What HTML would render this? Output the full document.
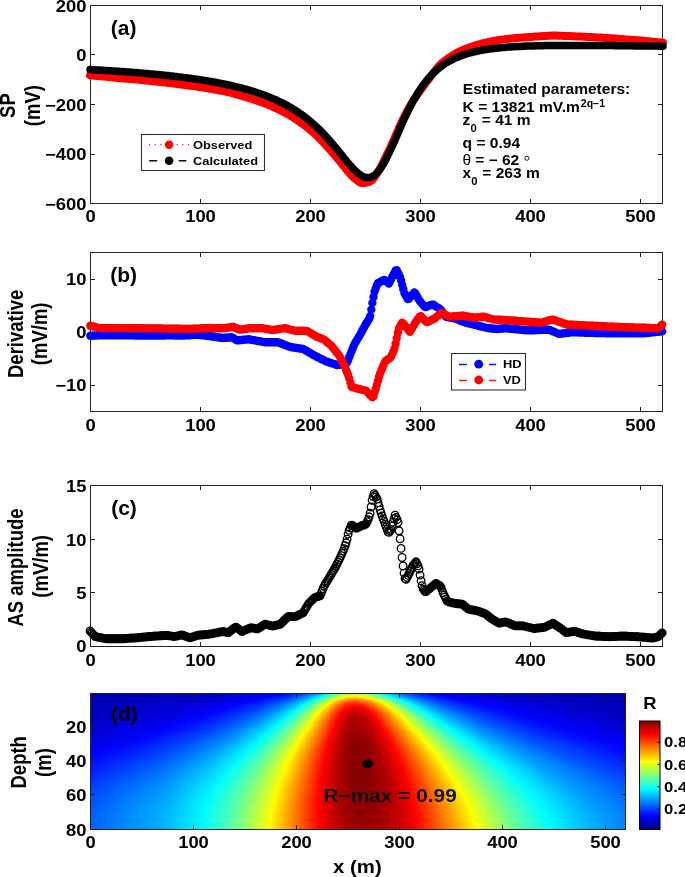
<!DOCTYPE html>
<html><head><meta charset="utf-8"><style>
html,body{margin:0;padding:0;background:#fff;width:685px;height:877px;overflow:hidden}
svg{position:absolute;left:0;top:0;font-family:"Liberation Sans",sans-serif;will-change:transform}
</style></head><body>
<svg width="685" height="877" viewBox="0 0 685 877">
<path d="M200.5 204v-5M200.5 5v5M310.5 204v-5M310.5 5v5M420.5 204v-5M420.5 5v5M530.5 204v-5M530.5 5v5M640.5 204v-5M640.5 5v5M90 54.5h5M663 54.5h-5M90 104.5h5M663 104.5h-5M90 154.5h5M663 154.5h-5" stroke="#222" stroke-width="1" fill="none"/>
<rect x="90.5" y="5.5" width="572" height="198" fill="none" stroke="#222" stroke-width="1"/>
<polyline points="90.0,75.3 91.1,75.4 92.2,75.5 93.3,75.6 94.4,75.7 95.5,75.8 96.6,75.9 97.7,76.0 98.8,76.1 99.9,76.2 101.0,76.3 102.1,76.4 103.2,76.5 104.3,76.6 105.4,76.7 106.5,76.8 107.6,76.9 108.7,77.0 109.8,77.1 110.9,77.2 112.0,77.3 113.1,77.4 114.2,77.5 115.3,77.7 116.4,77.8 117.5,77.9 118.7,78.0 119.8,78.1 120.9,78.2 122.0,78.3 123.1,78.4 124.2,78.5 125.3,78.6 126.4,78.7 127.5,78.8 128.6,78.8 129.7,78.9 130.8,79.0 131.9,79.1 133.0,79.2 134.1,79.3 135.2,79.4 136.3,79.5 137.4,79.6 138.5,79.7 139.6,79.8 140.7,79.9 141.8,80.1 142.9,80.2 144.0,80.3 145.1,80.4 146.2,80.5 147.3,80.6 148.4,80.7 149.5,80.8 150.6,80.9 151.7,81.0 152.8,81.2 153.9,81.3 155.0,81.4 156.1,81.5 157.2,81.6 158.3,81.8 159.4,81.9 160.5,82.0 161.6,82.1 162.7,82.2 163.8,82.4 164.9,82.5 166.0,82.6 167.1,82.8 168.2,82.9 169.3,83.0 170.4,83.2 171.5,83.3 172.7,83.4 173.8,83.6 174.9,83.7 176.0,83.8 177.1,84.0 178.2,84.1 179.3,84.3 180.4,84.4 181.5,84.6 182.6,84.7 183.7,84.8 184.8,85.0 185.9,85.1 187.0,85.3 188.1,85.4 189.2,85.5 190.3,85.7 191.4,85.8 192.5,86.0 193.6,86.1 194.7,86.3 195.8,86.5 196.9,86.6 198.0,86.8 199.1,86.9 200.2,87.1 201.3,87.3 202.4,87.4 203.5,87.6 204.6,87.8 205.7,88.0 206.8,88.1 207.9,88.3 209.0,88.5 210.1,88.7 211.2,88.9 212.3,89.1 213.4,89.3 214.5,89.5 215.6,89.7 216.7,89.9 217.8,90.1 218.9,90.3 220.0,90.5 221.1,90.7 222.2,90.9 223.3,91.1 224.4,91.4 225.5,91.6 226.6,91.8 227.8,92.1 228.9,92.3 230.0,92.5 231.1,92.8 232.2,93.2 233.3,93.5 234.4,93.8 235.5,94.1 236.6,94.4 237.7,94.7 238.8,95.1 239.9,95.4 241.0,95.7 242.1,96.0 243.2,96.3 244.3,96.6 245.4,96.9 246.5,97.3 247.6,97.6 248.7,97.9 249.8,98.3 250.9,98.6 252.0,99.0 253.1,99.3 254.2,99.7 255.3,100.0 256.4,100.4 257.5,100.8 258.6,101.2 259.7,101.6 260.8,102.0 261.9,102.4 263.0,102.8 264.1,103.2 265.2,103.6 266.3,104.1 267.4,104.5 268.5,104.9 269.6,105.4 270.7,105.9 271.8,106.3 272.9,106.8 274.0,107.3 275.1,107.8 276.2,108.3 277.3,108.8 278.4,109.4 279.5,109.9 280.6,110.5 281.7,111.0 282.9,111.6 284.0,112.2 285.1,112.8 286.2,113.4 287.3,114.0 288.4,114.6 289.5,115.2 290.6,115.9 291.7,116.6 292.8,117.2 293.9,117.9 295.0,118.6 296.1,119.3 297.2,120.1 298.3,120.8 299.4,121.6 300.5,122.4 301.6,123.2 302.7,124.0 303.8,124.8 304.9,125.6 306.0,126.5 307.1,127.3 308.2,128.2 309.3,129.1 310.4,130.0 311.5,131.0 312.6,131.9 313.7,132.9 314.8,133.9 315.9,134.9 317.0,136.0 318.1,137.0 319.2,138.1 320.3,139.2 321.4,140.3 322.5,141.5 323.6,142.6 324.7,143.8 325.8,145.0 326.9,146.2 328.0,147.4 329.1,148.7 330.2,149.9 331.3,151.2 332.4,152.5 333.5,153.8 334.6,155.1 335.7,156.5 336.8,157.8 338.0,159.2 339.1,160.5 340.2,161.9 341.3,163.3 342.4,164.6 343.5,166.0 344.6,167.4 345.7,168.7 346.8,170.1 347.9,171.4 349.0,172.7 350.1,174.0 351.2,175.1 352.3,176.2 353.4,177.2 354.5,178.2 355.6,179.2 356.7,180.1 357.8,180.9 358.9,181.7 360.0,182.3 361.1,182.9 362.2,183.1 363.3,183.1 364.4,183.1 365.5,183.0 366.6,182.7 367.7,182.4 368.8,182.0 369.9,181.5 371.0,180.9 372.1,180.1 373.2,178.8 374.3,177.4 375.4,175.8 376.5,174.1 377.6,172.4 378.7,170.6 379.8,168.6 380.9,166.7 382.0,164.7 383.1,162.6 384.2,160.3 385.3,158.1 386.4,155.9 387.5,153.6 388.6,151.3 389.7,148.9 390.8,146.4 391.9,143.9 393.1,141.4 394.2,138.9 395.3,136.4 396.4,133.8 397.5,131.3 398.6,128.7 399.7,126.2 400.8,123.9 401.9,121.6 403.0,119.3 404.1,117.1 405.2,114.9 406.3,112.8 407.4,110.7 408.5,108.7 409.6,106.7 410.7,104.8 411.8,103.0 412.9,101.2 414.0,99.5 415.1,97.8 416.2,96.2 417.3,94.6 418.4,93.1 419.5,91.7 420.6,90.1 421.7,88.5 422.8,86.9 423.9,85.3 425.0,83.8 426.1,82.4 427.2,81.0 428.3,79.6 429.4,78.3 430.5,76.9 431.6,75.3 432.7,73.8 433.8,72.3 434.9,70.9 436.0,69.5 437.1,68.1 438.2,66.8 439.3,65.5 440.4,64.4 441.5,63.4 442.6,62.5 443.7,61.6 444.8,60.7 445.9,59.9 447.0,59.1 448.2,58.3 449.3,57.5 450.4,56.8 451.5,56.1 452.6,55.4 453.7,54.7 454.8,54.1 455.9,53.4 457.0,52.8 458.1,52.2 459.2,51.6 460.3,51.1 461.4,50.6 462.5,50.1 463.6,49.6 464.7,49.2 465.8,48.7 466.9,48.3 468.0,47.9 469.1,47.5 470.2,47.1 471.3,46.7 472.4,46.3 473.5,46.0 474.6,45.6 475.7,45.3 476.8,44.9 477.9,44.6 479.0,44.3 480.1,44.0 481.2,43.7 482.3,43.4 483.4,43.2 484.5,42.9 485.6,42.6 486.7,42.4 487.8,42.1 488.9,41.9 490.0,41.7 491.1,41.5 492.2,41.2 493.3,41.0 494.4,40.8 495.5,40.6 496.6,40.4 497.7,40.2 498.8,40.0 499.9,39.8 501.0,39.7 502.1,39.5 503.3,39.4 504.4,39.3 505.5,39.1 506.6,39.0 507.7,38.9 508.8,38.8 509.9,38.7 511.0,38.5 512.1,38.4 513.2,38.3 514.3,38.2 515.4,38.1 516.5,38.0 517.6,37.9 518.7,37.8 519.8,37.7 520.9,37.7 522.0,37.6 523.1,37.5 524.2,37.4 525.3,37.3 526.4,37.2 527.5,37.2 528.6,37.1 529.7,37.0 530.8,36.9 531.9,36.9 533.0,36.8 534.1,36.7 535.2,36.6 536.3,36.5 537.4,36.5 538.5,36.4 539.6,36.3 540.7,36.3 541.8,36.2 542.9,36.1 544.0,36.1 545.1,36.0 546.2,35.9 547.3,35.9 548.4,35.8 549.5,35.8 550.6,35.7 551.7,35.6 552.8,35.6 553.9,35.5 555.0,35.5 556.1,35.6 557.2,35.6 558.4,35.7 559.5,35.7 560.6,35.7 561.7,35.8 562.8,35.8 563.9,35.9 565.0,35.9 566.1,36.0 567.2,36.0 568.3,36.1 569.4,36.1 570.5,36.1 571.6,36.2 572.7,36.2 573.8,36.3 574.9,36.3 576.0,36.4 577.1,36.4 578.2,36.5 579.3,36.5 580.4,36.6 581.5,36.6 582.6,36.7 583.7,36.7 584.8,36.8 585.9,36.8 587.0,36.9 588.1,36.9 589.2,37.0 590.3,37.1 591.4,37.1 592.5,37.2 593.6,37.2 594.7,37.3 595.8,37.3 596.9,37.4 598.0,37.4 599.1,37.5 600.2,37.6 601.3,37.6 602.4,37.7 603.5,37.8 604.6,37.9 605.7,37.9 606.8,38.0 607.9,38.1 609.0,38.2 610.1,38.2 611.2,38.3 612.3,38.4 613.5,38.5 614.6,38.6 615.7,38.6 616.8,38.7 617.9,38.8 619.0,38.9 620.1,39.0 621.2,39.0 622.3,39.1 623.4,39.2 624.5,39.3 625.6,39.4 626.7,39.4 627.8,39.5 628.9,39.6 630.0,39.7 631.1,39.8 632.2,39.8 633.3,39.9 634.4,40.0 635.5,40.1 636.6,40.2 637.7,40.2 638.8,40.3 639.9,40.4 641.0,40.5 642.1,40.6 643.2,40.7 644.3,40.9 645.4,41.0 646.5,41.1 647.6,41.2 648.7,41.3 649.8,41.4 650.9,41.5 652.0,41.6 653.1,41.8 654.2,41.9 655.3,42.0 656.4,42.1 657.5,42.2 658.6,42.3 659.7,42.4 660.8,42.6 661.9,42.7 663.0,42.7" fill="none" stroke="#ff0000" stroke-width="8" stroke-linecap="round" stroke-linejoin="round"/>
<polyline points="90.0,69.6 91.1,69.6 92.2,69.7 93.3,69.8 94.4,69.8 95.5,69.9 96.6,69.9 97.7,70.0 98.8,70.1 99.9,70.1 101.0,70.2 102.1,70.3 103.2,70.3 104.3,70.4 105.4,70.5 106.5,70.5 107.6,70.6 108.7,70.7 109.8,70.7 110.9,70.8 112.0,70.9 113.1,71.0 114.2,71.0 115.3,71.1 116.4,71.2 117.5,71.3 118.7,71.3 119.8,71.4 120.9,71.5 122.0,71.6 123.1,71.6 124.2,71.7 125.3,71.8 126.4,71.9 127.5,72.0 128.6,72.0 129.7,72.1 130.8,72.2 131.9,72.3 133.0,72.4 134.1,72.5 135.2,72.6 136.3,72.6 137.4,72.7 138.5,72.8 139.6,72.9 140.7,73.0 141.8,73.1 142.9,73.2 144.0,73.3 145.1,73.4 146.2,73.5 147.3,73.6 148.4,73.7 149.5,73.8 150.6,73.9 151.7,74.0 152.8,74.1 153.9,74.2 155.0,74.3 156.1,74.4 157.2,74.5 158.3,74.6 159.4,74.7 160.5,74.8 161.6,74.9 162.7,75.0 163.8,75.2 164.9,75.3 166.0,75.4 167.1,75.5 168.2,75.6 169.3,75.7 170.4,75.9 171.5,76.0 172.7,76.1 173.8,76.2 174.9,76.4 176.0,76.5 177.1,76.6 178.2,76.8 179.3,76.9 180.4,77.0 181.5,77.2 182.6,77.3 183.7,77.4 184.8,77.6 185.9,77.7 187.0,77.9 188.1,78.0 189.2,78.2 190.3,78.3 191.4,78.5 192.5,78.6 193.6,78.8 194.7,78.9 195.8,79.1 196.9,79.2 198.0,79.4 199.1,79.6 200.2,79.7 201.3,79.9 202.4,80.1 203.5,80.3 204.6,80.4 205.7,80.6 206.8,80.8 207.9,81.0 209.0,81.2 210.1,81.4 211.2,81.5 212.3,81.7 213.4,81.9 214.5,82.1 215.6,82.3 216.7,82.5 217.8,82.8 218.9,83.0 220.0,83.2 221.1,83.4 222.2,83.6 223.3,83.8 224.4,84.1 225.5,84.3 226.6,84.5 227.8,84.8 228.9,85.0 230.0,85.2 231.1,85.5 232.2,85.7 233.3,86.0 234.4,86.3 235.5,86.5 236.6,86.8 237.7,87.1 238.8,87.3 239.9,87.6 241.0,87.9 242.1,88.2 243.2,88.5 244.3,88.8 245.4,89.1 246.5,89.4 247.6,89.7 248.7,90.0 249.8,90.3 250.9,90.7 252.0,91.0 253.1,91.3 254.2,91.7 255.3,92.0 256.4,92.4 257.5,92.8 258.6,93.1 259.7,93.5 260.8,93.9 261.9,94.3 263.0,94.7 264.1,95.1 265.2,95.5 266.3,95.9 267.4,96.3 268.5,96.8 269.6,97.2 270.7,97.7 271.8,98.1 272.9,98.6 274.0,99.1 275.1,99.5 276.2,100.0 277.3,100.5 278.4,101.1 279.5,101.6 280.6,102.1 281.7,102.7 282.9,103.2 284.0,103.8 285.1,104.4 286.2,104.9 287.3,105.5 288.4,106.2 289.5,106.8 290.6,107.4 291.7,108.1 292.8,108.7 293.9,109.4 295.0,110.1 296.1,110.8 297.2,111.5 298.3,112.3 299.4,113.0 300.5,113.8 301.6,114.5 302.7,115.3 303.8,116.1 304.9,117.0 306.0,117.8 307.1,118.7 308.2,119.6 309.3,120.5 310.4,121.4 311.5,122.3 312.6,123.3 313.7,124.2 314.8,125.2 315.9,126.2 317.0,127.3 318.1,128.3 319.2,129.4 320.3,130.5 321.4,131.6 322.5,132.7 323.6,133.9 324.7,135.0 325.8,136.2 326.9,137.4 328.0,138.6 329.1,139.9 330.2,141.1 331.3,142.4 332.4,143.7 333.5,145.0 334.6,146.3 335.7,147.7 336.8,149.0 338.0,150.4 339.1,151.7 340.2,153.1 341.3,154.5 342.4,155.8 343.5,157.2 344.6,158.6 345.7,159.9 346.8,161.3 347.9,162.6 349.0,163.9 350.1,165.2 351.2,166.4 352.3,167.7 353.4,168.8 354.5,170.0 355.6,171.0 356.7,172.1 357.8,173.0 358.9,173.9 360.0,174.7 361.1,175.4 362.2,176.1 363.3,176.6 364.4,177.0 365.5,177.3 366.6,177.5 367.7,177.6 368.8,177.6 369.9,177.4 371.0,177.1 372.1,176.6 373.2,176.0 374.3,175.3 375.4,174.4 376.5,173.4 377.6,172.2 378.7,171.0 379.8,169.5 380.9,168.0 382.0,166.3 383.1,164.5 384.2,162.6 385.3,160.6 386.4,158.5 387.5,156.3 388.6,154.0 389.7,151.7 390.8,149.3 391.9,146.9 393.1,144.4 394.2,141.9 395.3,139.4 396.4,136.8 397.5,134.3 398.6,131.7 399.7,129.2 400.8,126.7 401.9,124.2 403.0,121.7 404.1,119.3 405.2,116.9 406.3,114.6 407.4,112.3 408.5,110.0 409.6,107.8 410.7,105.6 411.8,103.5 412.9,101.5 414.0,99.5 415.1,97.5 416.2,95.6 417.3,93.8 418.4,92.0 419.5,90.3 420.6,88.7 421.7,87.1 422.8,85.5 423.9,84.0 425.0,82.6 426.1,81.2 427.2,79.8 428.3,78.5 429.4,77.3 430.5,76.1 431.6,74.9 432.7,73.8 433.8,72.7 434.9,71.7 436.0,70.7 437.1,69.7 438.2,68.8 439.3,67.9 440.4,67.0 441.5,66.2 442.6,65.4 443.7,64.6 444.8,63.9 445.9,63.2 447.0,62.5 448.2,61.9 449.3,61.2 450.4,60.6 451.5,60.0 452.6,59.5 453.7,58.9 454.8,58.4 455.9,57.9 457.0,57.4 458.1,57.0 459.2,56.5 460.3,56.1 461.4,55.7 462.5,55.3 463.6,54.9 464.7,54.5 465.8,54.2 466.9,53.8 468.0,53.5 469.1,53.2 470.2,52.9 471.3,52.6 472.4,52.3 473.5,52.0 474.6,51.8 475.7,51.5 476.8,51.3 477.9,51.1 479.0,50.8 480.1,50.6 481.2,50.4 482.3,50.2 483.4,50.0 484.5,49.8 485.6,49.6 486.7,49.5 487.8,49.3 488.9,49.1 490.0,49.0 491.1,48.8 492.2,48.7 493.3,48.5 494.4,48.4 495.5,48.3 496.6,48.2 497.7,48.0 498.8,47.9 499.9,47.8 501.0,47.7 502.1,47.6 503.3,47.5 504.4,47.4 505.5,47.3 506.6,47.2 507.7,47.1 508.8,47.1 509.9,47.0 511.0,46.9 512.1,46.8 513.2,46.8 514.3,46.7 515.4,46.6 516.5,46.6 517.6,46.5 518.7,46.5 519.8,46.4 520.9,46.4 522.0,46.3 523.1,46.3 524.2,46.2 525.3,46.2 526.4,46.1 527.5,46.1 528.6,46.0 529.7,46.0 530.8,46.0 531.9,45.9 533.0,45.9 534.1,45.9 535.2,45.8 536.3,45.8 537.4,45.8 538.5,45.8 539.6,45.7 540.7,45.7 541.8,45.7 542.9,45.7 544.0,45.6 545.1,45.6 546.2,45.6 547.3,45.6 548.4,45.6 549.5,45.6 550.6,45.6 551.7,45.5 552.8,45.5 553.9,45.5 555.0,45.5 556.1,45.5 557.2,45.5 558.4,45.5 559.5,45.5 560.6,45.5 561.7,45.5 562.8,45.5 563.9,45.4 565.0,45.4 566.1,45.4 567.2,45.4 568.3,45.4 569.4,45.4 570.5,45.4 571.6,45.4 572.7,45.4 573.8,45.4 574.9,45.4 576.0,45.4 577.1,45.4 578.2,45.4 579.3,45.4 580.4,45.4 581.5,45.4 582.6,45.4 583.7,45.4 584.8,45.4 585.9,45.5 587.0,45.5 588.1,45.5 589.2,45.5 590.3,45.5 591.4,45.5 592.5,45.5 593.6,45.5 594.7,45.5 595.8,45.5 596.9,45.5 598.0,45.5 599.1,45.5 600.2,45.5 601.3,45.5 602.4,45.6 603.5,45.6 604.6,45.6 605.7,45.6 606.8,45.6 607.9,45.6 609.0,45.6 610.1,45.6 611.2,45.6 612.3,45.6 613.5,45.6 614.6,45.7 615.7,45.7 616.8,45.7 617.9,45.7 619.0,45.7 620.1,45.7 621.2,45.7 622.3,45.7 623.4,45.7 624.5,45.8 625.6,45.8 626.7,45.8 627.8,45.8 628.9,45.8 630.0,45.8 631.1,45.8 632.2,45.8 633.3,45.8 634.4,45.9 635.5,45.9 636.6,45.9 637.7,45.9 638.8,45.9 639.9,45.9 641.0,45.9 642.1,45.9 643.2,46.0 644.3,46.0 645.4,46.0 646.5,46.0 647.6,46.0 648.7,46.0 649.8,46.0 650.9,46.0 652.0,46.1 653.1,46.1 654.2,46.1 655.3,46.1 656.4,46.1 657.5,46.1 658.6,46.1 659.7,46.1 660.8,46.2 661.9,46.2 663.0,46.2" fill="none" stroke="#000" stroke-width="7.5" stroke-linecap="round" stroke-linejoin="round"/>
<text transform="translate(90.50,222.00) scale(1.15,1)" font-size="16" text-anchor="middle" font-weight="bold" fill="#000">0</text>
<text transform="translate(200.50,222.00) scale(1.15,1)" font-size="16" text-anchor="middle" font-weight="bold" fill="#000">100</text>
<text transform="translate(310.50,222.00) scale(1.15,1)" font-size="16" text-anchor="middle" font-weight="bold" fill="#000">200</text>
<text transform="translate(420.50,222.00) scale(1.15,1)" font-size="16" text-anchor="middle" font-weight="bold" fill="#000">300</text>
<text transform="translate(530.50,222.00) scale(1.15,1)" font-size="16" text-anchor="middle" font-weight="bold" fill="#000">400</text>
<text transform="translate(640.50,222.00) scale(1.15,1)" font-size="16" text-anchor="middle" font-weight="bold" fill="#000">500</text>
<text transform="translate(86.50,11.50) scale(1.15,1)" font-size="16" text-anchor="end" font-weight="bold" fill="#000">200</text>
<text transform="translate(86.50,61.00) scale(1.15,1)" font-size="16" text-anchor="end" font-weight="bold" fill="#000">0</text>
<text transform="translate(86.50,110.50) scale(1.15,1)" font-size="16" text-anchor="end" font-weight="bold" fill="#000">−200</text>
<text transform="translate(86.50,160.00) scale(1.15,1)" font-size="16" text-anchor="end" font-weight="bold" fill="#000">−400</text>
<text transform="translate(86.50,209.50) scale(1.15,1)" font-size="16" text-anchor="end" font-weight="bold" fill="#000">−600</text>
<text transform="translate(110.80,35.40) scale(1.0,1)" font-size="21" text-anchor="start" font-weight="bold" fill="#000">(a)</text>
<text transform="translate(15.00,105.60) scale(1.15,1) rotate(-90)" font-size="18.5" text-anchor="middle" font-weight="bold" fill="#000">SP</text>
<text transform="translate(40.20,105.60) scale(1.15,1) rotate(-90)" font-size="18.5" text-anchor="middle" font-weight="bold" fill="#000">(mV)</text>
<rect x="141.5" y="134.5" width="123" height="36" fill="#fff" stroke="#333" stroke-width="1.1"/>
<path d="M149 144.7h1M154.7 144.7h1M160.4 144.7h1M176.6 144.7h1M182.3 144.7h1M188 144.7h1" stroke="#f00" stroke-width="1.2"/>
<circle cx="169.1" cy="144.7" r="4.3" fill="#f00"/>
<path d="M149.2 160.7h8M178.7 160.7h7.6" stroke="#000" stroke-width="1.4"/>
<circle cx="169.1" cy="160.7" r="4.3" fill="#000"/>
<text transform="translate(193.00,148.80) scale(1.15,1)" font-size="11.2" text-anchor="start" font-weight="bold" fill="#000">Observed</text>
<text transform="translate(193.00,164.60) scale(1.15,1)" font-size="11.2" text-anchor="start" font-weight="bold" fill="#000">Calculated</text>
<text transform="translate(462.80,93.75) scale(1.11,1)" font-size="14" text-anchor="start" font-weight="bold" fill="#000">Estimated parameters:</text>
<text transform="translate(462.60,112.20) scale(1.11,1)" font-size="14" text-anchor="start" font-weight="bold" fill="#000">K = 13821 mV.m</text>
<text transform="translate(580.80,106.60) scale(1.05,1)" font-size="10" text-anchor="start" font-weight="bold" fill="#000">2q−1</text>
<text transform="translate(462.40,125.20) scale(1.11,1)" font-size="14" text-anchor="start" font-weight="bold" fill="#000">z</text>
<text transform="translate(470.60,132.40) scale(1.1,1)" font-size="10.2" text-anchor="start" font-weight="bold" fill="#000">0</text>
<text transform="translate(481.80,125.20) scale(1.11,1)" font-size="14" text-anchor="start" font-weight="bold" fill="#000">= 41 m</text>
<text transform="translate(462.60,147.80) scale(1.11,1)" font-size="14" text-anchor="start" font-weight="bold" fill="#000">q = 0.94</text>
<text transform="translate(462.40,164.60) scale(1.11,1)" font-size="14" text-anchor="start" font-weight="normal" fill="#000">θ</text>
<text transform="translate(475.20,164.60) scale(1.11,1)" font-size="14" text-anchor="start" font-weight="bold" fill="#000">= − 62</text>
<circle cx="526.9" cy="158.2" r="2.1" fill="none" stroke="#000" stroke-width="0.9"/>
<text transform="translate(462.40,178.30) scale(1.11,1)" font-size="14" text-anchor="start" font-weight="bold" fill="#000">x</text>
<text transform="translate(471.20,185.30) scale(1.1,1)" font-size="10.2" text-anchor="start" font-weight="bold" fill="#000">0</text>
<text transform="translate(482.30,178.30) scale(1.11,1)" font-size="14" text-anchor="start" font-weight="bold" fill="#000">= 263 m</text>
<path d="M200.5 412v-5M200.5 252v5M310.5 412v-5M310.5 252v5M420.5 412v-5M420.5 252v5M530.5 412v-5M530.5 252v5M640.5 412v-5M640.5 252v5M90 279.5h5M663 279.5h-5M90 332.5h5M663 332.5h-5M90 385.5h5M663 385.5h-5" stroke="#222" stroke-width="1" fill="none"/>
<rect x="90.5" y="252.5" width="572" height="159" fill="none" stroke="#222" stroke-width="1"/>
<path d="M86.1 335.8a4.2 4.2 0 1 0 8.4 0a4.2 4.2 0 1 0 -8.4 0M87.2 335.7a4.2 4.2 0 1 0 8.4 0a4.2 4.2 0 1 0 -8.4 0M88.3 335.7a4.2 4.2 0 1 0 8.4 0a4.2 4.2 0 1 0 -8.4 0M89.4 335.6a4.2 4.2 0 1 0 8.4 0a4.2 4.2 0 1 0 -8.4 0M90.5 335.6a4.2 4.2 0 1 0 8.4 0a4.2 4.2 0 1 0 -8.4 0M91.6 335.5a4.2 4.2 0 1 0 8.4 0a4.2 4.2 0 1 0 -8.4 0M92.7 335.5a4.2 4.2 0 1 0 8.4 0a4.2 4.2 0 1 0 -8.4 0M93.8 335.4a4.2 4.2 0 1 0 8.4 0a4.2 4.2 0 1 0 -8.4 0M94.9 335.3a4.2 4.2 0 1 0 8.4 0a4.2 4.2 0 1 0 -8.4 0M96.0 335.3a4.2 4.2 0 1 0 8.4 0a4.2 4.2 0 1 0 -8.4 0M97.1 335.3a4.2 4.2 0 1 0 8.4 0a4.2 4.2 0 1 0 -8.4 0M98.2 335.3a4.2 4.2 0 1 0 8.4 0a4.2 4.2 0 1 0 -8.4 0M99.3 335.3a4.2 4.2 0 1 0 8.4 0a4.2 4.2 0 1 0 -8.4 0M100.4 335.3a4.2 4.2 0 1 0 8.4 0a4.2 4.2 0 1 0 -8.4 0M101.5 335.3a4.2 4.2 0 1 0 8.4 0a4.2 4.2 0 1 0 -8.4 0M102.6 335.3a4.2 4.2 0 1 0 8.4 0a4.2 4.2 0 1 0 -8.4 0M103.7 335.3a4.2 4.2 0 1 0 8.4 0a4.2 4.2 0 1 0 -8.4 0M104.8 335.3a4.2 4.2 0 1 0 8.4 0a4.2 4.2 0 1 0 -8.4 0M105.9 335.3a4.2 4.2 0 1 0 8.4 0a4.2 4.2 0 1 0 -8.4 0M107.0 335.3a4.2 4.2 0 1 0 8.4 0a4.2 4.2 0 1 0 -8.4 0M108.1 335.3a4.2 4.2 0 1 0 8.4 0a4.2 4.2 0 1 0 -8.4 0M109.2 335.3a4.2 4.2 0 1 0 8.4 0a4.2 4.2 0 1 0 -8.4 0M110.3 335.3a4.2 4.2 0 1 0 8.4 0a4.2 4.2 0 1 0 -8.4 0M111.4 335.3a4.2 4.2 0 1 0 8.4 0a4.2 4.2 0 1 0 -8.4 0M112.5 335.3a4.2 4.2 0 1 0 8.4 0a4.2 4.2 0 1 0 -8.4 0M113.7 335.3a4.2 4.2 0 1 0 8.4 0a4.2 4.2 0 1 0 -8.4 0M114.8 335.3a4.2 4.2 0 1 0 8.4 0a4.2 4.2 0 1 0 -8.4 0M115.9 335.3a4.2 4.2 0 1 0 8.4 0a4.2 4.2 0 1 0 -8.4 0M117.0 335.3a4.2 4.2 0 1 0 8.4 0a4.2 4.2 0 1 0 -8.4 0M118.1 335.3a4.2 4.2 0 1 0 8.4 0a4.2 4.2 0 1 0 -8.4 0M119.2 335.3a4.2 4.2 0 1 0 8.4 0a4.2 4.2 0 1 0 -8.4 0M120.3 335.3a4.2 4.2 0 1 0 8.4 0a4.2 4.2 0 1 0 -8.4 0M121.4 335.4a4.2 4.2 0 1 0 8.4 0a4.2 4.2 0 1 0 -8.4 0M122.5 335.4a4.2 4.2 0 1 0 8.4 0a4.2 4.2 0 1 0 -8.4 0M123.6 335.4a4.2 4.2 0 1 0 8.4 0a4.2 4.2 0 1 0 -8.4 0M124.7 335.4a4.2 4.2 0 1 0 8.4 0a4.2 4.2 0 1 0 -8.4 0M125.8 335.4a4.2 4.2 0 1 0 8.4 0a4.2 4.2 0 1 0 -8.4 0M126.9 335.4a4.2 4.2 0 1 0 8.4 0a4.2 4.2 0 1 0 -8.4 0M128.0 335.4a4.2 4.2 0 1 0 8.4 0a4.2 4.2 0 1 0 -8.4 0M129.1 335.4a4.2 4.2 0 1 0 8.4 0a4.2 4.2 0 1 0 -8.4 0M130.2 335.4a4.2 4.2 0 1 0 8.4 0a4.2 4.2 0 1 0 -8.4 0M131.3 335.5a4.2 4.2 0 1 0 8.4 0a4.2 4.2 0 1 0 -8.4 0M132.4 335.5a4.2 4.2 0 1 0 8.4 0a4.2 4.2 0 1 0 -8.4 0M133.5 335.5a4.2 4.2 0 1 0 8.4 0a4.2 4.2 0 1 0 -8.4 0M134.6 335.5a4.2 4.2 0 1 0 8.4 0a4.2 4.2 0 1 0 -8.4 0M135.7 335.5a4.2 4.2 0 1 0 8.4 0a4.2 4.2 0 1 0 -8.4 0M136.8 335.5a4.2 4.2 0 1 0 8.4 0a4.2 4.2 0 1 0 -8.4 0M137.9 335.5a4.2 4.2 0 1 0 8.4 0a4.2 4.2 0 1 0 -8.4 0M139.0 335.5a4.2 4.2 0 1 0 8.4 0a4.2 4.2 0 1 0 -8.4 0M140.1 335.5a4.2 4.2 0 1 0 8.4 0a4.2 4.2 0 1 0 -8.4 0M141.2 335.5a4.2 4.2 0 1 0 8.4 0a4.2 4.2 0 1 0 -8.4 0M142.3 335.5a4.2 4.2 0 1 0 8.4 0a4.2 4.2 0 1 0 -8.4 0M143.4 335.5a4.2 4.2 0 1 0 8.4 0a4.2 4.2 0 1 0 -8.4 0M144.5 335.5a4.2 4.2 0 1 0 8.4 0a4.2 4.2 0 1 0 -8.4 0M145.6 335.5a4.2 4.2 0 1 0 8.4 0a4.2 4.2 0 1 0 -8.4 0M146.7 335.5a4.2 4.2 0 1 0 8.4 0a4.2 4.2 0 1 0 -8.4 0M147.8 335.5a4.2 4.2 0 1 0 8.4 0a4.2 4.2 0 1 0 -8.4 0M148.9 335.5a4.2 4.2 0 1 0 8.4 0a4.2 4.2 0 1 0 -8.4 0M150.0 335.5a4.2 4.2 0 1 0 8.4 0a4.2 4.2 0 1 0 -8.4 0M151.1 335.5a4.2 4.2 0 1 0 8.4 0a4.2 4.2 0 1 0 -8.4 0M152.2 335.5a4.2 4.2 0 1 0 8.4 0a4.2 4.2 0 1 0 -8.4 0M153.3 335.5a4.2 4.2 0 1 0 8.4 0a4.2 4.2 0 1 0 -8.4 0M154.4 335.5a4.2 4.2 0 1 0 8.4 0a4.2 4.2 0 1 0 -8.4 0M155.5 335.5a4.2 4.2 0 1 0 8.4 0a4.2 4.2 0 1 0 -8.4 0M156.6 335.5a4.2 4.2 0 1 0 8.4 0a4.2 4.2 0 1 0 -8.4 0M157.7 335.5a4.2 4.2 0 1 0 8.4 0a4.2 4.2 0 1 0 -8.4 0M158.8 335.5a4.2 4.2 0 1 0 8.4 0a4.2 4.2 0 1 0 -8.4 0M159.9 335.5a4.2 4.2 0 1 0 8.4 0a4.2 4.2 0 1 0 -8.4 0M161.0 335.4a4.2 4.2 0 1 0 8.4 0a4.2 4.2 0 1 0 -8.4 0M162.1 335.4a4.2 4.2 0 1 0 8.4 0a4.2 4.2 0 1 0 -8.4 0M163.2 335.4a4.2 4.2 0 1 0 8.4 0a4.2 4.2 0 1 0 -8.4 0M164.3 335.4a4.2 4.2 0 1 0 8.4 0a4.2 4.2 0 1 0 -8.4 0M165.4 335.4a4.2 4.2 0 1 0 8.4 0a4.2 4.2 0 1 0 -8.4 0M166.5 335.4a4.2 4.2 0 1 0 8.4 0a4.2 4.2 0 1 0 -8.4 0M167.6 335.4a4.2 4.2 0 1 0 8.4 0a4.2 4.2 0 1 0 -8.4 0M168.8 335.4a4.2 4.2 0 1 0 8.4 0a4.2 4.2 0 1 0 -8.4 0M169.9 335.5a4.2 4.2 0 1 0 8.4 0a4.2 4.2 0 1 0 -8.4 0M171.0 335.5a4.2 4.2 0 1 0 8.4 0a4.2 4.2 0 1 0 -8.4 0M172.1 335.5a4.2 4.2 0 1 0 8.4 0a4.2 4.2 0 1 0 -8.4 0M173.2 335.5a4.2 4.2 0 1 0 8.4 0a4.2 4.2 0 1 0 -8.4 0M174.3 335.5a4.2 4.2 0 1 0 8.4 0a4.2 4.2 0 1 0 -8.4 0M175.4 335.5a4.2 4.2 0 1 0 8.4 0a4.2 4.2 0 1 0 -8.4 0M176.5 335.6a4.2 4.2 0 1 0 8.4 0a4.2 4.2 0 1 0 -8.4 0M177.6 335.6a4.2 4.2 0 1 0 8.4 0a4.2 4.2 0 1 0 -8.4 0M178.7 335.6a4.2 4.2 0 1 0 8.4 0a4.2 4.2 0 1 0 -8.4 0M179.8 335.5a4.2 4.2 0 1 0 8.4 0a4.2 4.2 0 1 0 -8.4 0M180.9 335.5a4.2 4.2 0 1 0 8.4 0a4.2 4.2 0 1 0 -8.4 0M182.0 335.4a4.2 4.2 0 1 0 8.4 0a4.2 4.2 0 1 0 -8.4 0M183.1 335.3a4.2 4.2 0 1 0 8.4 0a4.2 4.2 0 1 0 -8.4 0M184.2 335.2a4.2 4.2 0 1 0 8.4 0a4.2 4.2 0 1 0 -8.4 0M185.3 335.2a4.2 4.2 0 1 0 8.4 0a4.2 4.2 0 1 0 -8.4 0M186.4 335.1a4.2 4.2 0 1 0 8.4 0a4.2 4.2 0 1 0 -8.4 0M187.5 335.0a4.2 4.2 0 1 0 8.4 0a4.2 4.2 0 1 0 -8.4 0M188.6 334.9a4.2 4.2 0 1 0 8.4 0a4.2 4.2 0 1 0 -8.4 0M189.7 334.9a4.2 4.2 0 1 0 8.4 0a4.2 4.2 0 1 0 -8.4 0M190.8 334.8a4.2 4.2 0 1 0 8.4 0a4.2 4.2 0 1 0 -8.4 0M191.9 334.7a4.2 4.2 0 1 0 8.4 0a4.2 4.2 0 1 0 -8.4 0M193.0 334.8a4.2 4.2 0 1 0 8.4 0a4.2 4.2 0 1 0 -8.4 0M194.1 334.9a4.2 4.2 0 1 0 8.4 0a4.2 4.2 0 1 0 -8.4 0M195.2 335.0a4.2 4.2 0 1 0 8.4 0a4.2 4.2 0 1 0 -8.4 0M196.3 335.1a4.2 4.2 0 1 0 8.4 0a4.2 4.2 0 1 0 -8.4 0M197.4 335.2a4.2 4.2 0 1 0 8.4 0a4.2 4.2 0 1 0 -8.4 0M198.5 335.3a4.2 4.2 0 1 0 8.4 0a4.2 4.2 0 1 0 -8.4 0M199.6 335.4a4.2 4.2 0 1 0 8.4 0a4.2 4.2 0 1 0 -8.4 0M200.7 335.6a4.2 4.2 0 1 0 8.4 0a4.2 4.2 0 1 0 -8.4 0M201.8 335.7a4.2 4.2 0 1 0 8.4 0a4.2 4.2 0 1 0 -8.4 0M202.9 335.8a4.2 4.2 0 1 0 8.4 0a4.2 4.2 0 1 0 -8.4 0M204.0 335.9a4.2 4.2 0 1 0 8.4 0a4.2 4.2 0 1 0 -8.4 0M205.1 336.0a4.2 4.2 0 1 0 8.4 0a4.2 4.2 0 1 0 -8.4 0M206.2 336.2a4.2 4.2 0 1 0 8.4 0a4.2 4.2 0 1 0 -8.4 0M207.3 336.3a4.2 4.2 0 1 0 8.4 0a4.2 4.2 0 1 0 -8.4 0M208.4 336.5a4.2 4.2 0 1 0 8.4 0a4.2 4.2 0 1 0 -8.4 0M209.5 336.7a4.2 4.2 0 1 0 8.4 0a4.2 4.2 0 1 0 -8.4 0M210.6 336.8a4.2 4.2 0 1 0 8.4 0a4.2 4.2 0 1 0 -8.4 0M211.7 337.0a4.2 4.2 0 1 0 8.4 0a4.2 4.2 0 1 0 -8.4 0M212.8 337.2a4.2 4.2 0 1 0 8.4 0a4.2 4.2 0 1 0 -8.4 0M213.9 337.3a4.2 4.2 0 1 0 8.4 0a4.2 4.2 0 1 0 -8.4 0M215.0 337.5a4.2 4.2 0 1 0 8.4 0a4.2 4.2 0 1 0 -8.4 0M216.1 337.7a4.2 4.2 0 1 0 8.4 0a4.2 4.2 0 1 0 -8.4 0M217.2 337.8a4.2 4.2 0 1 0 8.4 0a4.2 4.2 0 1 0 -8.4 0M218.3 338.0a4.2 4.2 0 1 0 8.4 0a4.2 4.2 0 1 0 -8.4 0M219.4 337.9a4.2 4.2 0 1 0 8.4 0a4.2 4.2 0 1 0 -8.4 0M220.5 337.8a4.2 4.2 0 1 0 8.4 0a4.2 4.2 0 1 0 -8.4 0M221.6 337.8a4.2 4.2 0 1 0 8.4 0a4.2 4.2 0 1 0 -8.4 0M222.7 337.7a4.2 4.2 0 1 0 8.4 0a4.2 4.2 0 1 0 -8.4 0M223.9 337.6a4.2 4.2 0 1 0 8.4 0a4.2 4.2 0 1 0 -8.4 0M225.0 337.5a4.2 4.2 0 1 0 8.4 0a4.2 4.2 0 1 0 -8.4 0M226.1 337.4a4.2 4.2 0 1 0 8.4 0a4.2 4.2 0 1 0 -8.4 0M227.2 337.3a4.2 4.2 0 1 0 8.4 0a4.2 4.2 0 1 0 -8.4 0M228.3 337.7a4.2 4.2 0 1 0 8.4 0a4.2 4.2 0 1 0 -8.4 0M229.4 338.3a4.2 4.2 0 1 0 8.4 0a4.2 4.2 0 1 0 -8.4 0M230.5 339.0a4.2 4.2 0 1 0 8.4 0a4.2 4.2 0 1 0 -8.4 0M231.6 339.7a4.2 4.2 0 1 0 8.4 0a4.2 4.2 0 1 0 -8.4 0M232.7 340.3a4.2 4.2 0 1 0 8.4 0a4.2 4.2 0 1 0 -8.4 0M233.8 340.3a4.2 4.2 0 1 0 8.4 0a4.2 4.2 0 1 0 -8.4 0M234.9 340.2a4.2 4.2 0 1 0 8.4 0a4.2 4.2 0 1 0 -8.4 0M236.0 340.1a4.2 4.2 0 1 0 8.4 0a4.2 4.2 0 1 0 -8.4 0M237.1 340.0a4.2 4.2 0 1 0 8.4 0a4.2 4.2 0 1 0 -8.4 0M238.2 339.9a4.2 4.2 0 1 0 8.4 0a4.2 4.2 0 1 0 -8.4 0M239.3 339.8a4.2 4.2 0 1 0 8.4 0a4.2 4.2 0 1 0 -8.4 0M240.4 339.7a4.2 4.2 0 1 0 8.4 0a4.2 4.2 0 1 0 -8.4 0M241.5 339.6a4.2 4.2 0 1 0 8.4 0a4.2 4.2 0 1 0 -8.4 0M242.6 339.5a4.2 4.2 0 1 0 8.4 0a4.2 4.2 0 1 0 -8.4 0M243.7 339.4a4.2 4.2 0 1 0 8.4 0a4.2 4.2 0 1 0 -8.4 0M244.8 339.3a4.2 4.2 0 1 0 8.4 0a4.2 4.2 0 1 0 -8.4 0M245.9 339.5a4.2 4.2 0 1 0 8.4 0a4.2 4.2 0 1 0 -8.4 0M247.0 339.7a4.2 4.2 0 1 0 8.4 0a4.2 4.2 0 1 0 -8.4 0M248.1 339.9a4.2 4.2 0 1 0 8.4 0a4.2 4.2 0 1 0 -8.4 0M249.2 340.1a4.2 4.2 0 1 0 8.4 0a4.2 4.2 0 1 0 -8.4 0M250.3 340.3a4.2 4.2 0 1 0 8.4 0a4.2 4.2 0 1 0 -8.4 0M251.4 340.5a4.2 4.2 0 1 0 8.4 0a4.2 4.2 0 1 0 -8.4 0M252.5 340.7a4.2 4.2 0 1 0 8.4 0a4.2 4.2 0 1 0 -8.4 0M253.6 340.9a4.2 4.2 0 1 0 8.4 0a4.2 4.2 0 1 0 -8.4 0M254.7 341.1a4.2 4.2 0 1 0 8.4 0a4.2 4.2 0 1 0 -8.4 0M255.8 341.3a4.2 4.2 0 1 0 8.4 0a4.2 4.2 0 1 0 -8.4 0M256.9 341.5a4.2 4.2 0 1 0 8.4 0a4.2 4.2 0 1 0 -8.4 0M258.0 341.7a4.2 4.2 0 1 0 8.4 0a4.2 4.2 0 1 0 -8.4 0M259.1 341.9a4.2 4.2 0 1 0 8.4 0a4.2 4.2 0 1 0 -8.4 0M260.2 342.1a4.2 4.2 0 1 0 8.4 0a4.2 4.2 0 1 0 -8.4 0M261.3 342.3a4.2 4.2 0 1 0 8.4 0a4.2 4.2 0 1 0 -8.4 0M262.4 342.3a4.2 4.2 0 1 0 8.4 0a4.2 4.2 0 1 0 -8.4 0M263.5 342.3a4.2 4.2 0 1 0 8.4 0a4.2 4.2 0 1 0 -8.4 0M264.6 342.3a4.2 4.2 0 1 0 8.4 0a4.2 4.2 0 1 0 -8.4 0M265.7 342.3a4.2 4.2 0 1 0 8.4 0a4.2 4.2 0 1 0 -8.4 0M266.8 342.3a4.2 4.2 0 1 0 8.4 0a4.2 4.2 0 1 0 -8.4 0M267.9 342.3a4.2 4.2 0 1 0 8.4 0a4.2 4.2 0 1 0 -8.4 0M269.0 342.3a4.2 4.2 0 1 0 8.4 0a4.2 4.2 0 1 0 -8.4 0M270.1 342.3a4.2 4.2 0 1 0 8.4 0a4.2 4.2 0 1 0 -8.4 0M271.2 342.3a4.2 4.2 0 1 0 8.4 0a4.2 4.2 0 1 0 -8.4 0M272.3 342.3a4.2 4.2 0 1 0 8.4 0a4.2 4.2 0 1 0 -8.4 0M273.4 342.3a4.2 4.2 0 1 0 8.4 0a4.2 4.2 0 1 0 -8.4 0M274.5 342.4a4.2 4.2 0 1 0 8.4 0a4.2 4.2 0 1 0 -8.4 0M275.6 342.9a4.2 4.2 0 1 0 8.4 0a4.2 4.2 0 1 0 -8.4 0M276.7 343.3a4.2 4.2 0 1 0 8.4 0a4.2 4.2 0 1 0 -8.4 0M277.8 343.8a4.2 4.2 0 1 0 8.4 0a4.2 4.2 0 1 0 -8.4 0M279.0 344.2a4.2 4.2 0 1 0 8.4 0a4.2 4.2 0 1 0 -8.4 0M280.1 344.7a4.2 4.2 0 1 0 8.4 0a4.2 4.2 0 1 0 -8.4 0M281.2 345.1a4.2 4.2 0 1 0 8.4 0a4.2 4.2 0 1 0 -8.4 0M282.3 345.6a4.2 4.2 0 1 0 8.4 0a4.2 4.2 0 1 0 -8.4 0M283.4 346.0a4.2 4.2 0 1 0 8.4 0a4.2 4.2 0 1 0 -8.4 0M284.5 346.5a4.2 4.2 0 1 0 8.4 0a4.2 4.2 0 1 0 -8.4 0M285.6 346.9a4.2 4.2 0 1 0 8.4 0a4.2 4.2 0 1 0 -8.4 0M286.7 347.1a4.2 4.2 0 1 0 8.4 0a4.2 4.2 0 1 0 -8.4 0M287.8 347.3a4.2 4.2 0 1 0 8.4 0a4.2 4.2 0 1 0 -8.4 0M288.9 347.5a4.2 4.2 0 1 0 8.4 0a4.2 4.2 0 1 0 -8.4 0M290.0 347.6a4.2 4.2 0 1 0 8.4 0a4.2 4.2 0 1 0 -8.4 0M291.1 347.8a4.2 4.2 0 1 0 8.4 0a4.2 4.2 0 1 0 -8.4 0M292.2 348.0a4.2 4.2 0 1 0 8.4 0a4.2 4.2 0 1 0 -8.4 0M293.3 348.1a4.2 4.2 0 1 0 8.4 0a4.2 4.2 0 1 0 -8.4 0M294.4 348.3a4.2 4.2 0 1 0 8.4 0a4.2 4.2 0 1 0 -8.4 0M295.5 348.5a4.2 4.2 0 1 0 8.4 0a4.2 4.2 0 1 0 -8.4 0M296.6 348.6a4.2 4.2 0 1 0 8.4 0a4.2 4.2 0 1 0 -8.4 0M297.7 348.8a4.2 4.2 0 1 0 8.4 0a4.2 4.2 0 1 0 -8.4 0M298.8 349.0a4.2 4.2 0 1 0 8.4 0a4.2 4.2 0 1 0 -8.4 0M299.9 349.6a4.2 4.2 0 1 0 8.4 0a4.2 4.2 0 1 0 -8.4 0M301.0 350.2a4.2 4.2 0 1 0 8.4 0a4.2 4.2 0 1 0 -8.4 0M302.1 350.8a4.2 4.2 0 1 0 8.4 0a4.2 4.2 0 1 0 -8.4 0M303.2 351.5a4.2 4.2 0 1 0 8.4 0a4.2 4.2 0 1 0 -8.4 0M304.3 352.1a4.2 4.2 0 1 0 8.4 0a4.2 4.2 0 1 0 -8.4 0M305.4 352.8a4.2 4.2 0 1 0 8.4 0a4.2 4.2 0 1 0 -8.4 0M306.5 353.4a4.2 4.2 0 1 0 8.4 0a4.2 4.2 0 1 0 -8.4 0M307.6 354.0a4.2 4.2 0 1 0 8.4 0a4.2 4.2 0 1 0 -8.4 0M308.7 354.7a4.2 4.2 0 1 0 8.4 0a4.2 4.2 0 1 0 -8.4 0M309.8 355.3a4.2 4.2 0 1 0 8.4 0a4.2 4.2 0 1 0 -8.4 0M310.9 355.9a4.2 4.2 0 1 0 8.4 0a4.2 4.2 0 1 0 -8.4 0M312.0 356.5a4.2 4.2 0 1 0 8.4 0a4.2 4.2 0 1 0 -8.4 0M313.1 357.0a4.2 4.2 0 1 0 8.4 0a4.2 4.2 0 1 0 -8.4 0M314.2 357.6a4.2 4.2 0 1 0 8.4 0a4.2 4.2 0 1 0 -8.4 0M315.3 358.1a4.2 4.2 0 1 0 8.4 0a4.2 4.2 0 1 0 -8.4 0M316.4 358.7a4.2 4.2 0 1 0 8.4 0a4.2 4.2 0 1 0 -8.4 0M317.5 359.2a4.2 4.2 0 1 0 8.4 0a4.2 4.2 0 1 0 -8.4 0M318.6 359.8a4.2 4.2 0 1 0 8.4 0a4.2 4.2 0 1 0 -8.4 0M319.7 360.3a4.2 4.2 0 1 0 8.4 0a4.2 4.2 0 1 0 -8.4 0M320.8 360.9a4.2 4.2 0 1 0 8.4 0a4.2 4.2 0 1 0 -8.4 0M321.9 361.4a4.2 4.2 0 1 0 8.4 0a4.2 4.2 0 1 0 -8.4 0M323.0 361.7a4.2 4.2 0 1 0 8.4 0a4.2 4.2 0 1 0 -8.4 0M324.1 362.1a4.2 4.2 0 1 0 8.4 0a4.2 4.2 0 1 0 -8.4 0M325.2 362.5a4.2 4.2 0 1 0 8.4 0a4.2 4.2 0 1 0 -8.4 0M326.3 362.8a4.2 4.2 0 1 0 8.4 0a4.2 4.2 0 1 0 -8.4 0M327.4 363.2a4.2 4.2 0 1 0 8.4 0a4.2 4.2 0 1 0 -8.4 0M328.5 363.6a4.2 4.2 0 1 0 8.4 0a4.2 4.2 0 1 0 -8.4 0M329.6 363.9a4.2 4.2 0 1 0 8.4 0a4.2 4.2 0 1 0 -8.4 0M330.7 364.3a4.2 4.2 0 1 0 8.4 0a4.2 4.2 0 1 0 -8.4 0M331.8 364.7a4.2 4.2 0 1 0 8.4 0a4.2 4.2 0 1 0 -8.4 0M332.9 365.0a4.2 4.2 0 1 0 8.4 0a4.2 4.2 0 1 0 -8.4 0M334.1 364.9a4.2 4.2 0 1 0 8.4 0a4.2 4.2 0 1 0 -8.4 0M335.2 364.7a4.2 4.2 0 1 0 8.4 0a4.2 4.2 0 1 0 -8.4 0M336.3 364.5a4.2 4.2 0 1 0 8.4 0a4.2 4.2 0 1 0 -8.4 0M337.4 364.2a4.2 4.2 0 1 0 8.4 0a4.2 4.2 0 1 0 -8.4 0M338.5 364.0a4.2 4.2 0 1 0 8.4 0a4.2 4.2 0 1 0 -8.4 0M339.6 363.8a4.2 4.2 0 1 0 8.4 0a4.2 4.2 0 1 0 -8.4 0M340.7 363.6a4.2 4.2 0 1 0 8.4 0a4.2 4.2 0 1 0 -8.4 0M341.8 363.4a4.2 4.2 0 1 0 8.4 0a4.2 4.2 0 1 0 -8.4 0M342.9 362.5a4.2 4.2 0 1 0 8.4 0a4.2 4.2 0 1 0 -8.4 0M344.0 359.8a4.2 4.2 0 1 0 8.4 0a4.2 4.2 0 1 0 -8.4 0M345.1 357.0a4.2 4.2 0 1 0 8.4 0a4.2 4.2 0 1 0 -8.4 0M346.2 354.3a4.2 4.2 0 1 0 8.4 0a4.2 4.2 0 1 0 -8.4 0M347.3 351.5a4.2 4.2 0 1 0 8.4 0a4.2 4.2 0 1 0 -8.4 0M348.4 348.8a4.2 4.2 0 1 0 8.4 0a4.2 4.2 0 1 0 -8.4 0M349.5 346.0a4.2 4.2 0 1 0 8.4 0a4.2 4.2 0 1 0 -8.4 0M350.6 343.6a4.2 4.2 0 1 0 8.4 0a4.2 4.2 0 1 0 -8.4 0M351.7 341.7a4.2 4.2 0 1 0 8.4 0a4.2 4.2 0 1 0 -8.4 0M352.8 339.9a4.2 4.2 0 1 0 8.4 0a4.2 4.2 0 1 0 -8.4 0M353.9 338.1a4.2 4.2 0 1 0 8.4 0a4.2 4.2 0 1 0 -8.4 0M355.0 336.2a4.2 4.2 0 1 0 8.4 0a4.2 4.2 0 1 0 -8.4 0M356.1 334.4a4.2 4.2 0 1 0 8.4 0a4.2 4.2 0 1 0 -8.4 0M357.2 332.3a4.2 4.2 0 1 0 8.4 0a4.2 4.2 0 1 0 -8.4 0M358.3 330.3a4.2 4.2 0 1 0 8.4 0a4.2 4.2 0 1 0 -8.4 0M359.4 328.3a4.2 4.2 0 1 0 8.4 0a4.2 4.2 0 1 0 -8.4 0M360.5 326.3a4.2 4.2 0 1 0 8.4 0a4.2 4.2 0 1 0 -8.4 0M361.6 324.3a4.2 4.2 0 1 0 8.4 0a4.2 4.2 0 1 0 -8.4 0M362.7 322.5a4.2 4.2 0 1 0 8.4 0a4.2 4.2 0 1 0 -8.4 0M363.8 320.8a4.2 4.2 0 1 0 8.4 0a4.2 4.2 0 1 0 -8.4 0M364.9 319.0a4.2 4.2 0 1 0 8.4 0a4.2 4.2 0 1 0 -8.4 0M366.0 316.3a4.2 4.2 0 1 0 8.4 0a4.2 4.2 0 1 0 -8.4 0M367.1 309.6a4.2 4.2 0 1 0 8.4 0a4.2 4.2 0 1 0 -8.4 0M368.2 302.9a4.2 4.2 0 1 0 8.4 0a4.2 4.2 0 1 0 -8.4 0M369.3 297.0a4.2 4.2 0 1 0 8.4 0a4.2 4.2 0 1 0 -8.4 0M370.4 291.5a4.2 4.2 0 1 0 8.4 0a4.2 4.2 0 1 0 -8.4 0M371.5 288.4a4.2 4.2 0 1 0 8.4 0a4.2 4.2 0 1 0 -8.4 0M372.6 285.5a4.2 4.2 0 1 0 8.4 0a4.2 4.2 0 1 0 -8.4 0M373.7 283.3a4.2 4.2 0 1 0 8.4 0a4.2 4.2 0 1 0 -8.4 0M374.8 282.7a4.2 4.2 0 1 0 8.4 0a4.2 4.2 0 1 0 -8.4 0M375.9 282.0a4.2 4.2 0 1 0 8.4 0a4.2 4.2 0 1 0 -8.4 0M377.0 281.4a4.2 4.2 0 1 0 8.4 0a4.2 4.2 0 1 0 -8.4 0M378.1 280.8a4.2 4.2 0 1 0 8.4 0a4.2 4.2 0 1 0 -8.4 0M379.2 280.1a4.2 4.2 0 1 0 8.4 0a4.2 4.2 0 1 0 -8.4 0M380.3 280.0a4.2 4.2 0 1 0 8.4 0a4.2 4.2 0 1 0 -8.4 0M381.4 280.8a4.2 4.2 0 1 0 8.4 0a4.2 4.2 0 1 0 -8.4 0M382.5 281.7a4.2 4.2 0 1 0 8.4 0a4.2 4.2 0 1 0 -8.4 0M383.6 282.6a4.2 4.2 0 1 0 8.4 0a4.2 4.2 0 1 0 -8.4 0M384.7 283.5a4.2 4.2 0 1 0 8.4 0a4.2 4.2 0 1 0 -8.4 0M385.8 281.4a4.2 4.2 0 1 0 8.4 0a4.2 4.2 0 1 0 -8.4 0M386.9 279.2a4.2 4.2 0 1 0 8.4 0a4.2 4.2 0 1 0 -8.4 0M388.0 277.0a4.2 4.2 0 1 0 8.4 0a4.2 4.2 0 1 0 -8.4 0M389.2 274.8a4.2 4.2 0 1 0 8.4 0a4.2 4.2 0 1 0 -8.4 0M390.3 272.6a4.2 4.2 0 1 0 8.4 0a4.2 4.2 0 1 0 -8.4 0M391.4 270.5a4.2 4.2 0 1 0 8.4 0a4.2 4.2 0 1 0 -8.4 0M392.5 270.1a4.2 4.2 0 1 0 8.4 0a4.2 4.2 0 1 0 -8.4 0M393.6 272.4a4.2 4.2 0 1 0 8.4 0a4.2 4.2 0 1 0 -8.4 0M394.7 274.6a4.2 4.2 0 1 0 8.4 0a4.2 4.2 0 1 0 -8.4 0M395.8 276.9a4.2 4.2 0 1 0 8.4 0a4.2 4.2 0 1 0 -8.4 0M396.9 280.5a4.2 4.2 0 1 0 8.4 0a4.2 4.2 0 1 0 -8.4 0M398.0 284.9a4.2 4.2 0 1 0 8.4 0a4.2 4.2 0 1 0 -8.4 0M399.1 289.3a4.2 4.2 0 1 0 8.4 0a4.2 4.2 0 1 0 -8.4 0M400.2 293.3a4.2 4.2 0 1 0 8.4 0a4.2 4.2 0 1 0 -8.4 0M401.3 295.2a4.2 4.2 0 1 0 8.4 0a4.2 4.2 0 1 0 -8.4 0M402.4 297.1a4.2 4.2 0 1 0 8.4 0a4.2 4.2 0 1 0 -8.4 0M403.5 299.0a4.2 4.2 0 1 0 8.4 0a4.2 4.2 0 1 0 -8.4 0M404.6 298.7a4.2 4.2 0 1 0 8.4 0a4.2 4.2 0 1 0 -8.4 0M405.7 297.4a4.2 4.2 0 1 0 8.4 0a4.2 4.2 0 1 0 -8.4 0M406.8 296.2a4.2 4.2 0 1 0 8.4 0a4.2 4.2 0 1 0 -8.4 0M407.9 294.9a4.2 4.2 0 1 0 8.4 0a4.2 4.2 0 1 0 -8.4 0M409.0 293.6a4.2 4.2 0 1 0 8.4 0a4.2 4.2 0 1 0 -8.4 0M410.1 292.4a4.2 4.2 0 1 0 8.4 0a4.2 4.2 0 1 0 -8.4 0M411.2 293.4a4.2 4.2 0 1 0 8.4 0a4.2 4.2 0 1 0 -8.4 0M412.3 295.4a4.2 4.2 0 1 0 8.4 0a4.2 4.2 0 1 0 -8.4 0M413.4 297.4a4.2 4.2 0 1 0 8.4 0a4.2 4.2 0 1 0 -8.4 0M414.5 299.4a4.2 4.2 0 1 0 8.4 0a4.2 4.2 0 1 0 -8.4 0M415.6 301.1a4.2 4.2 0 1 0 8.4 0a4.2 4.2 0 1 0 -8.4 0M416.7 302.4a4.2 4.2 0 1 0 8.4 0a4.2 4.2 0 1 0 -8.4 0M417.8 303.7a4.2 4.2 0 1 0 8.4 0a4.2 4.2 0 1 0 -8.4 0M418.9 305.0a4.2 4.2 0 1 0 8.4 0a4.2 4.2 0 1 0 -8.4 0M420.0 306.3a4.2 4.2 0 1 0 8.4 0a4.2 4.2 0 1 0 -8.4 0M421.1 307.1a4.2 4.2 0 1 0 8.4 0a4.2 4.2 0 1 0 -8.4 0M422.2 306.7a4.2 4.2 0 1 0 8.4 0a4.2 4.2 0 1 0 -8.4 0M423.3 306.2a4.2 4.2 0 1 0 8.4 0a4.2 4.2 0 1 0 -8.4 0M424.4 305.8a4.2 4.2 0 1 0 8.4 0a4.2 4.2 0 1 0 -8.4 0M425.5 305.4a4.2 4.2 0 1 0 8.4 0a4.2 4.2 0 1 0 -8.4 0M426.6 305.0a4.2 4.2 0 1 0 8.4 0a4.2 4.2 0 1 0 -8.4 0M427.7 304.6a4.2 4.2 0 1 0 8.4 0a4.2 4.2 0 1 0 -8.4 0M428.8 304.6a4.2 4.2 0 1 0 8.4 0a4.2 4.2 0 1 0 -8.4 0M429.9 305.3a4.2 4.2 0 1 0 8.4 0a4.2 4.2 0 1 0 -8.4 0M431.0 306.0a4.2 4.2 0 1 0 8.4 0a4.2 4.2 0 1 0 -8.4 0M432.1 306.7a4.2 4.2 0 1 0 8.4 0a4.2 4.2 0 1 0 -8.4 0M433.2 307.4a4.2 4.2 0 1 0 8.4 0a4.2 4.2 0 1 0 -8.4 0M434.3 308.0a4.2 4.2 0 1 0 8.4 0a4.2 4.2 0 1 0 -8.4 0M435.4 308.7a4.2 4.2 0 1 0 8.4 0a4.2 4.2 0 1 0 -8.4 0M436.5 309.8a4.2 4.2 0 1 0 8.4 0a4.2 4.2 0 1 0 -8.4 0M437.6 311.3a4.2 4.2 0 1 0 8.4 0a4.2 4.2 0 1 0 -8.4 0M438.7 312.8a4.2 4.2 0 1 0 8.4 0a4.2 4.2 0 1 0 -8.4 0M439.8 314.2a4.2 4.2 0 1 0 8.4 0a4.2 4.2 0 1 0 -8.4 0M440.9 315.7a4.2 4.2 0 1 0 8.4 0a4.2 4.2 0 1 0 -8.4 0M442.0 316.8a4.2 4.2 0 1 0 8.4 0a4.2 4.2 0 1 0 -8.4 0M443.1 317.0a4.2 4.2 0 1 0 8.4 0a4.2 4.2 0 1 0 -8.4 0M444.3 317.2a4.2 4.2 0 1 0 8.4 0a4.2 4.2 0 1 0 -8.4 0M445.4 317.4a4.2 4.2 0 1 0 8.4 0a4.2 4.2 0 1 0 -8.4 0M446.5 317.7a4.2 4.2 0 1 0 8.4 0a4.2 4.2 0 1 0 -8.4 0M447.6 317.9a4.2 4.2 0 1 0 8.4 0a4.2 4.2 0 1 0 -8.4 0M448.7 318.1a4.2 4.2 0 1 0 8.4 0a4.2 4.2 0 1 0 -8.4 0M449.8 318.3a4.2 4.2 0 1 0 8.4 0a4.2 4.2 0 1 0 -8.4 0M450.9 318.5a4.2 4.2 0 1 0 8.4 0a4.2 4.2 0 1 0 -8.4 0M452.0 318.9a4.2 4.2 0 1 0 8.4 0a4.2 4.2 0 1 0 -8.4 0M453.1 319.3a4.2 4.2 0 1 0 8.4 0a4.2 4.2 0 1 0 -8.4 0M454.2 319.8a4.2 4.2 0 1 0 8.4 0a4.2 4.2 0 1 0 -8.4 0M455.3 320.2a4.2 4.2 0 1 0 8.4 0a4.2 4.2 0 1 0 -8.4 0M456.4 320.7a4.2 4.2 0 1 0 8.4 0a4.2 4.2 0 1 0 -8.4 0M457.5 321.1a4.2 4.2 0 1 0 8.4 0a4.2 4.2 0 1 0 -8.4 0M458.6 321.6a4.2 4.2 0 1 0 8.4 0a4.2 4.2 0 1 0 -8.4 0M459.7 322.0a4.2 4.2 0 1 0 8.4 0a4.2 4.2 0 1 0 -8.4 0M460.8 322.4a4.2 4.2 0 1 0 8.4 0a4.2 4.2 0 1 0 -8.4 0M461.9 322.7a4.2 4.2 0 1 0 8.4 0a4.2 4.2 0 1 0 -8.4 0M463.0 323.0a4.2 4.2 0 1 0 8.4 0a4.2 4.2 0 1 0 -8.4 0M464.1 323.2a4.2 4.2 0 1 0 8.4 0a4.2 4.2 0 1 0 -8.4 0M465.2 323.5a4.2 4.2 0 1 0 8.4 0a4.2 4.2 0 1 0 -8.4 0M466.3 323.8a4.2 4.2 0 1 0 8.4 0a4.2 4.2 0 1 0 -8.4 0M467.4 324.0a4.2 4.2 0 1 0 8.4 0a4.2 4.2 0 1 0 -8.4 0M468.5 324.3a4.2 4.2 0 1 0 8.4 0a4.2 4.2 0 1 0 -8.4 0M469.6 324.6a4.2 4.2 0 1 0 8.4 0a4.2 4.2 0 1 0 -8.4 0M470.7 324.9a4.2 4.2 0 1 0 8.4 0a4.2 4.2 0 1 0 -8.4 0M471.8 325.1a4.2 4.2 0 1 0 8.4 0a4.2 4.2 0 1 0 -8.4 0M472.9 325.4a4.2 4.2 0 1 0 8.4 0a4.2 4.2 0 1 0 -8.4 0M474.0 325.7a4.2 4.2 0 1 0 8.4 0a4.2 4.2 0 1 0 -8.4 0M475.1 326.0a4.2 4.2 0 1 0 8.4 0a4.2 4.2 0 1 0 -8.4 0M476.2 326.2a4.2 4.2 0 1 0 8.4 0a4.2 4.2 0 1 0 -8.4 0M477.3 326.5a4.2 4.2 0 1 0 8.4 0a4.2 4.2 0 1 0 -8.4 0M478.4 326.8a4.2 4.2 0 1 0 8.4 0a4.2 4.2 0 1 0 -8.4 0M479.5 327.1a4.2 4.2 0 1 0 8.4 0a4.2 4.2 0 1 0 -8.4 0M480.6 327.4a4.2 4.2 0 1 0 8.4 0a4.2 4.2 0 1 0 -8.4 0M481.7 327.6a4.2 4.2 0 1 0 8.4 0a4.2 4.2 0 1 0 -8.4 0M482.8 327.9a4.2 4.2 0 1 0 8.4 0a4.2 4.2 0 1 0 -8.4 0M483.9 328.1a4.2 4.2 0 1 0 8.4 0a4.2 4.2 0 1 0 -8.4 0M485.0 328.2a4.2 4.2 0 1 0 8.4 0a4.2 4.2 0 1 0 -8.4 0M486.1 328.3a4.2 4.2 0 1 0 8.4 0a4.2 4.2 0 1 0 -8.4 0M487.2 328.5a4.2 4.2 0 1 0 8.4 0a4.2 4.2 0 1 0 -8.4 0M488.3 328.6a4.2 4.2 0 1 0 8.4 0a4.2 4.2 0 1 0 -8.4 0M489.4 328.7a4.2 4.2 0 1 0 8.4 0a4.2 4.2 0 1 0 -8.4 0M490.5 328.8a4.2 4.2 0 1 0 8.4 0a4.2 4.2 0 1 0 -8.4 0M491.6 328.9a4.2 4.2 0 1 0 8.4 0a4.2 4.2 0 1 0 -8.4 0M492.7 329.0a4.2 4.2 0 1 0 8.4 0a4.2 4.2 0 1 0 -8.4 0M493.8 328.9a4.2 4.2 0 1 0 8.4 0a4.2 4.2 0 1 0 -8.4 0M494.9 328.8a4.2 4.2 0 1 0 8.4 0a4.2 4.2 0 1 0 -8.4 0M496.0 328.7a4.2 4.2 0 1 0 8.4 0a4.2 4.2 0 1 0 -8.4 0M497.1 328.6a4.2 4.2 0 1 0 8.4 0a4.2 4.2 0 1 0 -8.4 0M498.2 328.5a4.2 4.2 0 1 0 8.4 0a4.2 4.2 0 1 0 -8.4 0M499.4 328.5a4.2 4.2 0 1 0 8.4 0a4.2 4.2 0 1 0 -8.4 0M500.5 328.4a4.2 4.2 0 1 0 8.4 0a4.2 4.2 0 1 0 -8.4 0M501.6 328.3a4.2 4.2 0 1 0 8.4 0a4.2 4.2 0 1 0 -8.4 0M502.7 328.4a4.2 4.2 0 1 0 8.4 0a4.2 4.2 0 1 0 -8.4 0M503.8 328.5a4.2 4.2 0 1 0 8.4 0a4.2 4.2 0 1 0 -8.4 0M504.9 328.6a4.2 4.2 0 1 0 8.4 0a4.2 4.2 0 1 0 -8.4 0M506.0 328.7a4.2 4.2 0 1 0 8.4 0a4.2 4.2 0 1 0 -8.4 0M507.1 328.8a4.2 4.2 0 1 0 8.4 0a4.2 4.2 0 1 0 -8.4 0M508.2 328.9a4.2 4.2 0 1 0 8.4 0a4.2 4.2 0 1 0 -8.4 0M509.3 329.0a4.2 4.2 0 1 0 8.4 0a4.2 4.2 0 1 0 -8.4 0M510.4 329.1a4.2 4.2 0 1 0 8.4 0a4.2 4.2 0 1 0 -8.4 0M511.5 329.2a4.2 4.2 0 1 0 8.4 0a4.2 4.2 0 1 0 -8.4 0M512.6 329.3a4.2 4.2 0 1 0 8.4 0a4.2 4.2 0 1 0 -8.4 0M513.7 329.4a4.2 4.2 0 1 0 8.4 0a4.2 4.2 0 1 0 -8.4 0M514.8 329.5a4.2 4.2 0 1 0 8.4 0a4.2 4.2 0 1 0 -8.4 0M515.9 329.6a4.2 4.2 0 1 0 8.4 0a4.2 4.2 0 1 0 -8.4 0M517.0 329.8a4.2 4.2 0 1 0 8.4 0a4.2 4.2 0 1 0 -8.4 0M518.1 329.9a4.2 4.2 0 1 0 8.4 0a4.2 4.2 0 1 0 -8.4 0M519.2 330.0a4.2 4.2 0 1 0 8.4 0a4.2 4.2 0 1 0 -8.4 0M520.3 330.1a4.2 4.2 0 1 0 8.4 0a4.2 4.2 0 1 0 -8.4 0M521.4 330.2a4.2 4.2 0 1 0 8.4 0a4.2 4.2 0 1 0 -8.4 0M522.5 330.3a4.2 4.2 0 1 0 8.4 0a4.2 4.2 0 1 0 -8.4 0M523.6 330.4a4.2 4.2 0 1 0 8.4 0a4.2 4.2 0 1 0 -8.4 0M524.7 330.4a4.2 4.2 0 1 0 8.4 0a4.2 4.2 0 1 0 -8.4 0M525.8 330.3a4.2 4.2 0 1 0 8.4 0a4.2 4.2 0 1 0 -8.4 0M526.9 330.3a4.2 4.2 0 1 0 8.4 0a4.2 4.2 0 1 0 -8.4 0M528.0 330.2a4.2 4.2 0 1 0 8.4 0a4.2 4.2 0 1 0 -8.4 0M529.1 330.2a4.2 4.2 0 1 0 8.4 0a4.2 4.2 0 1 0 -8.4 0M530.2 330.2a4.2 4.2 0 1 0 8.4 0a4.2 4.2 0 1 0 -8.4 0M531.3 330.1a4.2 4.2 0 1 0 8.4 0a4.2 4.2 0 1 0 -8.4 0M532.4 330.1a4.2 4.2 0 1 0 8.4 0a4.2 4.2 0 1 0 -8.4 0M533.5 330.0a4.2 4.2 0 1 0 8.4 0a4.2 4.2 0 1 0 -8.4 0M534.6 330.0a4.2 4.2 0 1 0 8.4 0a4.2 4.2 0 1 0 -8.4 0M535.7 329.9a4.2 4.2 0 1 0 8.4 0a4.2 4.2 0 1 0 -8.4 0M536.8 329.9a4.2 4.2 0 1 0 8.4 0a4.2 4.2 0 1 0 -8.4 0M537.9 329.9a4.2 4.2 0 1 0 8.4 0a4.2 4.2 0 1 0 -8.4 0M539.0 329.8a4.2 4.2 0 1 0 8.4 0a4.2 4.2 0 1 0 -8.4 0M540.1 329.8a4.2 4.2 0 1 0 8.4 0a4.2 4.2 0 1 0 -8.4 0M541.2 329.7a4.2 4.2 0 1 0 8.4 0a4.2 4.2 0 1 0 -8.4 0M542.3 329.7a4.2 4.2 0 1 0 8.4 0a4.2 4.2 0 1 0 -8.4 0M543.4 329.6a4.2 4.2 0 1 0 8.4 0a4.2 4.2 0 1 0 -8.4 0M544.5 329.6a4.2 4.2 0 1 0 8.4 0a4.2 4.2 0 1 0 -8.4 0M545.6 330.0a4.2 4.2 0 1 0 8.4 0a4.2 4.2 0 1 0 -8.4 0M546.7 330.5a4.2 4.2 0 1 0 8.4 0a4.2 4.2 0 1 0 -8.4 0M547.8 331.0a4.2 4.2 0 1 0 8.4 0a4.2 4.2 0 1 0 -8.4 0M548.9 331.5a4.2 4.2 0 1 0 8.4 0a4.2 4.2 0 1 0 -8.4 0M550.0 331.9a4.2 4.2 0 1 0 8.4 0a4.2 4.2 0 1 0 -8.4 0M551.1 332.4a4.2 4.2 0 1 0 8.4 0a4.2 4.2 0 1 0 -8.4 0M552.2 332.9a4.2 4.2 0 1 0 8.4 0a4.2 4.2 0 1 0 -8.4 0M553.3 333.4a4.2 4.2 0 1 0 8.4 0a4.2 4.2 0 1 0 -8.4 0M554.5 333.8a4.2 4.2 0 1 0 8.4 0a4.2 4.2 0 1 0 -8.4 0M555.6 333.9a4.2 4.2 0 1 0 8.4 0a4.2 4.2 0 1 0 -8.4 0M556.7 333.7a4.2 4.2 0 1 0 8.4 0a4.2 4.2 0 1 0 -8.4 0M557.8 333.6a4.2 4.2 0 1 0 8.4 0a4.2 4.2 0 1 0 -8.4 0M558.9 333.4a4.2 4.2 0 1 0 8.4 0a4.2 4.2 0 1 0 -8.4 0M560.0 333.3a4.2 4.2 0 1 0 8.4 0a4.2 4.2 0 1 0 -8.4 0M561.1 333.1a4.2 4.2 0 1 0 8.4 0a4.2 4.2 0 1 0 -8.4 0M562.2 333.0a4.2 4.2 0 1 0 8.4 0a4.2 4.2 0 1 0 -8.4 0M563.3 332.8a4.2 4.2 0 1 0 8.4 0a4.2 4.2 0 1 0 -8.4 0M564.4 332.7a4.2 4.2 0 1 0 8.4 0a4.2 4.2 0 1 0 -8.4 0M565.5 332.5a4.2 4.2 0 1 0 8.4 0a4.2 4.2 0 1 0 -8.4 0M566.6 332.3a4.2 4.2 0 1 0 8.4 0a4.2 4.2 0 1 0 -8.4 0M567.7 332.2a4.2 4.2 0 1 0 8.4 0a4.2 4.2 0 1 0 -8.4 0M568.8 332.2a4.2 4.2 0 1 0 8.4 0a4.2 4.2 0 1 0 -8.4 0M569.9 332.3a4.2 4.2 0 1 0 8.4 0a4.2 4.2 0 1 0 -8.4 0M571.0 332.3a4.2 4.2 0 1 0 8.4 0a4.2 4.2 0 1 0 -8.4 0M572.1 332.4a4.2 4.2 0 1 0 8.4 0a4.2 4.2 0 1 0 -8.4 0M573.2 332.4a4.2 4.2 0 1 0 8.4 0a4.2 4.2 0 1 0 -8.4 0M574.3 332.4a4.2 4.2 0 1 0 8.4 0a4.2 4.2 0 1 0 -8.4 0M575.4 332.5a4.2 4.2 0 1 0 8.4 0a4.2 4.2 0 1 0 -8.4 0M576.5 332.5a4.2 4.2 0 1 0 8.4 0a4.2 4.2 0 1 0 -8.4 0M577.6 332.5a4.2 4.2 0 1 0 8.4 0a4.2 4.2 0 1 0 -8.4 0M578.7 332.6a4.2 4.2 0 1 0 8.4 0a4.2 4.2 0 1 0 -8.4 0M579.8 332.6a4.2 4.2 0 1 0 8.4 0a4.2 4.2 0 1 0 -8.4 0M580.9 332.7a4.2 4.2 0 1 0 8.4 0a4.2 4.2 0 1 0 -8.4 0M582.0 332.7a4.2 4.2 0 1 0 8.4 0a4.2 4.2 0 1 0 -8.4 0M583.1 332.7a4.2 4.2 0 1 0 8.4 0a4.2 4.2 0 1 0 -8.4 0M584.2 332.8a4.2 4.2 0 1 0 8.4 0a4.2 4.2 0 1 0 -8.4 0M585.3 332.8a4.2 4.2 0 1 0 8.4 0a4.2 4.2 0 1 0 -8.4 0M586.4 332.8a4.2 4.2 0 1 0 8.4 0a4.2 4.2 0 1 0 -8.4 0M587.5 332.9a4.2 4.2 0 1 0 8.4 0a4.2 4.2 0 1 0 -8.4 0M588.6 332.9a4.2 4.2 0 1 0 8.4 0a4.2 4.2 0 1 0 -8.4 0M589.7 332.9a4.2 4.2 0 1 0 8.4 0a4.2 4.2 0 1 0 -8.4 0M590.8 333.0a4.2 4.2 0 1 0 8.4 0a4.2 4.2 0 1 0 -8.4 0M591.9 333.0a4.2 4.2 0 1 0 8.4 0a4.2 4.2 0 1 0 -8.4 0M593.0 333.0a4.2 4.2 0 1 0 8.4 0a4.2 4.2 0 1 0 -8.4 0M594.1 333.0a4.2 4.2 0 1 0 8.4 0a4.2 4.2 0 1 0 -8.4 0M595.2 333.0a4.2 4.2 0 1 0 8.4 0a4.2 4.2 0 1 0 -8.4 0M596.3 333.1a4.2 4.2 0 1 0 8.4 0a4.2 4.2 0 1 0 -8.4 0M597.4 333.1a4.2 4.2 0 1 0 8.4 0a4.2 4.2 0 1 0 -8.4 0M598.5 333.1a4.2 4.2 0 1 0 8.4 0a4.2 4.2 0 1 0 -8.4 0M599.6 333.1a4.2 4.2 0 1 0 8.4 0a4.2 4.2 0 1 0 -8.4 0M600.7 333.1a4.2 4.2 0 1 0 8.4 0a4.2 4.2 0 1 0 -8.4 0M601.8 333.2a4.2 4.2 0 1 0 8.4 0a4.2 4.2 0 1 0 -8.4 0M602.9 333.2a4.2 4.2 0 1 0 8.4 0a4.2 4.2 0 1 0 -8.4 0M604.0 333.2a4.2 4.2 0 1 0 8.4 0a4.2 4.2 0 1 0 -8.4 0M605.1 333.2a4.2 4.2 0 1 0 8.4 0a4.2 4.2 0 1 0 -8.4 0M606.2 333.3a4.2 4.2 0 1 0 8.4 0a4.2 4.2 0 1 0 -8.4 0M607.3 333.3a4.2 4.2 0 1 0 8.4 0a4.2 4.2 0 1 0 -8.4 0M608.4 333.3a4.2 4.2 0 1 0 8.4 0a4.2 4.2 0 1 0 -8.4 0M609.6 333.3a4.2 4.2 0 1 0 8.4 0a4.2 4.2 0 1 0 -8.4 0M610.7 333.3a4.2 4.2 0 1 0 8.4 0a4.2 4.2 0 1 0 -8.4 0M611.8 333.4a4.2 4.2 0 1 0 8.4 0a4.2 4.2 0 1 0 -8.4 0M612.9 333.4a4.2 4.2 0 1 0 8.4 0a4.2 4.2 0 1 0 -8.4 0M614.0 333.4a4.2 4.2 0 1 0 8.4 0a4.2 4.2 0 1 0 -8.4 0M615.1 333.4a4.2 4.2 0 1 0 8.4 0a4.2 4.2 0 1 0 -8.4 0M616.2 333.4a4.2 4.2 0 1 0 8.4 0a4.2 4.2 0 1 0 -8.4 0M617.3 333.4a4.2 4.2 0 1 0 8.4 0a4.2 4.2 0 1 0 -8.4 0M618.4 333.4a4.2 4.2 0 1 0 8.4 0a4.2 4.2 0 1 0 -8.4 0M619.5 333.4a4.2 4.2 0 1 0 8.4 0a4.2 4.2 0 1 0 -8.4 0M620.6 333.4a4.2 4.2 0 1 0 8.4 0a4.2 4.2 0 1 0 -8.4 0M621.7 333.4a4.2 4.2 0 1 0 8.4 0a4.2 4.2 0 1 0 -8.4 0M622.8 333.4a4.2 4.2 0 1 0 8.4 0a4.2 4.2 0 1 0 -8.4 0M623.9 333.4a4.2 4.2 0 1 0 8.4 0a4.2 4.2 0 1 0 -8.4 0M625.0 333.4a4.2 4.2 0 1 0 8.4 0a4.2 4.2 0 1 0 -8.4 0M626.1 333.4a4.2 4.2 0 1 0 8.4 0a4.2 4.2 0 1 0 -8.4 0M627.2 333.4a4.2 4.2 0 1 0 8.4 0a4.2 4.2 0 1 0 -8.4 0M628.3 333.4a4.2 4.2 0 1 0 8.4 0a4.2 4.2 0 1 0 -8.4 0M629.4 333.4a4.2 4.2 0 1 0 8.4 0a4.2 4.2 0 1 0 -8.4 0M630.5 333.4a4.2 4.2 0 1 0 8.4 0a4.2 4.2 0 1 0 -8.4 0M631.6 333.4a4.2 4.2 0 1 0 8.4 0a4.2 4.2 0 1 0 -8.4 0M632.7 333.4a4.2 4.2 0 1 0 8.4 0a4.2 4.2 0 1 0 -8.4 0M633.8 333.4a4.2 4.2 0 1 0 8.4 0a4.2 4.2 0 1 0 -8.4 0M634.9 333.4a4.2 4.2 0 1 0 8.4 0a4.2 4.2 0 1 0 -8.4 0M636.0 333.4a4.2 4.2 0 1 0 8.4 0a4.2 4.2 0 1 0 -8.4 0M637.1 333.4a4.2 4.2 0 1 0 8.4 0a4.2 4.2 0 1 0 -8.4 0M638.2 333.4a4.2 4.2 0 1 0 8.4 0a4.2 4.2 0 1 0 -8.4 0M639.3 333.4a4.2 4.2 0 1 0 8.4 0a4.2 4.2 0 1 0 -8.4 0M640.4 333.3a4.2 4.2 0 1 0 8.4 0a4.2 4.2 0 1 0 -8.4 0M641.5 333.1a4.2 4.2 0 1 0 8.4 0a4.2 4.2 0 1 0 -8.4 0M642.6 333.0a4.2 4.2 0 1 0 8.4 0a4.2 4.2 0 1 0 -8.4 0M643.7 332.9a4.2 4.2 0 1 0 8.4 0a4.2 4.2 0 1 0 -8.4 0M644.8 332.8a4.2 4.2 0 1 0 8.4 0a4.2 4.2 0 1 0 -8.4 0M645.9 332.6a4.2 4.2 0 1 0 8.4 0a4.2 4.2 0 1 0 -8.4 0M647.0 332.5a4.2 4.2 0 1 0 8.4 0a4.2 4.2 0 1 0 -8.4 0M648.1 332.4a4.2 4.2 0 1 0 8.4 0a4.2 4.2 0 1 0 -8.4 0M649.2 332.3a4.2 4.2 0 1 0 8.4 0a4.2 4.2 0 1 0 -8.4 0M650.3 332.1a4.2 4.2 0 1 0 8.4 0a4.2 4.2 0 1 0 -8.4 0M651.4 332.0a4.2 4.2 0 1 0 8.4 0a4.2 4.2 0 1 0 -8.4 0M652.5 331.9a4.2 4.2 0 1 0 8.4 0a4.2 4.2 0 1 0 -8.4 0M653.6 331.8a4.2 4.2 0 1 0 8.4 0a4.2 4.2 0 1 0 -8.4 0M654.7 331.7a4.2 4.2 0 1 0 8.4 0a4.2 4.2 0 1 0 -8.4 0M655.8 331.5a4.2 4.2 0 1 0 8.4 0a4.2 4.2 0 1 0 -8.4 0M656.9 331.4a4.2 4.2 0 1 0 8.4 0a4.2 4.2 0 1 0 -8.4 0M658.0 331.4a4.2 4.2 0 1 0 8.4 0a4.2 4.2 0 1 0 -8.4 0" fill="#0000ff"/>
<path d="M86.1 325.8a4.2 4.2 0 1 0 8.4 0a4.2 4.2 0 1 0 -8.4 0M87.2 326.1a4.2 4.2 0 1 0 8.4 0a4.2 4.2 0 1 0 -8.4 0M88.3 326.3a4.2 4.2 0 1 0 8.4 0a4.2 4.2 0 1 0 -8.4 0M89.4 326.6a4.2 4.2 0 1 0 8.4 0a4.2 4.2 0 1 0 -8.4 0M90.5 326.8a4.2 4.2 0 1 0 8.4 0a4.2 4.2 0 1 0 -8.4 0M91.6 327.1a4.2 4.2 0 1 0 8.4 0a4.2 4.2 0 1 0 -8.4 0M92.7 327.4a4.2 4.2 0 1 0 8.4 0a4.2 4.2 0 1 0 -8.4 0M93.8 327.6a4.2 4.2 0 1 0 8.4 0a4.2 4.2 0 1 0 -8.4 0M94.9 327.9a4.2 4.2 0 1 0 8.4 0a4.2 4.2 0 1 0 -8.4 0M96.0 328.1a4.2 4.2 0 1 0 8.4 0a4.2 4.2 0 1 0 -8.4 0M97.1 328.1a4.2 4.2 0 1 0 8.4 0a4.2 4.2 0 1 0 -8.4 0M98.2 328.1a4.2 4.2 0 1 0 8.4 0a4.2 4.2 0 1 0 -8.4 0M99.3 328.1a4.2 4.2 0 1 0 8.4 0a4.2 4.2 0 1 0 -8.4 0M100.4 328.1a4.2 4.2 0 1 0 8.4 0a4.2 4.2 0 1 0 -8.4 0M101.5 328.1a4.2 4.2 0 1 0 8.4 0a4.2 4.2 0 1 0 -8.4 0M102.6 328.1a4.2 4.2 0 1 0 8.4 0a4.2 4.2 0 1 0 -8.4 0M103.7 328.1a4.2 4.2 0 1 0 8.4 0a4.2 4.2 0 1 0 -8.4 0M104.8 328.1a4.2 4.2 0 1 0 8.4 0a4.2 4.2 0 1 0 -8.4 0M105.9 328.1a4.2 4.2 0 1 0 8.4 0a4.2 4.2 0 1 0 -8.4 0M107.0 328.1a4.2 4.2 0 1 0 8.4 0a4.2 4.2 0 1 0 -8.4 0M108.1 328.1a4.2 4.2 0 1 0 8.4 0a4.2 4.2 0 1 0 -8.4 0M109.2 328.1a4.2 4.2 0 1 0 8.4 0a4.2 4.2 0 1 0 -8.4 0M110.3 328.1a4.2 4.2 0 1 0 8.4 0a4.2 4.2 0 1 0 -8.4 0M111.4 328.1a4.2 4.2 0 1 0 8.4 0a4.2 4.2 0 1 0 -8.4 0M112.5 328.1a4.2 4.2 0 1 0 8.4 0a4.2 4.2 0 1 0 -8.4 0M113.7 328.1a4.2 4.2 0 1 0 8.4 0a4.2 4.2 0 1 0 -8.4 0M114.8 328.1a4.2 4.2 0 1 0 8.4 0a4.2 4.2 0 1 0 -8.4 0M115.9 328.1a4.2 4.2 0 1 0 8.4 0a4.2 4.2 0 1 0 -8.4 0M117.0 328.1a4.2 4.2 0 1 0 8.4 0a4.2 4.2 0 1 0 -8.4 0M118.1 328.1a4.2 4.2 0 1 0 8.4 0a4.2 4.2 0 1 0 -8.4 0M119.2 328.1a4.2 4.2 0 1 0 8.4 0a4.2 4.2 0 1 0 -8.4 0M120.3 328.1a4.2 4.2 0 1 0 8.4 0a4.2 4.2 0 1 0 -8.4 0M121.4 328.2a4.2 4.2 0 1 0 8.4 0a4.2 4.2 0 1 0 -8.4 0M122.5 328.2a4.2 4.2 0 1 0 8.4 0a4.2 4.2 0 1 0 -8.4 0M123.6 328.2a4.2 4.2 0 1 0 8.4 0a4.2 4.2 0 1 0 -8.4 0M124.7 328.2a4.2 4.2 0 1 0 8.4 0a4.2 4.2 0 1 0 -8.4 0M125.8 328.2a4.2 4.2 0 1 0 8.4 0a4.2 4.2 0 1 0 -8.4 0M126.9 328.2a4.2 4.2 0 1 0 8.4 0a4.2 4.2 0 1 0 -8.4 0M128.0 328.2a4.2 4.2 0 1 0 8.4 0a4.2 4.2 0 1 0 -8.4 0M129.1 328.2a4.2 4.2 0 1 0 8.4 0a4.2 4.2 0 1 0 -8.4 0M130.2 328.2a4.2 4.2 0 1 0 8.4 0a4.2 4.2 0 1 0 -8.4 0M131.3 328.3a4.2 4.2 0 1 0 8.4 0a4.2 4.2 0 1 0 -8.4 0M132.4 328.3a4.2 4.2 0 1 0 8.4 0a4.2 4.2 0 1 0 -8.4 0M133.5 328.3a4.2 4.2 0 1 0 8.4 0a4.2 4.2 0 1 0 -8.4 0M134.6 328.3a4.2 4.2 0 1 0 8.4 0a4.2 4.2 0 1 0 -8.4 0M135.7 328.3a4.2 4.2 0 1 0 8.4 0a4.2 4.2 0 1 0 -8.4 0M136.8 328.3a4.2 4.2 0 1 0 8.4 0a4.2 4.2 0 1 0 -8.4 0M137.9 328.3a4.2 4.2 0 1 0 8.4 0a4.2 4.2 0 1 0 -8.4 0M139.0 328.3a4.2 4.2 0 1 0 8.4 0a4.2 4.2 0 1 0 -8.4 0M140.1 328.3a4.2 4.2 0 1 0 8.4 0a4.2 4.2 0 1 0 -8.4 0M141.2 328.4a4.2 4.2 0 1 0 8.4 0a4.2 4.2 0 1 0 -8.4 0M142.3 328.4a4.2 4.2 0 1 0 8.4 0a4.2 4.2 0 1 0 -8.4 0M143.4 328.4a4.2 4.2 0 1 0 8.4 0a4.2 4.2 0 1 0 -8.4 0M144.5 328.4a4.2 4.2 0 1 0 8.4 0a4.2 4.2 0 1 0 -8.4 0M145.6 328.4a4.2 4.2 0 1 0 8.4 0a4.2 4.2 0 1 0 -8.4 0M146.7 328.4a4.2 4.2 0 1 0 8.4 0a4.2 4.2 0 1 0 -8.4 0M147.8 328.4a4.2 4.2 0 1 0 8.4 0a4.2 4.2 0 1 0 -8.4 0M148.9 328.4a4.2 4.2 0 1 0 8.4 0a4.2 4.2 0 1 0 -8.4 0M150.0 328.4a4.2 4.2 0 1 0 8.4 0a4.2 4.2 0 1 0 -8.4 0M151.1 328.5a4.2 4.2 0 1 0 8.4 0a4.2 4.2 0 1 0 -8.4 0M152.2 328.5a4.2 4.2 0 1 0 8.4 0a4.2 4.2 0 1 0 -8.4 0M153.3 328.5a4.2 4.2 0 1 0 8.4 0a4.2 4.2 0 1 0 -8.4 0M154.4 328.5a4.2 4.2 0 1 0 8.4 0a4.2 4.2 0 1 0 -8.4 0M155.5 328.5a4.2 4.2 0 1 0 8.4 0a4.2 4.2 0 1 0 -8.4 0M156.6 328.5a4.2 4.2 0 1 0 8.4 0a4.2 4.2 0 1 0 -8.4 0M157.7 328.5a4.2 4.2 0 1 0 8.4 0a4.2 4.2 0 1 0 -8.4 0M158.8 328.6a4.2 4.2 0 1 0 8.4 0a4.2 4.2 0 1 0 -8.4 0M159.9 328.6a4.2 4.2 0 1 0 8.4 0a4.2 4.2 0 1 0 -8.4 0M161.0 328.6a4.2 4.2 0 1 0 8.4 0a4.2 4.2 0 1 0 -8.4 0M162.1 328.6a4.2 4.2 0 1 0 8.4 0a4.2 4.2 0 1 0 -8.4 0M163.2 328.6a4.2 4.2 0 1 0 8.4 0a4.2 4.2 0 1 0 -8.4 0M164.3 328.7a4.2 4.2 0 1 0 8.4 0a4.2 4.2 0 1 0 -8.4 0M165.4 328.7a4.2 4.2 0 1 0 8.4 0a4.2 4.2 0 1 0 -8.4 0M166.5 328.7a4.2 4.2 0 1 0 8.4 0a4.2 4.2 0 1 0 -8.4 0M167.6 328.7a4.2 4.2 0 1 0 8.4 0a4.2 4.2 0 1 0 -8.4 0M168.8 328.7a4.2 4.2 0 1 0 8.4 0a4.2 4.2 0 1 0 -8.4 0M169.9 328.8a4.2 4.2 0 1 0 8.4 0a4.2 4.2 0 1 0 -8.4 0M171.0 328.8a4.2 4.2 0 1 0 8.4 0a4.2 4.2 0 1 0 -8.4 0M172.1 328.8a4.2 4.2 0 1 0 8.4 0a4.2 4.2 0 1 0 -8.4 0M173.2 328.8a4.2 4.2 0 1 0 8.4 0a4.2 4.2 0 1 0 -8.4 0M174.3 328.8a4.2 4.2 0 1 0 8.4 0a4.2 4.2 0 1 0 -8.4 0M175.4 328.8a4.2 4.2 0 1 0 8.4 0a4.2 4.2 0 1 0 -8.4 0M176.5 328.9a4.2 4.2 0 1 0 8.4 0a4.2 4.2 0 1 0 -8.4 0M177.6 328.9a4.2 4.2 0 1 0 8.4 0a4.2 4.2 0 1 0 -8.4 0M178.7 328.9a4.2 4.2 0 1 0 8.4 0a4.2 4.2 0 1 0 -8.4 0M179.8 328.9a4.2 4.2 0 1 0 8.4 0a4.2 4.2 0 1 0 -8.4 0M180.9 328.9a4.2 4.2 0 1 0 8.4 0a4.2 4.2 0 1 0 -8.4 0M182.0 328.9a4.2 4.2 0 1 0 8.4 0a4.2 4.2 0 1 0 -8.4 0M183.1 329.0a4.2 4.2 0 1 0 8.4 0a4.2 4.2 0 1 0 -8.4 0M184.2 329.0a4.2 4.2 0 1 0 8.4 0a4.2 4.2 0 1 0 -8.4 0M185.3 329.0a4.2 4.2 0 1 0 8.4 0a4.2 4.2 0 1 0 -8.4 0M186.4 329.0a4.2 4.2 0 1 0 8.4 0a4.2 4.2 0 1 0 -8.4 0M187.5 328.9a4.2 4.2 0 1 0 8.4 0a4.2 4.2 0 1 0 -8.4 0M188.6 328.8a4.2 4.2 0 1 0 8.4 0a4.2 4.2 0 1 0 -8.4 0M189.7 328.8a4.2 4.2 0 1 0 8.4 0a4.2 4.2 0 1 0 -8.4 0M190.8 328.7a4.2 4.2 0 1 0 8.4 0a4.2 4.2 0 1 0 -8.4 0M191.9 328.7a4.2 4.2 0 1 0 8.4 0a4.2 4.2 0 1 0 -8.4 0M193.0 328.6a4.2 4.2 0 1 0 8.4 0a4.2 4.2 0 1 0 -8.4 0M194.1 328.6a4.2 4.2 0 1 0 8.4 0a4.2 4.2 0 1 0 -8.4 0M195.2 328.5a4.2 4.2 0 1 0 8.4 0a4.2 4.2 0 1 0 -8.4 0M196.3 328.5a4.2 4.2 0 1 0 8.4 0a4.2 4.2 0 1 0 -8.4 0M197.4 328.4a4.2 4.2 0 1 0 8.4 0a4.2 4.2 0 1 0 -8.4 0M198.5 328.3a4.2 4.2 0 1 0 8.4 0a4.2 4.2 0 1 0 -8.4 0M199.6 328.3a4.2 4.2 0 1 0 8.4 0a4.2 4.2 0 1 0 -8.4 0M200.7 328.2a4.2 4.2 0 1 0 8.4 0a4.2 4.2 0 1 0 -8.4 0M201.8 328.2a4.2 4.2 0 1 0 8.4 0a4.2 4.2 0 1 0 -8.4 0M202.9 328.1a4.2 4.2 0 1 0 8.4 0a4.2 4.2 0 1 0 -8.4 0M204.0 328.1a4.2 4.2 0 1 0 8.4 0a4.2 4.2 0 1 0 -8.4 0M205.1 328.0a4.2 4.2 0 1 0 8.4 0a4.2 4.2 0 1 0 -8.4 0M206.2 328.0a4.2 4.2 0 1 0 8.4 0a4.2 4.2 0 1 0 -8.4 0M207.3 328.1a4.2 4.2 0 1 0 8.4 0a4.2 4.2 0 1 0 -8.4 0M208.4 328.1a4.2 4.2 0 1 0 8.4 0a4.2 4.2 0 1 0 -8.4 0M209.5 328.1a4.2 4.2 0 1 0 8.4 0a4.2 4.2 0 1 0 -8.4 0M210.6 328.2a4.2 4.2 0 1 0 8.4 0a4.2 4.2 0 1 0 -8.4 0M211.7 328.2a4.2 4.2 0 1 0 8.4 0a4.2 4.2 0 1 0 -8.4 0M212.8 328.2a4.2 4.2 0 1 0 8.4 0a4.2 4.2 0 1 0 -8.4 0M213.9 328.3a4.2 4.2 0 1 0 8.4 0a4.2 4.2 0 1 0 -8.4 0M215.0 328.3a4.2 4.2 0 1 0 8.4 0a4.2 4.2 0 1 0 -8.4 0M216.1 328.3a4.2 4.2 0 1 0 8.4 0a4.2 4.2 0 1 0 -8.4 0M217.2 328.4a4.2 4.2 0 1 0 8.4 0a4.2 4.2 0 1 0 -8.4 0M218.3 328.4a4.2 4.2 0 1 0 8.4 0a4.2 4.2 0 1 0 -8.4 0M219.4 328.2a4.2 4.2 0 1 0 8.4 0a4.2 4.2 0 1 0 -8.4 0M220.5 328.1a4.2 4.2 0 1 0 8.4 0a4.2 4.2 0 1 0 -8.4 0M221.6 327.9a4.2 4.2 0 1 0 8.4 0a4.2 4.2 0 1 0 -8.4 0M222.7 327.7a4.2 4.2 0 1 0 8.4 0a4.2 4.2 0 1 0 -8.4 0M223.9 327.6a4.2 4.2 0 1 0 8.4 0a4.2 4.2 0 1 0 -8.4 0M225.0 327.4a4.2 4.2 0 1 0 8.4 0a4.2 4.2 0 1 0 -8.4 0M226.1 327.2a4.2 4.2 0 1 0 8.4 0a4.2 4.2 0 1 0 -8.4 0M227.2 327.1a4.2 4.2 0 1 0 8.4 0a4.2 4.2 0 1 0 -8.4 0M228.3 326.9a4.2 4.2 0 1 0 8.4 0a4.2 4.2 0 1 0 -8.4 0M229.4 327.0a4.2 4.2 0 1 0 8.4 0a4.2 4.2 0 1 0 -8.4 0M230.5 327.5a4.2 4.2 0 1 0 8.4 0a4.2 4.2 0 1 0 -8.4 0M231.6 328.0a4.2 4.2 0 1 0 8.4 0a4.2 4.2 0 1 0 -8.4 0M232.7 328.5a4.2 4.2 0 1 0 8.4 0a4.2 4.2 0 1 0 -8.4 0M233.8 329.0a4.2 4.2 0 1 0 8.4 0a4.2 4.2 0 1 0 -8.4 0M234.9 329.5a4.2 4.2 0 1 0 8.4 0a4.2 4.2 0 1 0 -8.4 0M236.0 329.6a4.2 4.2 0 1 0 8.4 0a4.2 4.2 0 1 0 -8.4 0M237.1 329.5a4.2 4.2 0 1 0 8.4 0a4.2 4.2 0 1 0 -8.4 0M238.2 329.3a4.2 4.2 0 1 0 8.4 0a4.2 4.2 0 1 0 -8.4 0M239.3 329.2a4.2 4.2 0 1 0 8.4 0a4.2 4.2 0 1 0 -8.4 0M240.4 329.0a4.2 4.2 0 1 0 8.4 0a4.2 4.2 0 1 0 -8.4 0M241.5 328.8a4.2 4.2 0 1 0 8.4 0a4.2 4.2 0 1 0 -8.4 0M242.6 328.7a4.2 4.2 0 1 0 8.4 0a4.2 4.2 0 1 0 -8.4 0M243.7 328.5a4.2 4.2 0 1 0 8.4 0a4.2 4.2 0 1 0 -8.4 0M244.8 328.4a4.2 4.2 0 1 0 8.4 0a4.2 4.2 0 1 0 -8.4 0M245.9 328.4a4.2 4.2 0 1 0 8.4 0a4.2 4.2 0 1 0 -8.4 0M247.0 328.3a4.2 4.2 0 1 0 8.4 0a4.2 4.2 0 1 0 -8.4 0M248.1 328.3a4.2 4.2 0 1 0 8.4 0a4.2 4.2 0 1 0 -8.4 0M249.2 328.3a4.2 4.2 0 1 0 8.4 0a4.2 4.2 0 1 0 -8.4 0M250.3 328.3a4.2 4.2 0 1 0 8.4 0a4.2 4.2 0 1 0 -8.4 0M251.4 328.2a4.2 4.2 0 1 0 8.4 0a4.2 4.2 0 1 0 -8.4 0M252.5 328.2a4.2 4.2 0 1 0 8.4 0a4.2 4.2 0 1 0 -8.4 0M253.6 328.2a4.2 4.2 0 1 0 8.4 0a4.2 4.2 0 1 0 -8.4 0M254.7 328.2a4.2 4.2 0 1 0 8.4 0a4.2 4.2 0 1 0 -8.4 0M255.8 328.1a4.2 4.2 0 1 0 8.4 0a4.2 4.2 0 1 0 -8.4 0M256.9 328.1a4.2 4.2 0 1 0 8.4 0a4.2 4.2 0 1 0 -8.4 0M258.0 328.2a4.2 4.2 0 1 0 8.4 0a4.2 4.2 0 1 0 -8.4 0M259.1 328.4a4.2 4.2 0 1 0 8.4 0a4.2 4.2 0 1 0 -8.4 0M260.2 328.6a4.2 4.2 0 1 0 8.4 0a4.2 4.2 0 1 0 -8.4 0M261.3 328.8a4.2 4.2 0 1 0 8.4 0a4.2 4.2 0 1 0 -8.4 0M262.4 329.0a4.2 4.2 0 1 0 8.4 0a4.2 4.2 0 1 0 -8.4 0M263.5 329.2a4.2 4.2 0 1 0 8.4 0a4.2 4.2 0 1 0 -8.4 0M264.6 329.3a4.2 4.2 0 1 0 8.4 0a4.2 4.2 0 1 0 -8.4 0M265.7 329.5a4.2 4.2 0 1 0 8.4 0a4.2 4.2 0 1 0 -8.4 0M266.8 329.7a4.2 4.2 0 1 0 8.4 0a4.2 4.2 0 1 0 -8.4 0M267.9 329.9a4.2 4.2 0 1 0 8.4 0a4.2 4.2 0 1 0 -8.4 0M269.0 329.9a4.2 4.2 0 1 0 8.4 0a4.2 4.2 0 1 0 -8.4 0M270.1 329.8a4.2 4.2 0 1 0 8.4 0a4.2 4.2 0 1 0 -8.4 0M271.2 329.6a4.2 4.2 0 1 0 8.4 0a4.2 4.2 0 1 0 -8.4 0M272.3 329.4a4.2 4.2 0 1 0 8.4 0a4.2 4.2 0 1 0 -8.4 0M273.4 329.3a4.2 4.2 0 1 0 8.4 0a4.2 4.2 0 1 0 -8.4 0M274.5 329.1a4.2 4.2 0 1 0 8.4 0a4.2 4.2 0 1 0 -8.4 0M275.6 328.9a4.2 4.2 0 1 0 8.4 0a4.2 4.2 0 1 0 -8.4 0M276.7 328.7a4.2 4.2 0 1 0 8.4 0a4.2 4.2 0 1 0 -8.4 0M277.8 328.6a4.2 4.2 0 1 0 8.4 0a4.2 4.2 0 1 0 -8.4 0M279.0 328.4a4.2 4.2 0 1 0 8.4 0a4.2 4.2 0 1 0 -8.4 0M280.1 328.2a4.2 4.2 0 1 0 8.4 0a4.2 4.2 0 1 0 -8.4 0M281.2 328.2a4.2 4.2 0 1 0 8.4 0a4.2 4.2 0 1 0 -8.4 0M282.3 328.5a4.2 4.2 0 1 0 8.4 0a4.2 4.2 0 1 0 -8.4 0M283.4 328.8a4.2 4.2 0 1 0 8.4 0a4.2 4.2 0 1 0 -8.4 0M284.5 329.1a4.2 4.2 0 1 0 8.4 0a4.2 4.2 0 1 0 -8.4 0M285.6 329.4a4.2 4.2 0 1 0 8.4 0a4.2 4.2 0 1 0 -8.4 0M286.7 329.7a4.2 4.2 0 1 0 8.4 0a4.2 4.2 0 1 0 -8.4 0M287.8 329.9a4.2 4.2 0 1 0 8.4 0a4.2 4.2 0 1 0 -8.4 0M288.9 330.2a4.2 4.2 0 1 0 8.4 0a4.2 4.2 0 1 0 -8.4 0M290.0 330.5a4.2 4.2 0 1 0 8.4 0a4.2 4.2 0 1 0 -8.4 0M291.1 330.8a4.2 4.2 0 1 0 8.4 0a4.2 4.2 0 1 0 -8.4 0M292.2 330.9a4.2 4.2 0 1 0 8.4 0a4.2 4.2 0 1 0 -8.4 0M293.3 330.9a4.2 4.2 0 1 0 8.4 0a4.2 4.2 0 1 0 -8.4 0M294.4 330.9a4.2 4.2 0 1 0 8.4 0a4.2 4.2 0 1 0 -8.4 0M295.5 330.9a4.2 4.2 0 1 0 8.4 0a4.2 4.2 0 1 0 -8.4 0M296.6 330.9a4.2 4.2 0 1 0 8.4 0a4.2 4.2 0 1 0 -8.4 0M297.7 330.9a4.2 4.2 0 1 0 8.4 0a4.2 4.2 0 1 0 -8.4 0M298.8 330.9a4.2 4.2 0 1 0 8.4 0a4.2 4.2 0 1 0 -8.4 0M299.9 330.9a4.2 4.2 0 1 0 8.4 0a4.2 4.2 0 1 0 -8.4 0M301.0 330.9a4.2 4.2 0 1 0 8.4 0a4.2 4.2 0 1 0 -8.4 0M302.1 330.9a4.2 4.2 0 1 0 8.4 0a4.2 4.2 0 1 0 -8.4 0M303.2 331.2a4.2 4.2 0 1 0 8.4 0a4.2 4.2 0 1 0 -8.4 0M304.3 331.9a4.2 4.2 0 1 0 8.4 0a4.2 4.2 0 1 0 -8.4 0M305.4 332.5a4.2 4.2 0 1 0 8.4 0a4.2 4.2 0 1 0 -8.4 0M306.5 333.2a4.2 4.2 0 1 0 8.4 0a4.2 4.2 0 1 0 -8.4 0M307.6 333.8a4.2 4.2 0 1 0 8.4 0a4.2 4.2 0 1 0 -8.4 0M308.7 334.5a4.2 4.2 0 1 0 8.4 0a4.2 4.2 0 1 0 -8.4 0M309.8 335.2a4.2 4.2 0 1 0 8.4 0a4.2 4.2 0 1 0 -8.4 0M310.9 335.8a4.2 4.2 0 1 0 8.4 0a4.2 4.2 0 1 0 -8.4 0M312.0 336.5a4.2 4.2 0 1 0 8.4 0a4.2 4.2 0 1 0 -8.4 0M313.1 336.9a4.2 4.2 0 1 0 8.4 0a4.2 4.2 0 1 0 -8.4 0M314.2 337.4a4.2 4.2 0 1 0 8.4 0a4.2 4.2 0 1 0 -8.4 0M315.3 337.8a4.2 4.2 0 1 0 8.4 0a4.2 4.2 0 1 0 -8.4 0M316.4 338.2a4.2 4.2 0 1 0 8.4 0a4.2 4.2 0 1 0 -8.4 0M317.5 338.6a4.2 4.2 0 1 0 8.4 0a4.2 4.2 0 1 0 -8.4 0M318.6 339.1a4.2 4.2 0 1 0 8.4 0a4.2 4.2 0 1 0 -8.4 0M319.7 339.5a4.2 4.2 0 1 0 8.4 0a4.2 4.2 0 1 0 -8.4 0M320.8 340.4a4.2 4.2 0 1 0 8.4 0a4.2 4.2 0 1 0 -8.4 0M321.9 341.3a4.2 4.2 0 1 0 8.4 0a4.2 4.2 0 1 0 -8.4 0M323.0 342.3a4.2 4.2 0 1 0 8.4 0a4.2 4.2 0 1 0 -8.4 0M324.1 343.2a4.2 4.2 0 1 0 8.4 0a4.2 4.2 0 1 0 -8.4 0M325.2 344.1a4.2 4.2 0 1 0 8.4 0a4.2 4.2 0 1 0 -8.4 0M326.3 345.1a4.2 4.2 0 1 0 8.4 0a4.2 4.2 0 1 0 -8.4 0M327.4 346.0a4.2 4.2 0 1 0 8.4 0a4.2 4.2 0 1 0 -8.4 0M328.5 347.4a4.2 4.2 0 1 0 8.4 0a4.2 4.2 0 1 0 -8.4 0M329.6 348.8a4.2 4.2 0 1 0 8.4 0a4.2 4.2 0 1 0 -8.4 0M330.7 350.2a4.2 4.2 0 1 0 8.4 0a4.2 4.2 0 1 0 -8.4 0M331.8 351.6a4.2 4.2 0 1 0 8.4 0a4.2 4.2 0 1 0 -8.4 0M332.9 353.0a4.2 4.2 0 1 0 8.4 0a4.2 4.2 0 1 0 -8.4 0M334.1 354.4a4.2 4.2 0 1 0 8.4 0a4.2 4.2 0 1 0 -8.4 0M335.2 355.9a4.2 4.2 0 1 0 8.4 0a4.2 4.2 0 1 0 -8.4 0M336.3 358.1a4.2 4.2 0 1 0 8.4 0a4.2 4.2 0 1 0 -8.4 0M337.4 360.3a4.2 4.2 0 1 0 8.4 0a4.2 4.2 0 1 0 -8.4 0M338.5 362.5a4.2 4.2 0 1 0 8.4 0a4.2 4.2 0 1 0 -8.4 0M339.6 364.7a4.2 4.2 0 1 0 8.4 0a4.2 4.2 0 1 0 -8.4 0M340.7 366.9a4.2 4.2 0 1 0 8.4 0a4.2 4.2 0 1 0 -8.4 0M341.8 369.7a4.2 4.2 0 1 0 8.4 0a4.2 4.2 0 1 0 -8.4 0M342.9 372.4a4.2 4.2 0 1 0 8.4 0a4.2 4.2 0 1 0 -8.4 0M344.0 375.2a4.2 4.2 0 1 0 8.4 0a4.2 4.2 0 1 0 -8.4 0M345.1 378.6a4.2 4.2 0 1 0 8.4 0a4.2 4.2 0 1 0 -8.4 0M346.2 382.7a4.2 4.2 0 1 0 8.4 0a4.2 4.2 0 1 0 -8.4 0M347.3 386.8a4.2 4.2 0 1 0 8.4 0a4.2 4.2 0 1 0 -8.4 0M348.4 387.2a4.2 4.2 0 1 0 8.4 0a4.2 4.2 0 1 0 -8.4 0M349.5 387.5a4.2 4.2 0 1 0 8.4 0a4.2 4.2 0 1 0 -8.4 0M350.6 387.8a4.2 4.2 0 1 0 8.4 0a4.2 4.2 0 1 0 -8.4 0M351.7 388.1a4.2 4.2 0 1 0 8.4 0a4.2 4.2 0 1 0 -8.4 0M352.8 388.5a4.2 4.2 0 1 0 8.4 0a4.2 4.2 0 1 0 -8.4 0M353.9 388.8a4.2 4.2 0 1 0 8.4 0a4.2 4.2 0 1 0 -8.4 0M355.0 389.0a4.2 4.2 0 1 0 8.4 0a4.2 4.2 0 1 0 -8.4 0M356.1 389.3a4.2 4.2 0 1 0 8.4 0a4.2 4.2 0 1 0 -8.4 0M357.2 389.6a4.2 4.2 0 1 0 8.4 0a4.2 4.2 0 1 0 -8.4 0M358.3 389.9a4.2 4.2 0 1 0 8.4 0a4.2 4.2 0 1 0 -8.4 0M359.4 390.1a4.2 4.2 0 1 0 8.4 0a4.2 4.2 0 1 0 -8.4 0M360.5 390.4a4.2 4.2 0 1 0 8.4 0a4.2 4.2 0 1 0 -8.4 0M361.6 390.7a4.2 4.2 0 1 0 8.4 0a4.2 4.2 0 1 0 -8.4 0M362.7 391.8a4.2 4.2 0 1 0 8.4 0a4.2 4.2 0 1 0 -8.4 0M363.8 392.9a4.2 4.2 0 1 0 8.4 0a4.2 4.2 0 1 0 -8.4 0M364.9 394.1a4.2 4.2 0 1 0 8.4 0a4.2 4.2 0 1 0 -8.4 0M366.0 395.2a4.2 4.2 0 1 0 8.4 0a4.2 4.2 0 1 0 -8.4 0M367.1 396.3a4.2 4.2 0 1 0 8.4 0a4.2 4.2 0 1 0 -8.4 0M368.2 397.4a4.2 4.2 0 1 0 8.4 0a4.2 4.2 0 1 0 -8.4 0M369.3 396.3a4.2 4.2 0 1 0 8.4 0a4.2 4.2 0 1 0 -8.4 0M370.4 392.6a4.2 4.2 0 1 0 8.4 0a4.2 4.2 0 1 0 -8.4 0M371.5 388.9a4.2 4.2 0 1 0 8.4 0a4.2 4.2 0 1 0 -8.4 0M372.6 385.0a4.2 4.2 0 1 0 8.4 0a4.2 4.2 0 1 0 -8.4 0M373.7 380.9a4.2 4.2 0 1 0 8.4 0a4.2 4.2 0 1 0 -8.4 0M374.8 376.8a4.2 4.2 0 1 0 8.4 0a4.2 4.2 0 1 0 -8.4 0M375.9 373.5a4.2 4.2 0 1 0 8.4 0a4.2 4.2 0 1 0 -8.4 0M377.0 370.8a4.2 4.2 0 1 0 8.4 0a4.2 4.2 0 1 0 -8.4 0M378.1 368.2a4.2 4.2 0 1 0 8.4 0a4.2 4.2 0 1 0 -8.4 0M379.2 365.5a4.2 4.2 0 1 0 8.4 0a4.2 4.2 0 1 0 -8.4 0M380.3 362.9a4.2 4.2 0 1 0 8.4 0a4.2 4.2 0 1 0 -8.4 0M381.4 361.0a4.2 4.2 0 1 0 8.4 0a4.2 4.2 0 1 0 -8.4 0M382.5 360.3a4.2 4.2 0 1 0 8.4 0a4.2 4.2 0 1 0 -8.4 0M383.6 359.5a4.2 4.2 0 1 0 8.4 0a4.2 4.2 0 1 0 -8.4 0M384.7 358.8a4.2 4.2 0 1 0 8.4 0a4.2 4.2 0 1 0 -8.4 0M385.8 358.1a4.2 4.2 0 1 0 8.4 0a4.2 4.2 0 1 0 -8.4 0M386.9 356.9a4.2 4.2 0 1 0 8.4 0a4.2 4.2 0 1 0 -8.4 0M388.0 354.1a4.2 4.2 0 1 0 8.4 0a4.2 4.2 0 1 0 -8.4 0M389.2 351.4a4.2 4.2 0 1 0 8.4 0a4.2 4.2 0 1 0 -8.4 0M390.3 348.6a4.2 4.2 0 1 0 8.4 0a4.2 4.2 0 1 0 -8.4 0M391.4 343.7a4.2 4.2 0 1 0 8.4 0a4.2 4.2 0 1 0 -8.4 0M392.5 338.2a4.2 4.2 0 1 0 8.4 0a4.2 4.2 0 1 0 -8.4 0M393.6 332.7a4.2 4.2 0 1 0 8.4 0a4.2 4.2 0 1 0 -8.4 0M394.7 328.4a4.2 4.2 0 1 0 8.4 0a4.2 4.2 0 1 0 -8.4 0M395.8 326.5a4.2 4.2 0 1 0 8.4 0a4.2 4.2 0 1 0 -8.4 0M396.9 324.5a4.2 4.2 0 1 0 8.4 0a4.2 4.2 0 1 0 -8.4 0M398.0 322.6a4.2 4.2 0 1 0 8.4 0a4.2 4.2 0 1 0 -8.4 0M399.1 323.6a4.2 4.2 0 1 0 8.4 0a4.2 4.2 0 1 0 -8.4 0M400.2 325.0a4.2 4.2 0 1 0 8.4 0a4.2 4.2 0 1 0 -8.4 0M401.3 326.4a4.2 4.2 0 1 0 8.4 0a4.2 4.2 0 1 0 -8.4 0M402.4 327.7a4.2 4.2 0 1 0 8.4 0a4.2 4.2 0 1 0 -8.4 0M403.5 329.1a4.2 4.2 0 1 0 8.4 0a4.2 4.2 0 1 0 -8.4 0M404.6 330.5a4.2 4.2 0 1 0 8.4 0a4.2 4.2 0 1 0 -8.4 0M405.7 331.9a4.2 4.2 0 1 0 8.4 0a4.2 4.2 0 1 0 -8.4 0M406.8 330.1a4.2 4.2 0 1 0 8.4 0a4.2 4.2 0 1 0 -8.4 0M407.9 328.2a4.2 4.2 0 1 0 8.4 0a4.2 4.2 0 1 0 -8.4 0M409.0 326.3a4.2 4.2 0 1 0 8.4 0a4.2 4.2 0 1 0 -8.4 0M410.1 324.5a4.2 4.2 0 1 0 8.4 0a4.2 4.2 0 1 0 -8.4 0M411.2 322.6a4.2 4.2 0 1 0 8.4 0a4.2 4.2 0 1 0 -8.4 0M412.3 321.0a4.2 4.2 0 1 0 8.4 0a4.2 4.2 0 1 0 -8.4 0M413.4 319.5a4.2 4.2 0 1 0 8.4 0a4.2 4.2 0 1 0 -8.4 0M414.5 317.9a4.2 4.2 0 1 0 8.4 0a4.2 4.2 0 1 0 -8.4 0M415.6 316.4a4.2 4.2 0 1 0 8.4 0a4.2 4.2 0 1 0 -8.4 0M416.7 316.3a4.2 4.2 0 1 0 8.4 0a4.2 4.2 0 1 0 -8.4 0M417.8 317.4a4.2 4.2 0 1 0 8.4 0a4.2 4.2 0 1 0 -8.4 0M418.9 318.5a4.2 4.2 0 1 0 8.4 0a4.2 4.2 0 1 0 -8.4 0M420.0 319.7a4.2 4.2 0 1 0 8.4 0a4.2 4.2 0 1 0 -8.4 0M421.1 320.8a4.2 4.2 0 1 0 8.4 0a4.2 4.2 0 1 0 -8.4 0M422.2 321.9a4.2 4.2 0 1 0 8.4 0a4.2 4.2 0 1 0 -8.4 0M423.3 322.1a4.2 4.2 0 1 0 8.4 0a4.2 4.2 0 1 0 -8.4 0M424.4 321.5a4.2 4.2 0 1 0 8.4 0a4.2 4.2 0 1 0 -8.4 0M425.5 321.0a4.2 4.2 0 1 0 8.4 0a4.2 4.2 0 1 0 -8.4 0M426.6 320.4a4.2 4.2 0 1 0 8.4 0a4.2 4.2 0 1 0 -8.4 0M427.7 319.9a4.2 4.2 0 1 0 8.4 0a4.2 4.2 0 1 0 -8.4 0M428.8 319.3a4.2 4.2 0 1 0 8.4 0a4.2 4.2 0 1 0 -8.4 0M429.9 318.8a4.2 4.2 0 1 0 8.4 0a4.2 4.2 0 1 0 -8.4 0M431.0 318.0a4.2 4.2 0 1 0 8.4 0a4.2 4.2 0 1 0 -8.4 0M432.1 317.0a4.2 4.2 0 1 0 8.4 0a4.2 4.2 0 1 0 -8.4 0M433.2 316.1a4.2 4.2 0 1 0 8.4 0a4.2 4.2 0 1 0 -8.4 0M434.3 315.2a4.2 4.2 0 1 0 8.4 0a4.2 4.2 0 1 0 -8.4 0M435.4 314.2a4.2 4.2 0 1 0 8.4 0a4.2 4.2 0 1 0 -8.4 0M436.5 313.3a4.2 4.2 0 1 0 8.4 0a4.2 4.2 0 1 0 -8.4 0M437.6 313.2a4.2 4.2 0 1 0 8.4 0a4.2 4.2 0 1 0 -8.4 0M438.7 313.7a4.2 4.2 0 1 0 8.4 0a4.2 4.2 0 1 0 -8.4 0M439.8 314.2a4.2 4.2 0 1 0 8.4 0a4.2 4.2 0 1 0 -8.4 0M440.9 314.7a4.2 4.2 0 1 0 8.4 0a4.2 4.2 0 1 0 -8.4 0M442.0 315.2a4.2 4.2 0 1 0 8.4 0a4.2 4.2 0 1 0 -8.4 0M443.1 315.6a4.2 4.2 0 1 0 8.4 0a4.2 4.2 0 1 0 -8.4 0M444.3 316.1a4.2 4.2 0 1 0 8.4 0a4.2 4.2 0 1 0 -8.4 0M445.4 316.6a4.2 4.2 0 1 0 8.4 0a4.2 4.2 0 1 0 -8.4 0M446.5 316.6a4.2 4.2 0 1 0 8.4 0a4.2 4.2 0 1 0 -8.4 0M447.6 316.5a4.2 4.2 0 1 0 8.4 0a4.2 4.2 0 1 0 -8.4 0M448.7 316.5a4.2 4.2 0 1 0 8.4 0a4.2 4.2 0 1 0 -8.4 0M449.8 316.4a4.2 4.2 0 1 0 8.4 0a4.2 4.2 0 1 0 -8.4 0M450.9 316.3a4.2 4.2 0 1 0 8.4 0a4.2 4.2 0 1 0 -8.4 0M452.0 316.2a4.2 4.2 0 1 0 8.4 0a4.2 4.2 0 1 0 -8.4 0M453.1 316.1a4.2 4.2 0 1 0 8.4 0a4.2 4.2 0 1 0 -8.4 0M454.2 316.0a4.2 4.2 0 1 0 8.4 0a4.2 4.2 0 1 0 -8.4 0M455.3 316.0a4.2 4.2 0 1 0 8.4 0a4.2 4.2 0 1 0 -8.4 0M456.4 315.9a4.2 4.2 0 1 0 8.4 0a4.2 4.2 0 1 0 -8.4 0M457.5 315.8a4.2 4.2 0 1 0 8.4 0a4.2 4.2 0 1 0 -8.4 0M458.6 315.7a4.2 4.2 0 1 0 8.4 0a4.2 4.2 0 1 0 -8.4 0M459.7 315.8a4.2 4.2 0 1 0 8.4 0a4.2 4.2 0 1 0 -8.4 0M460.8 316.0a4.2 4.2 0 1 0 8.4 0a4.2 4.2 0 1 0 -8.4 0M461.9 316.2a4.2 4.2 0 1 0 8.4 0a4.2 4.2 0 1 0 -8.4 0M463.0 316.4a4.2 4.2 0 1 0 8.4 0a4.2 4.2 0 1 0 -8.4 0M464.1 316.6a4.2 4.2 0 1 0 8.4 0a4.2 4.2 0 1 0 -8.4 0M465.2 316.8a4.2 4.2 0 1 0 8.4 0a4.2 4.2 0 1 0 -8.4 0M466.3 316.9a4.2 4.2 0 1 0 8.4 0a4.2 4.2 0 1 0 -8.4 0M467.4 317.1a4.2 4.2 0 1 0 8.4 0a4.2 4.2 0 1 0 -8.4 0M468.5 317.3a4.2 4.2 0 1 0 8.4 0a4.2 4.2 0 1 0 -8.4 0M469.6 317.5a4.2 4.2 0 1 0 8.4 0a4.2 4.2 0 1 0 -8.4 0M470.7 317.6a4.2 4.2 0 1 0 8.4 0a4.2 4.2 0 1 0 -8.4 0M471.8 317.4a4.2 4.2 0 1 0 8.4 0a4.2 4.2 0 1 0 -8.4 0M472.9 317.3a4.2 4.2 0 1 0 8.4 0a4.2 4.2 0 1 0 -8.4 0M474.0 317.2a4.2 4.2 0 1 0 8.4 0a4.2 4.2 0 1 0 -8.4 0M475.1 317.1a4.2 4.2 0 1 0 8.4 0a4.2 4.2 0 1 0 -8.4 0M476.2 317.0a4.2 4.2 0 1 0 8.4 0a4.2 4.2 0 1 0 -8.4 0M477.3 316.9a4.2 4.2 0 1 0 8.4 0a4.2 4.2 0 1 0 -8.4 0M478.4 316.8a4.2 4.2 0 1 0 8.4 0a4.2 4.2 0 1 0 -8.4 0M479.5 316.7a4.2 4.2 0 1 0 8.4 0a4.2 4.2 0 1 0 -8.4 0M480.6 317.0a4.2 4.2 0 1 0 8.4 0a4.2 4.2 0 1 0 -8.4 0M481.7 317.3a4.2 4.2 0 1 0 8.4 0a4.2 4.2 0 1 0 -8.4 0M482.8 317.6a4.2 4.2 0 1 0 8.4 0a4.2 4.2 0 1 0 -8.4 0M483.9 317.9a4.2 4.2 0 1 0 8.4 0a4.2 4.2 0 1 0 -8.4 0M485.0 318.3a4.2 4.2 0 1 0 8.4 0a4.2 4.2 0 1 0 -8.4 0M486.1 318.6a4.2 4.2 0 1 0 8.4 0a4.2 4.2 0 1 0 -8.4 0M487.2 318.9a4.2 4.2 0 1 0 8.4 0a4.2 4.2 0 1 0 -8.4 0M488.3 319.2a4.2 4.2 0 1 0 8.4 0a4.2 4.2 0 1 0 -8.4 0M489.4 319.5a4.2 4.2 0 1 0 8.4 0a4.2 4.2 0 1 0 -8.4 0M490.5 319.6a4.2 4.2 0 1 0 8.4 0a4.2 4.2 0 1 0 -8.4 0M491.6 319.6a4.2 4.2 0 1 0 8.4 0a4.2 4.2 0 1 0 -8.4 0M492.7 319.7a4.2 4.2 0 1 0 8.4 0a4.2 4.2 0 1 0 -8.4 0M493.8 319.7a4.2 4.2 0 1 0 8.4 0a4.2 4.2 0 1 0 -8.4 0M494.9 319.8a4.2 4.2 0 1 0 8.4 0a4.2 4.2 0 1 0 -8.4 0M496.0 319.8a4.2 4.2 0 1 0 8.4 0a4.2 4.2 0 1 0 -8.4 0M497.1 319.9a4.2 4.2 0 1 0 8.4 0a4.2 4.2 0 1 0 -8.4 0M498.2 320.0a4.2 4.2 0 1 0 8.4 0a4.2 4.2 0 1 0 -8.4 0M499.4 320.0a4.2 4.2 0 1 0 8.4 0a4.2 4.2 0 1 0 -8.4 0M500.5 320.1a4.2 4.2 0 1 0 8.4 0a4.2 4.2 0 1 0 -8.4 0M501.6 320.1a4.2 4.2 0 1 0 8.4 0a4.2 4.2 0 1 0 -8.4 0M502.7 320.2a4.2 4.2 0 1 0 8.4 0a4.2 4.2 0 1 0 -8.4 0M503.8 320.3a4.2 4.2 0 1 0 8.4 0a4.2 4.2 0 1 0 -8.4 0M504.9 320.4a4.2 4.2 0 1 0 8.4 0a4.2 4.2 0 1 0 -8.4 0M506.0 320.4a4.2 4.2 0 1 0 8.4 0a4.2 4.2 0 1 0 -8.4 0M507.1 320.5a4.2 4.2 0 1 0 8.4 0a4.2 4.2 0 1 0 -8.4 0M508.2 320.6a4.2 4.2 0 1 0 8.4 0a4.2 4.2 0 1 0 -8.4 0M509.3 320.7a4.2 4.2 0 1 0 8.4 0a4.2 4.2 0 1 0 -8.4 0M510.4 320.8a4.2 4.2 0 1 0 8.4 0a4.2 4.2 0 1 0 -8.4 0M511.5 320.8a4.2 4.2 0 1 0 8.4 0a4.2 4.2 0 1 0 -8.4 0M512.6 320.9a4.2 4.2 0 1 0 8.4 0a4.2 4.2 0 1 0 -8.4 0M513.7 321.0a4.2 4.2 0 1 0 8.4 0a4.2 4.2 0 1 0 -8.4 0M514.8 321.1a4.2 4.2 0 1 0 8.4 0a4.2 4.2 0 1 0 -8.4 0M515.9 321.2a4.2 4.2 0 1 0 8.4 0a4.2 4.2 0 1 0 -8.4 0M517.0 321.2a4.2 4.2 0 1 0 8.4 0a4.2 4.2 0 1 0 -8.4 0M518.1 321.3a4.2 4.2 0 1 0 8.4 0a4.2 4.2 0 1 0 -8.4 0M519.2 321.4a4.2 4.2 0 1 0 8.4 0a4.2 4.2 0 1 0 -8.4 0M520.3 321.5a4.2 4.2 0 1 0 8.4 0a4.2 4.2 0 1 0 -8.4 0M521.4 321.6a4.2 4.2 0 1 0 8.4 0a4.2 4.2 0 1 0 -8.4 0M522.5 321.6a4.2 4.2 0 1 0 8.4 0a4.2 4.2 0 1 0 -8.4 0M523.6 321.7a4.2 4.2 0 1 0 8.4 0a4.2 4.2 0 1 0 -8.4 0M524.7 321.8a4.2 4.2 0 1 0 8.4 0a4.2 4.2 0 1 0 -8.4 0M525.8 321.9a4.2 4.2 0 1 0 8.4 0a4.2 4.2 0 1 0 -8.4 0M526.9 322.0a4.2 4.2 0 1 0 8.4 0a4.2 4.2 0 1 0 -8.4 0M528.0 322.0a4.2 4.2 0 1 0 8.4 0a4.2 4.2 0 1 0 -8.4 0M529.1 322.1a4.2 4.2 0 1 0 8.4 0a4.2 4.2 0 1 0 -8.4 0M530.2 322.2a4.2 4.2 0 1 0 8.4 0a4.2 4.2 0 1 0 -8.4 0M531.3 322.3a4.2 4.2 0 1 0 8.4 0a4.2 4.2 0 1 0 -8.4 0M532.4 322.4a4.2 4.2 0 1 0 8.4 0a4.2 4.2 0 1 0 -8.4 0M533.5 322.5a4.2 4.2 0 1 0 8.4 0a4.2 4.2 0 1 0 -8.4 0M534.6 322.5a4.2 4.2 0 1 0 8.4 0a4.2 4.2 0 1 0 -8.4 0M535.7 322.6a4.2 4.2 0 1 0 8.4 0a4.2 4.2 0 1 0 -8.4 0M536.8 322.7a4.2 4.2 0 1 0 8.4 0a4.2 4.2 0 1 0 -8.4 0M537.9 322.4a4.2 4.2 0 1 0 8.4 0a4.2 4.2 0 1 0 -8.4 0M539.0 322.1a4.2 4.2 0 1 0 8.4 0a4.2 4.2 0 1 0 -8.4 0M540.1 321.8a4.2 4.2 0 1 0 8.4 0a4.2 4.2 0 1 0 -8.4 0M541.2 321.5a4.2 4.2 0 1 0 8.4 0a4.2 4.2 0 1 0 -8.4 0M542.3 321.1a4.2 4.2 0 1 0 8.4 0a4.2 4.2 0 1 0 -8.4 0M543.4 320.8a4.2 4.2 0 1 0 8.4 0a4.2 4.2 0 1 0 -8.4 0M544.5 320.5a4.2 4.2 0 1 0 8.4 0a4.2 4.2 0 1 0 -8.4 0M545.6 320.2a4.2 4.2 0 1 0 8.4 0a4.2 4.2 0 1 0 -8.4 0M546.7 319.9a4.2 4.2 0 1 0 8.4 0a4.2 4.2 0 1 0 -8.4 0M547.8 319.6a4.2 4.2 0 1 0 8.4 0a4.2 4.2 0 1 0 -8.4 0M548.9 319.6a4.2 4.2 0 1 0 8.4 0a4.2 4.2 0 1 0 -8.4 0M550.0 320.0a4.2 4.2 0 1 0 8.4 0a4.2 4.2 0 1 0 -8.4 0M551.1 320.4a4.2 4.2 0 1 0 8.4 0a4.2 4.2 0 1 0 -8.4 0M552.2 320.8a4.2 4.2 0 1 0 8.4 0a4.2 4.2 0 1 0 -8.4 0M553.3 321.2a4.2 4.2 0 1 0 8.4 0a4.2 4.2 0 1 0 -8.4 0M554.5 321.6a4.2 4.2 0 1 0 8.4 0a4.2 4.2 0 1 0 -8.4 0M555.6 322.0a4.2 4.2 0 1 0 8.4 0a4.2 4.2 0 1 0 -8.4 0M556.7 322.4a4.2 4.2 0 1 0 8.4 0a4.2 4.2 0 1 0 -8.4 0M557.8 322.8a4.2 4.2 0 1 0 8.4 0a4.2 4.2 0 1 0 -8.4 0M558.9 323.2a4.2 4.2 0 1 0 8.4 0a4.2 4.2 0 1 0 -8.4 0M560.0 323.6a4.2 4.2 0 1 0 8.4 0a4.2 4.2 0 1 0 -8.4 0M561.1 324.0a4.2 4.2 0 1 0 8.4 0a4.2 4.2 0 1 0 -8.4 0M562.2 324.4a4.2 4.2 0 1 0 8.4 0a4.2 4.2 0 1 0 -8.4 0M563.3 324.5a4.2 4.2 0 1 0 8.4 0a4.2 4.2 0 1 0 -8.4 0M564.4 324.6a4.2 4.2 0 1 0 8.4 0a4.2 4.2 0 1 0 -8.4 0M565.5 324.7a4.2 4.2 0 1 0 8.4 0a4.2 4.2 0 1 0 -8.4 0M566.6 324.7a4.2 4.2 0 1 0 8.4 0a4.2 4.2 0 1 0 -8.4 0M567.7 324.8a4.2 4.2 0 1 0 8.4 0a4.2 4.2 0 1 0 -8.4 0M568.8 324.8a4.2 4.2 0 1 0 8.4 0a4.2 4.2 0 1 0 -8.4 0M569.9 324.9a4.2 4.2 0 1 0 8.4 0a4.2 4.2 0 1 0 -8.4 0M571.0 324.9a4.2 4.2 0 1 0 8.4 0a4.2 4.2 0 1 0 -8.4 0M572.1 325.0a4.2 4.2 0 1 0 8.4 0a4.2 4.2 0 1 0 -8.4 0M573.2 325.0a4.2 4.2 0 1 0 8.4 0a4.2 4.2 0 1 0 -8.4 0M574.3 325.1a4.2 4.2 0 1 0 8.4 0a4.2 4.2 0 1 0 -8.4 0M575.4 325.2a4.2 4.2 0 1 0 8.4 0a4.2 4.2 0 1 0 -8.4 0M576.5 325.2a4.2 4.2 0 1 0 8.4 0a4.2 4.2 0 1 0 -8.4 0M577.6 325.3a4.2 4.2 0 1 0 8.4 0a4.2 4.2 0 1 0 -8.4 0M578.7 325.3a4.2 4.2 0 1 0 8.4 0a4.2 4.2 0 1 0 -8.4 0M579.8 325.4a4.2 4.2 0 1 0 8.4 0a4.2 4.2 0 1 0 -8.4 0M580.9 325.4a4.2 4.2 0 1 0 8.4 0a4.2 4.2 0 1 0 -8.4 0M582.0 325.5a4.2 4.2 0 1 0 8.4 0a4.2 4.2 0 1 0 -8.4 0M583.1 325.6a4.2 4.2 0 1 0 8.4 0a4.2 4.2 0 1 0 -8.4 0M584.2 325.6a4.2 4.2 0 1 0 8.4 0a4.2 4.2 0 1 0 -8.4 0M585.3 325.7a4.2 4.2 0 1 0 8.4 0a4.2 4.2 0 1 0 -8.4 0M586.4 325.7a4.2 4.2 0 1 0 8.4 0a4.2 4.2 0 1 0 -8.4 0M587.5 325.8a4.2 4.2 0 1 0 8.4 0a4.2 4.2 0 1 0 -8.4 0M588.6 325.8a4.2 4.2 0 1 0 8.4 0a4.2 4.2 0 1 0 -8.4 0M589.7 325.9a4.2 4.2 0 1 0 8.4 0a4.2 4.2 0 1 0 -8.4 0M590.8 325.9a4.2 4.2 0 1 0 8.4 0a4.2 4.2 0 1 0 -8.4 0M591.9 326.0a4.2 4.2 0 1 0 8.4 0a4.2 4.2 0 1 0 -8.4 0M593.0 326.0a4.2 4.2 0 1 0 8.4 0a4.2 4.2 0 1 0 -8.4 0M594.1 326.1a4.2 4.2 0 1 0 8.4 0a4.2 4.2 0 1 0 -8.4 0M595.2 326.1a4.2 4.2 0 1 0 8.4 0a4.2 4.2 0 1 0 -8.4 0M596.3 326.2a4.2 4.2 0 1 0 8.4 0a4.2 4.2 0 1 0 -8.4 0M597.4 326.2a4.2 4.2 0 1 0 8.4 0a4.2 4.2 0 1 0 -8.4 0M598.5 326.3a4.2 4.2 0 1 0 8.4 0a4.2 4.2 0 1 0 -8.4 0M599.6 326.3a4.2 4.2 0 1 0 8.4 0a4.2 4.2 0 1 0 -8.4 0M600.7 326.4a4.2 4.2 0 1 0 8.4 0a4.2 4.2 0 1 0 -8.4 0M601.8 326.5a4.2 4.2 0 1 0 8.4 0a4.2 4.2 0 1 0 -8.4 0M602.9 326.5a4.2 4.2 0 1 0 8.4 0a4.2 4.2 0 1 0 -8.4 0M604.0 326.6a4.2 4.2 0 1 0 8.4 0a4.2 4.2 0 1 0 -8.4 0M605.1 326.6a4.2 4.2 0 1 0 8.4 0a4.2 4.2 0 1 0 -8.4 0M606.2 326.7a4.2 4.2 0 1 0 8.4 0a4.2 4.2 0 1 0 -8.4 0M607.3 326.7a4.2 4.2 0 1 0 8.4 0a4.2 4.2 0 1 0 -8.4 0M608.4 326.8a4.2 4.2 0 1 0 8.4 0a4.2 4.2 0 1 0 -8.4 0M609.6 326.8a4.2 4.2 0 1 0 8.4 0a4.2 4.2 0 1 0 -8.4 0M610.7 326.9a4.2 4.2 0 1 0 8.4 0a4.2 4.2 0 1 0 -8.4 0M611.8 326.9a4.2 4.2 0 1 0 8.4 0a4.2 4.2 0 1 0 -8.4 0M612.9 327.0a4.2 4.2 0 1 0 8.4 0a4.2 4.2 0 1 0 -8.4 0M614.0 327.0a4.2 4.2 0 1 0 8.4 0a4.2 4.2 0 1 0 -8.4 0M615.1 327.0a4.2 4.2 0 1 0 8.4 0a4.2 4.2 0 1 0 -8.4 0M616.2 327.1a4.2 4.2 0 1 0 8.4 0a4.2 4.2 0 1 0 -8.4 0M617.3 327.1a4.2 4.2 0 1 0 8.4 0a4.2 4.2 0 1 0 -8.4 0M618.4 327.2a4.2 4.2 0 1 0 8.4 0a4.2 4.2 0 1 0 -8.4 0M619.5 327.2a4.2 4.2 0 1 0 8.4 0a4.2 4.2 0 1 0 -8.4 0M620.6 327.2a4.2 4.2 0 1 0 8.4 0a4.2 4.2 0 1 0 -8.4 0M621.7 327.3a4.2 4.2 0 1 0 8.4 0a4.2 4.2 0 1 0 -8.4 0M622.8 327.3a4.2 4.2 0 1 0 8.4 0a4.2 4.2 0 1 0 -8.4 0M623.9 327.3a4.2 4.2 0 1 0 8.4 0a4.2 4.2 0 1 0 -8.4 0M625.0 327.4a4.2 4.2 0 1 0 8.4 0a4.2 4.2 0 1 0 -8.4 0M626.1 327.4a4.2 4.2 0 1 0 8.4 0a4.2 4.2 0 1 0 -8.4 0M627.2 327.4a4.2 4.2 0 1 0 8.4 0a4.2 4.2 0 1 0 -8.4 0M628.3 327.5a4.2 4.2 0 1 0 8.4 0a4.2 4.2 0 1 0 -8.4 0M629.4 327.5a4.2 4.2 0 1 0 8.4 0a4.2 4.2 0 1 0 -8.4 0M630.5 327.5a4.2 4.2 0 1 0 8.4 0a4.2 4.2 0 1 0 -8.4 0M631.6 327.6a4.2 4.2 0 1 0 8.4 0a4.2 4.2 0 1 0 -8.4 0M632.7 327.6a4.2 4.2 0 1 0 8.4 0a4.2 4.2 0 1 0 -8.4 0M633.8 327.6a4.2 4.2 0 1 0 8.4 0a4.2 4.2 0 1 0 -8.4 0M634.9 327.7a4.2 4.2 0 1 0 8.4 0a4.2 4.2 0 1 0 -8.4 0M636.0 327.7a4.2 4.2 0 1 0 8.4 0a4.2 4.2 0 1 0 -8.4 0M637.1 327.7a4.2 4.2 0 1 0 8.4 0a4.2 4.2 0 1 0 -8.4 0M638.2 327.8a4.2 4.2 0 1 0 8.4 0a4.2 4.2 0 1 0 -8.4 0M639.3 327.8a4.2 4.2 0 1 0 8.4 0a4.2 4.2 0 1 0 -8.4 0M640.4 327.8a4.2 4.2 0 1 0 8.4 0a4.2 4.2 0 1 0 -8.4 0M641.5 327.9a4.2 4.2 0 1 0 8.4 0a4.2 4.2 0 1 0 -8.4 0M642.6 327.9a4.2 4.2 0 1 0 8.4 0a4.2 4.2 0 1 0 -8.4 0M643.7 328.0a4.2 4.2 0 1 0 8.4 0a4.2 4.2 0 1 0 -8.4 0M644.8 328.0a4.2 4.2 0 1 0 8.4 0a4.2 4.2 0 1 0 -8.4 0M645.9 328.0a4.2 4.2 0 1 0 8.4 0a4.2 4.2 0 1 0 -8.4 0M647.0 328.1a4.2 4.2 0 1 0 8.4 0a4.2 4.2 0 1 0 -8.4 0M648.1 328.1a4.2 4.2 0 1 0 8.4 0a4.2 4.2 0 1 0 -8.4 0M649.2 328.1a4.2 4.2 0 1 0 8.4 0a4.2 4.2 0 1 0 -8.4 0M650.3 328.2a4.2 4.2 0 1 0 8.4 0a4.2 4.2 0 1 0 -8.4 0M651.4 328.2a4.2 4.2 0 1 0 8.4 0a4.2 4.2 0 1 0 -8.4 0M652.5 328.2a4.2 4.2 0 1 0 8.4 0a4.2 4.2 0 1 0 -8.4 0M653.6 328.3a4.2 4.2 0 1 0 8.4 0a4.2 4.2 0 1 0 -8.4 0M654.7 328.0a4.2 4.2 0 1 0 8.4 0a4.2 4.2 0 1 0 -8.4 0M655.8 326.9a4.2 4.2 0 1 0 8.4 0a4.2 4.2 0 1 0 -8.4 0M656.9 325.8a4.2 4.2 0 1 0 8.4 0a4.2 4.2 0 1 0 -8.4 0M658.0 324.8a4.2 4.2 0 1 0 8.4 0a4.2 4.2 0 1 0 -8.4 0" fill="#ff0000"/>
<text transform="translate(90.50,430.60) scale(1.15,1)" font-size="16" text-anchor="middle" font-weight="bold" fill="#000">0</text>
<text transform="translate(200.50,430.60) scale(1.15,1)" font-size="16" text-anchor="middle" font-weight="bold" fill="#000">100</text>
<text transform="translate(310.50,430.60) scale(1.15,1)" font-size="16" text-anchor="middle" font-weight="bold" fill="#000">200</text>
<text transform="translate(420.50,430.60) scale(1.15,1)" font-size="16" text-anchor="middle" font-weight="bold" fill="#000">300</text>
<text transform="translate(530.50,430.60) scale(1.15,1)" font-size="16" text-anchor="middle" font-weight="bold" fill="#000">400</text>
<text transform="translate(640.50,430.60) scale(1.15,1)" font-size="16" text-anchor="middle" font-weight="bold" fill="#000">500</text>
<text transform="translate(86.50,285.40) scale(1.15,1)" font-size="16" text-anchor="end" font-weight="bold" fill="#000">10</text>
<text transform="translate(86.50,338.35) scale(1.15,1)" font-size="16" text-anchor="end" font-weight="bold" fill="#000">0</text>
<text transform="translate(86.50,391.30) scale(1.15,1)" font-size="16" text-anchor="end" font-weight="bold" fill="#000">−10</text>
<text transform="translate(110.30,282.10) scale(1.0,1)" font-size="21" text-anchor="start" font-weight="bold" fill="#000">(b)</text>
<text transform="translate(22.60,333.80) scale(1.15,1) rotate(-90)" font-size="18.5" text-anchor="middle" font-weight="bold" fill="#000">Derivative</text>
<text transform="translate(47.20,333.80) scale(1.15,1) rotate(-90)" font-size="18.5" text-anchor="middle" font-weight="bold" fill="#000">(mV/m)</text>
<rect x="451.5" y="353.5" width="74" height="36.5" fill="#fff" stroke="#333" stroke-width="1.1"/>
<path d="M459 364.5h8M489 364.5h7.2" stroke="#11f" stroke-width="1.3"/>
<circle cx="478.7" cy="364.2" r="4.4" fill="#00f"/>
<path d="M459 380.5h8M489 380.5h7.2" stroke="#f11" stroke-width="1.3"/>
<circle cx="478.7" cy="380" r="4.4" fill="#f00"/>
<text transform="translate(503.00,368.20) scale(1.15,1)" font-size="11.2" text-anchor="start" font-weight="bold" fill="#000">HD</text>
<text transform="translate(503.00,384.00) scale(1.15,1)" font-size="11.2" text-anchor="start" font-weight="bold" fill="#000">VD</text>
<path d="M200.5 647v-5M200.5 485v5M310.5 647v-5M310.5 485v5M420.5 647v-5M420.5 485v5M530.5 647v-5M530.5 485v5M640.5 647v-5M640.5 485v5M90 539.5h5M663 539.5h-5M90 592.5h5M663 592.5h-5" stroke="#222" stroke-width="1" fill="none"/>
<rect x="90.5" y="485.5" width="572" height="161" fill="none" stroke="#222" stroke-width="1"/>
<path d="M86.3 631.0a3.8 3.8 0 1 0 7.6 0a3.8 3.8 0 1 0 -7.6 0M87.3 632.1a3.8 3.8 0 1 0 7.6 0a3.8 3.8 0 1 0 -7.6 0M88.3 633.2a3.8 3.8 0 1 0 7.6 0a3.8 3.8 0 1 0 -7.6 0M89.3 634.3a3.8 3.8 0 1 0 7.6 0a3.8 3.8 0 1 0 -7.6 0M90.3 635.4a3.8 3.8 0 1 0 7.6 0a3.8 3.8 0 1 0 -7.6 0M91.3 636.5a3.8 3.8 0 1 0 7.6 0a3.8 3.8 0 1 0 -7.6 0M92.3 636.8a3.8 3.8 0 1 0 7.6 0a3.8 3.8 0 1 0 -7.6 0M93.3 637.0a3.8 3.8 0 1 0 7.6 0a3.8 3.8 0 1 0 -7.6 0M94.3 637.2a3.8 3.8 0 1 0 7.6 0a3.8 3.8 0 1 0 -7.6 0M95.3 637.4a3.8 3.8 0 1 0 7.6 0a3.8 3.8 0 1 0 -7.6 0M96.3 637.6a3.8 3.8 0 1 0 7.6 0a3.8 3.8 0 1 0 -7.6 0M97.3 637.8a3.8 3.8 0 1 0 7.6 0a3.8 3.8 0 1 0 -7.6 0M98.3 638.0a3.8 3.8 0 1 0 7.6 0a3.8 3.8 0 1 0 -7.6 0M99.3 638.2a3.8 3.8 0 1 0 7.6 0a3.8 3.8 0 1 0 -7.6 0M100.3 638.4a3.8 3.8 0 1 0 7.6 0a3.8 3.8 0 1 0 -7.6 0M101.3 638.6a3.8 3.8 0 1 0 7.6 0a3.8 3.8 0 1 0 -7.6 0M102.3 638.7a3.8 3.8 0 1 0 7.6 0a3.8 3.8 0 1 0 -7.6 0M103.3 638.7a3.8 3.8 0 1 0 7.6 0a3.8 3.8 0 1 0 -7.6 0M104.3 638.7a3.8 3.8 0 1 0 7.6 0a3.8 3.8 0 1 0 -7.6 0M105.3 638.7a3.8 3.8 0 1 0 7.6 0a3.8 3.8 0 1 0 -7.6 0M106.3 638.7a3.8 3.8 0 1 0 7.6 0a3.8 3.8 0 1 0 -7.6 0M107.3 638.7a3.8 3.8 0 1 0 7.6 0a3.8 3.8 0 1 0 -7.6 0M108.3 638.7a3.8 3.8 0 1 0 7.6 0a3.8 3.8 0 1 0 -7.6 0M109.3 638.7a3.8 3.8 0 1 0 7.6 0a3.8 3.8 0 1 0 -7.6 0M110.3 638.7a3.8 3.8 0 1 0 7.6 0a3.8 3.8 0 1 0 -7.6 0M111.3 638.7a3.8 3.8 0 1 0 7.6 0a3.8 3.8 0 1 0 -7.6 0M112.3 638.7a3.8 3.8 0 1 0 7.6 0a3.8 3.8 0 1 0 -7.6 0M113.3 638.7a3.8 3.8 0 1 0 7.6 0a3.8 3.8 0 1 0 -7.6 0M114.3 638.7a3.8 3.8 0 1 0 7.6 0a3.8 3.8 0 1 0 -7.6 0M115.3 638.7a3.8 3.8 0 1 0 7.6 0a3.8 3.8 0 1 0 -7.6 0M116.3 638.7a3.8 3.8 0 1 0 7.6 0a3.8 3.8 0 1 0 -7.6 0M117.3 638.7a3.8 3.8 0 1 0 7.6 0a3.8 3.8 0 1 0 -7.6 0M118.3 638.7a3.8 3.8 0 1 0 7.6 0a3.8 3.8 0 1 0 -7.6 0M119.3 638.7a3.8 3.8 0 1 0 7.6 0a3.8 3.8 0 1 0 -7.6 0M120.3 638.7a3.8 3.8 0 1 0 7.6 0a3.8 3.8 0 1 0 -7.6 0M121.3 638.6a3.8 3.8 0 1 0 7.6 0a3.8 3.8 0 1 0 -7.6 0M122.3 638.5a3.8 3.8 0 1 0 7.6 0a3.8 3.8 0 1 0 -7.6 0M123.3 638.5a3.8 3.8 0 1 0 7.6 0a3.8 3.8 0 1 0 -7.6 0M124.3 638.4a3.8 3.8 0 1 0 7.6 0a3.8 3.8 0 1 0 -7.6 0M125.3 638.3a3.8 3.8 0 1 0 7.6 0a3.8 3.8 0 1 0 -7.6 0M126.3 638.3a3.8 3.8 0 1 0 7.6 0a3.8 3.8 0 1 0 -7.6 0M127.3 638.2a3.8 3.8 0 1 0 7.6 0a3.8 3.8 0 1 0 -7.6 0M128.3 638.1a3.8 3.8 0 1 0 7.6 0a3.8 3.8 0 1 0 -7.6 0M129.3 638.1a3.8 3.8 0 1 0 7.6 0a3.8 3.8 0 1 0 -7.6 0M130.3 638.0a3.8 3.8 0 1 0 7.6 0a3.8 3.8 0 1 0 -7.6 0M131.3 638.0a3.8 3.8 0 1 0 7.6 0a3.8 3.8 0 1 0 -7.6 0M132.3 637.9a3.8 3.8 0 1 0 7.6 0a3.8 3.8 0 1 0 -7.6 0M133.3 637.8a3.8 3.8 0 1 0 7.6 0a3.8 3.8 0 1 0 -7.6 0M134.3 637.7a3.8 3.8 0 1 0 7.6 0a3.8 3.8 0 1 0 -7.6 0M135.3 637.6a3.8 3.8 0 1 0 7.6 0a3.8 3.8 0 1 0 -7.6 0M136.3 637.5a3.8 3.8 0 1 0 7.6 0a3.8 3.8 0 1 0 -7.6 0M137.3 637.4a3.8 3.8 0 1 0 7.6 0a3.8 3.8 0 1 0 -7.6 0M138.3 637.3a3.8 3.8 0 1 0 7.6 0a3.8 3.8 0 1 0 -7.6 0M139.3 637.2a3.8 3.8 0 1 0 7.6 0a3.8 3.8 0 1 0 -7.6 0M140.3 637.1a3.8 3.8 0 1 0 7.6 0a3.8 3.8 0 1 0 -7.6 0M141.3 637.0a3.8 3.8 0 1 0 7.6 0a3.8 3.8 0 1 0 -7.6 0M142.3 636.9a3.8 3.8 0 1 0 7.6 0a3.8 3.8 0 1 0 -7.6 0M143.3 636.8a3.8 3.8 0 1 0 7.6 0a3.8 3.8 0 1 0 -7.6 0M144.3 636.7a3.8 3.8 0 1 0 7.6 0a3.8 3.8 0 1 0 -7.6 0M145.3 636.6a3.8 3.8 0 1 0 7.6 0a3.8 3.8 0 1 0 -7.6 0M146.3 636.5a3.8 3.8 0 1 0 7.6 0a3.8 3.8 0 1 0 -7.6 0M147.3 636.5a3.8 3.8 0 1 0 7.6 0a3.8 3.8 0 1 0 -7.6 0M148.3 636.4a3.8 3.8 0 1 0 7.6 0a3.8 3.8 0 1 0 -7.6 0M149.3 636.3a3.8 3.8 0 1 0 7.6 0a3.8 3.8 0 1 0 -7.6 0M150.3 636.3a3.8 3.8 0 1 0 7.6 0a3.8 3.8 0 1 0 -7.6 0M151.3 636.2a3.8 3.8 0 1 0 7.6 0a3.8 3.8 0 1 0 -7.6 0M152.3 636.1a3.8 3.8 0 1 0 7.6 0a3.8 3.8 0 1 0 -7.6 0M153.3 636.1a3.8 3.8 0 1 0 7.6 0a3.8 3.8 0 1 0 -7.6 0M154.3 636.0a3.8 3.8 0 1 0 7.6 0a3.8 3.8 0 1 0 -7.6 0M155.3 635.9a3.8 3.8 0 1 0 7.6 0a3.8 3.8 0 1 0 -7.6 0M156.3 635.8a3.8 3.8 0 1 0 7.6 0a3.8 3.8 0 1 0 -7.6 0M157.3 635.8a3.8 3.8 0 1 0 7.6 0a3.8 3.8 0 1 0 -7.6 0M158.3 635.7a3.8 3.8 0 1 0 7.6 0a3.8 3.8 0 1 0 -7.6 0M159.3 635.6a3.8 3.8 0 1 0 7.6 0a3.8 3.8 0 1 0 -7.6 0M160.3 635.6a3.8 3.8 0 1 0 7.6 0a3.8 3.8 0 1 0 -7.6 0M161.3 635.5a3.8 3.8 0 1 0 7.6 0a3.8 3.8 0 1 0 -7.6 0M162.3 635.4a3.8 3.8 0 1 0 7.6 0a3.8 3.8 0 1 0 -7.6 0M163.3 635.4a3.8 3.8 0 1 0 7.6 0a3.8 3.8 0 1 0 -7.6 0M164.3 635.6a3.8 3.8 0 1 0 7.6 0a3.8 3.8 0 1 0 -7.6 0M165.3 635.8a3.8 3.8 0 1 0 7.6 0a3.8 3.8 0 1 0 -7.6 0M166.3 635.9a3.8 3.8 0 1 0 7.6 0a3.8 3.8 0 1 0 -7.6 0M167.3 636.1a3.8 3.8 0 1 0 7.6 0a3.8 3.8 0 1 0 -7.6 0M168.3 636.2a3.8 3.8 0 1 0 7.6 0a3.8 3.8 0 1 0 -7.6 0M169.3 636.4a3.8 3.8 0 1 0 7.6 0a3.8 3.8 0 1 0 -7.6 0M170.3 636.6a3.8 3.8 0 1 0 7.6 0a3.8 3.8 0 1 0 -7.6 0M171.3 636.4a3.8 3.8 0 1 0 7.6 0a3.8 3.8 0 1 0 -7.6 0M172.3 636.2a3.8 3.8 0 1 0 7.6 0a3.8 3.8 0 1 0 -7.6 0M173.3 636.0a3.8 3.8 0 1 0 7.6 0a3.8 3.8 0 1 0 -7.6 0M174.3 635.8a3.8 3.8 0 1 0 7.6 0a3.8 3.8 0 1 0 -7.6 0M175.3 635.6a3.8 3.8 0 1 0 7.6 0a3.8 3.8 0 1 0 -7.6 0M176.3 635.3a3.8 3.8 0 1 0 7.6 0a3.8 3.8 0 1 0 -7.6 0M177.3 635.1a3.8 3.8 0 1 0 7.6 0a3.8 3.8 0 1 0 -7.6 0M178.3 634.9a3.8 3.8 0 1 0 7.6 0a3.8 3.8 0 1 0 -7.6 0M179.3 635.3a3.8 3.8 0 1 0 7.6 0a3.8 3.8 0 1 0 -7.6 0M180.3 635.7a3.8 3.8 0 1 0 7.6 0a3.8 3.8 0 1 0 -7.6 0M181.3 636.1a3.8 3.8 0 1 0 7.6 0a3.8 3.8 0 1 0 -7.6 0M182.3 636.5a3.8 3.8 0 1 0 7.6 0a3.8 3.8 0 1 0 -7.6 0M183.3 636.8a3.8 3.8 0 1 0 7.6 0a3.8 3.8 0 1 0 -7.6 0M184.3 637.2a3.8 3.8 0 1 0 7.6 0a3.8 3.8 0 1 0 -7.6 0M185.3 637.6a3.8 3.8 0 1 0 7.6 0a3.8 3.8 0 1 0 -7.6 0M186.3 637.8a3.8 3.8 0 1 0 7.6 0a3.8 3.8 0 1 0 -7.6 0M187.3 637.5a3.8 3.8 0 1 0 7.6 0a3.8 3.8 0 1 0 -7.6 0M188.3 637.1a3.8 3.8 0 1 0 7.6 0a3.8 3.8 0 1 0 -7.6 0M189.3 636.8a3.8 3.8 0 1 0 7.6 0a3.8 3.8 0 1 0 -7.6 0M190.3 636.5a3.8 3.8 0 1 0 7.6 0a3.8 3.8 0 1 0 -7.6 0M191.3 636.2a3.8 3.8 0 1 0 7.6 0a3.8 3.8 0 1 0 -7.6 0M192.3 635.8a3.8 3.8 0 1 0 7.6 0a3.8 3.8 0 1 0 -7.6 0M193.3 635.5a3.8 3.8 0 1 0 7.6 0a3.8 3.8 0 1 0 -7.6 0M194.3 635.3a3.8 3.8 0 1 0 7.6 0a3.8 3.8 0 1 0 -7.6 0M195.3 635.2a3.8 3.8 0 1 0 7.6 0a3.8 3.8 0 1 0 -7.6 0M196.3 635.1a3.8 3.8 0 1 0 7.6 0a3.8 3.8 0 1 0 -7.6 0M197.3 635.0a3.8 3.8 0 1 0 7.6 0a3.8 3.8 0 1 0 -7.6 0M198.3 634.9a3.8 3.8 0 1 0 7.6 0a3.8 3.8 0 1 0 -7.6 0M199.3 634.8a3.8 3.8 0 1 0 7.6 0a3.8 3.8 0 1 0 -7.6 0M200.3 634.7a3.8 3.8 0 1 0 7.6 0a3.8 3.8 0 1 0 -7.6 0M201.3 634.6a3.8 3.8 0 1 0 7.6 0a3.8 3.8 0 1 0 -7.6 0M202.3 634.5a3.8 3.8 0 1 0 7.6 0a3.8 3.8 0 1 0 -7.6 0M203.3 634.4a3.8 3.8 0 1 0 7.6 0a3.8 3.8 0 1 0 -7.6 0M204.3 634.3a3.8 3.8 0 1 0 7.6 0a3.8 3.8 0 1 0 -7.6 0M205.3 634.2a3.8 3.8 0 1 0 7.6 0a3.8 3.8 0 1 0 -7.6 0M206.3 634.1a3.8 3.8 0 1 0 7.6 0a3.8 3.8 0 1 0 -7.6 0M207.3 633.9a3.8 3.8 0 1 0 7.6 0a3.8 3.8 0 1 0 -7.6 0M208.3 633.7a3.8 3.8 0 1 0 7.6 0a3.8 3.8 0 1 0 -7.6 0M209.3 633.5a3.8 3.8 0 1 0 7.6 0a3.8 3.8 0 1 0 -7.6 0M210.3 633.3a3.8 3.8 0 1 0 7.6 0a3.8 3.8 0 1 0 -7.6 0M211.3 633.1a3.8 3.8 0 1 0 7.6 0a3.8 3.8 0 1 0 -7.6 0M212.3 632.9a3.8 3.8 0 1 0 7.6 0a3.8 3.8 0 1 0 -7.6 0M213.3 632.7a3.8 3.8 0 1 0 7.6 0a3.8 3.8 0 1 0 -7.6 0M214.3 632.5a3.8 3.8 0 1 0 7.6 0a3.8 3.8 0 1 0 -7.6 0M215.3 632.3a3.8 3.8 0 1 0 7.6 0a3.8 3.8 0 1 0 -7.6 0M216.3 632.1a3.8 3.8 0 1 0 7.6 0a3.8 3.8 0 1 0 -7.6 0M217.3 631.9a3.8 3.8 0 1 0 7.6 0a3.8 3.8 0 1 0 -7.6 0M218.3 631.7a3.8 3.8 0 1 0 7.6 0a3.8 3.8 0 1 0 -7.6 0M219.3 631.5a3.8 3.8 0 1 0 7.6 0a3.8 3.8 0 1 0 -7.6 0M220.3 631.8a3.8 3.8 0 1 0 7.6 0a3.8 3.8 0 1 0 -7.6 0M221.3 632.0a3.8 3.8 0 1 0 7.6 0a3.8 3.8 0 1 0 -7.6 0M222.3 632.3a3.8 3.8 0 1 0 7.6 0a3.8 3.8 0 1 0 -7.6 0M223.3 632.5a3.8 3.8 0 1 0 7.6 0a3.8 3.8 0 1 0 -7.6 0M224.3 632.8a3.8 3.8 0 1 0 7.6 0a3.8 3.8 0 1 0 -7.6 0M225.3 632.0a3.8 3.8 0 1 0 7.6 0a3.8 3.8 0 1 0 -7.6 0M226.3 631.2a3.8 3.8 0 1 0 7.6 0a3.8 3.8 0 1 0 -7.6 0M227.3 630.5a3.8 3.8 0 1 0 7.6 0a3.8 3.8 0 1 0 -7.6 0M228.3 629.7a3.8 3.8 0 1 0 7.6 0a3.8 3.8 0 1 0 -7.6 0M229.3 628.9a3.8 3.8 0 1 0 7.6 0a3.8 3.8 0 1 0 -7.6 0M230.3 628.1a3.8 3.8 0 1 0 7.6 0a3.8 3.8 0 1 0 -7.6 0M231.3 627.4a3.8 3.8 0 1 0 7.6 0a3.8 3.8 0 1 0 -7.6 0M232.3 627.2a3.8 3.8 0 1 0 7.6 0a3.8 3.8 0 1 0 -7.6 0M233.3 627.9a3.8 3.8 0 1 0 7.6 0a3.8 3.8 0 1 0 -7.6 0M234.3 628.6a3.8 3.8 0 1 0 7.6 0a3.8 3.8 0 1 0 -7.6 0M235.3 629.3a3.8 3.8 0 1 0 7.6 0a3.8 3.8 0 1 0 -7.6 0M236.3 630.1a3.8 3.8 0 1 0 7.6 0a3.8 3.8 0 1 0 -7.6 0M237.3 630.8a3.8 3.8 0 1 0 7.6 0a3.8 3.8 0 1 0 -7.6 0M238.3 631.5a3.8 3.8 0 1 0 7.6 0a3.8 3.8 0 1 0 -7.6 0M239.3 631.1a3.8 3.8 0 1 0 7.6 0a3.8 3.8 0 1 0 -7.6 0M240.3 630.7a3.8 3.8 0 1 0 7.6 0a3.8 3.8 0 1 0 -7.6 0M241.3 630.2a3.8 3.8 0 1 0 7.6 0a3.8 3.8 0 1 0 -7.6 0M242.3 629.8a3.8 3.8 0 1 0 7.6 0a3.8 3.8 0 1 0 -7.6 0M243.3 629.4a3.8 3.8 0 1 0 7.6 0a3.8 3.8 0 1 0 -7.6 0M244.3 629.0a3.8 3.8 0 1 0 7.6 0a3.8 3.8 0 1 0 -7.6 0M245.3 628.5a3.8 3.8 0 1 0 7.6 0a3.8 3.8 0 1 0 -7.6 0M246.3 628.1a3.8 3.8 0 1 0 7.6 0a3.8 3.8 0 1 0 -7.6 0M247.3 627.7a3.8 3.8 0 1 0 7.6 0a3.8 3.8 0 1 0 -7.6 0M248.3 627.9a3.8 3.8 0 1 0 7.6 0a3.8 3.8 0 1 0 -7.6 0M249.3 628.1a3.8 3.8 0 1 0 7.6 0a3.8 3.8 0 1 0 -7.6 0M250.3 628.3a3.8 3.8 0 1 0 7.6 0a3.8 3.8 0 1 0 -7.6 0M251.3 628.5a3.8 3.8 0 1 0 7.6 0a3.8 3.8 0 1 0 -7.6 0M252.3 628.7a3.8 3.8 0 1 0 7.6 0a3.8 3.8 0 1 0 -7.6 0M253.3 628.9a3.8 3.8 0 1 0 7.6 0a3.8 3.8 0 1 0 -7.6 0M254.3 628.7a3.8 3.8 0 1 0 7.6 0a3.8 3.8 0 1 0 -7.6 0M255.3 628.1a3.8 3.8 0 1 0 7.6 0a3.8 3.8 0 1 0 -7.6 0M256.3 627.4a3.8 3.8 0 1 0 7.6 0a3.8 3.8 0 1 0 -7.6 0M257.3 626.8a3.8 3.8 0 1 0 7.6 0a3.8 3.8 0 1 0 -7.6 0M258.3 626.2a3.8 3.8 0 1 0 7.6 0a3.8 3.8 0 1 0 -7.6 0M259.3 625.5a3.8 3.8 0 1 0 7.6 0a3.8 3.8 0 1 0 -7.6 0M260.3 624.9a3.8 3.8 0 1 0 7.6 0a3.8 3.8 0 1 0 -7.6 0M261.3 624.3a3.8 3.8 0 1 0 7.6 0a3.8 3.8 0 1 0 -7.6 0M262.3 624.4a3.8 3.8 0 1 0 7.6 0a3.8 3.8 0 1 0 -7.6 0M263.3 624.7a3.8 3.8 0 1 0 7.6 0a3.8 3.8 0 1 0 -7.6 0M264.3 624.9a3.8 3.8 0 1 0 7.6 0a3.8 3.8 0 1 0 -7.6 0M265.3 625.2a3.8 3.8 0 1 0 7.6 0a3.8 3.8 0 1 0 -7.6 0M266.3 625.4a3.8 3.8 0 1 0 7.6 0a3.8 3.8 0 1 0 -7.6 0M267.3 625.7a3.8 3.8 0 1 0 7.6 0a3.8 3.8 0 1 0 -7.6 0M268.3 625.9a3.8 3.8 0 1 0 7.6 0a3.8 3.8 0 1 0 -7.6 0M269.3 626.0a3.8 3.8 0 1 0 7.6 0a3.8 3.8 0 1 0 -7.6 0M270.3 625.8a3.8 3.8 0 1 0 7.6 0a3.8 3.8 0 1 0 -7.6 0M271.3 625.5a3.8 3.8 0 1 0 7.6 0a3.8 3.8 0 1 0 -7.6 0M272.3 625.3a3.8 3.8 0 1 0 7.6 0a3.8 3.8 0 1 0 -7.6 0M273.3 625.0a3.8 3.8 0 1 0 7.6 0a3.8 3.8 0 1 0 -7.6 0M274.3 624.8a3.8 3.8 0 1 0 7.6 0a3.8 3.8 0 1 0 -7.6 0M275.3 624.5a3.8 3.8 0 1 0 7.6 0a3.8 3.8 0 1 0 -7.6 0M276.3 624.3a3.8 3.8 0 1 0 7.6 0a3.8 3.8 0 1 0 -7.6 0M277.3 623.5a3.8 3.8 0 1 0 7.6 0a3.8 3.8 0 1 0 -7.6 0M278.3 622.5a3.8 3.8 0 1 0 7.6 0a3.8 3.8 0 1 0 -7.6 0M279.3 621.5a3.8 3.8 0 1 0 7.6 0a3.8 3.8 0 1 0 -7.6 0M280.3 620.5a3.8 3.8 0 1 0 7.6 0a3.8 3.8 0 1 0 -7.6 0M281.3 619.5a3.8 3.8 0 1 0 7.6 0a3.8 3.8 0 1 0 -7.6 0M282.3 618.5a3.8 3.8 0 1 0 7.6 0a3.8 3.8 0 1 0 -7.6 0M283.3 617.5a3.8 3.8 0 1 0 7.6 0a3.8 3.8 0 1 0 -7.6 0M284.3 616.6a3.8 3.8 0 1 0 7.6 0a3.8 3.8 0 1 0 -7.6 0M285.3 616.6a3.8 3.8 0 1 0 7.6 0a3.8 3.8 0 1 0 -7.6 0M286.3 616.6a3.8 3.8 0 1 0 7.6 0a3.8 3.8 0 1 0 -7.6 0M287.3 616.6a3.8 3.8 0 1 0 7.6 0a3.8 3.8 0 1 0 -7.6 0M288.3 616.6a3.8 3.8 0 1 0 7.6 0a3.8 3.8 0 1 0 -7.6 0M289.3 616.6a3.8 3.8 0 1 0 7.6 0a3.8 3.8 0 1 0 -7.6 0M290.3 616.6a3.8 3.8 0 1 0 7.6 0a3.8 3.8 0 1 0 -7.6 0M291.3 616.6a3.8 3.8 0 1 0 7.6 0a3.8 3.8 0 1 0 -7.6 0M292.3 616.3a3.8 3.8 0 1 0 7.6 0a3.8 3.8 0 1 0 -7.6 0M293.3 615.8a3.8 3.8 0 1 0 7.6 0a3.8 3.8 0 1 0 -7.6 0M294.3 615.3a3.8 3.8 0 1 0 7.6 0a3.8 3.8 0 1 0 -7.6 0M295.3 614.8a3.8 3.8 0 1 0 7.6 0a3.8 3.8 0 1 0 -7.6 0M296.3 614.4a3.8 3.8 0 1 0 7.6 0a3.8 3.8 0 1 0 -7.6 0M297.3 613.9a3.8 3.8 0 1 0 7.6 0a3.8 3.8 0 1 0 -7.6 0M298.3 613.4a3.8 3.8 0 1 0 7.6 0a3.8 3.8 0 1 0 -7.6 0M299.3 612.9a3.8 3.8 0 1 0 7.6 0a3.8 3.8 0 1 0 -7.6 0M300.3 611.2a3.8 3.8 0 1 0 7.6 0a3.8 3.8 0 1 0 -7.6 0M301.3 609.6a3.8 3.8 0 1 0 7.6 0a3.8 3.8 0 1 0 -7.6 0M302.3 607.9a3.8 3.8 0 1 0 7.6 0a3.8 3.8 0 1 0 -7.6 0M303.3 606.2a3.8 3.8 0 1 0 7.6 0a3.8 3.8 0 1 0 -7.6 0M304.3 604.6a3.8 3.8 0 1 0 7.6 0a3.8 3.8 0 1 0 -7.6 0M305.3 603.1a3.8 3.8 0 1 0 7.6 0a3.8 3.8 0 1 0 -7.6 0M306.3 602.1a3.8 3.8 0 1 0 7.6 0a3.8 3.8 0 1 0 -7.6 0M307.3 601.1a3.8 3.8 0 1 0 7.6 0a3.8 3.8 0 1 0 -7.6 0M308.3 600.1a3.8 3.8 0 1 0 7.6 0a3.8 3.8 0 1 0 -7.6 0M309.3 599.1a3.8 3.8 0 1 0 7.6 0a3.8 3.8 0 1 0 -7.6 0M310.3 598.1a3.8 3.8 0 1 0 7.6 0a3.8 3.8 0 1 0 -7.6 0M311.3 597.5a3.8 3.8 0 1 0 7.6 0a3.8 3.8 0 1 0 -7.6 0M312.3 597.2a3.8 3.8 0 1 0 7.6 0a3.8 3.8 0 1 0 -7.6 0M313.3 596.8a3.8 3.8 0 1 0 7.6 0a3.8 3.8 0 1 0 -7.6 0M314.3 596.5a3.8 3.8 0 1 0 7.6 0a3.8 3.8 0 1 0 -7.6 0M315.3 596.2a3.8 3.8 0 1 0 7.6 0a3.8 3.8 0 1 0 -7.6 0M316.3 595.8a3.8 3.8 0 1 0 7.6 0a3.8 3.8 0 1 0 -7.6 0M317.3 593.5a3.8 3.8 0 1 0 7.6 0a3.8 3.8 0 1 0 -7.6 0M318.3 591.0a3.8 3.8 0 1 0 7.6 0a3.8 3.8 0 1 0 -7.6 0M319.3 588.5a3.8 3.8 0 1 0 7.6 0a3.8 3.8 0 1 0 -7.6 0M320.3 586.1a3.8 3.8 0 1 0 7.6 0a3.8 3.8 0 1 0 -7.6 0M321.3 584.5a3.8 3.8 0 1 0 7.6 0a3.8 3.8 0 1 0 -7.6 0M322.3 582.8a3.8 3.8 0 1 0 7.6 0a3.8 3.8 0 1 0 -7.6 0M323.3 581.1a3.8 3.8 0 1 0 7.6 0a3.8 3.8 0 1 0 -7.6 0M324.3 579.5a3.8 3.8 0 1 0 7.6 0a3.8 3.8 0 1 0 -7.6 0M325.3 577.8a3.8 3.8 0 1 0 7.6 0a3.8 3.8 0 1 0 -7.6 0M326.3 576.1a3.8 3.8 0 1 0 7.6 0a3.8 3.8 0 1 0 -7.6 0M327.3 574.5a3.8 3.8 0 1 0 7.6 0a3.8 3.8 0 1 0 -7.6 0M328.3 572.8a3.8 3.8 0 1 0 7.6 0a3.8 3.8 0 1 0 -7.6 0M329.3 571.1a3.8 3.8 0 1 0 7.6 0a3.8 3.8 0 1 0 -7.6 0M330.3 569.5a3.8 3.8 0 1 0 7.6 0a3.8 3.8 0 1 0 -7.6 0M331.3 567.8a3.8 3.8 0 1 0 7.6 0a3.8 3.8 0 1 0 -7.6 0M332.3 565.9a3.8 3.8 0 1 0 7.6 0a3.8 3.8 0 1 0 -7.6 0M333.3 563.9a3.8 3.8 0 1 0 7.6 0a3.8 3.8 0 1 0 -7.6 0M334.3 561.8a3.8 3.8 0 1 0 7.6 0a3.8 3.8 0 1 0 -7.6 0M335.3 559.8a3.8 3.8 0 1 0 7.6 0a3.8 3.8 0 1 0 -7.6 0M336.3 557.8a3.8 3.8 0 1 0 7.6 0a3.8 3.8 0 1 0 -7.6 0M337.3 555.6a3.8 3.8 0 1 0 7.6 0a3.8 3.8 0 1 0 -7.6 0M338.3 553.3a3.8 3.8 0 1 0 7.6 0a3.8 3.8 0 1 0 -7.6 0M339.3 551.1a3.8 3.8 0 1 0 7.6 0a3.8 3.8 0 1 0 -7.6 0M340.3 548.7a3.8 3.8 0 1 0 7.6 0a3.8 3.8 0 1 0 -7.6 0M341.3 545.7a3.8 3.8 0 1 0 7.6 0a3.8 3.8 0 1 0 -7.6 0M342.3 542.8a3.8 3.8 0 1 0 7.6 0a3.8 3.8 0 1 0 -7.6 0M343.3 539.2a3.8 3.8 0 1 0 7.6 0a3.8 3.8 0 1 0 -7.6 0M344.3 534.2a3.8 3.8 0 1 0 7.6 0a3.8 3.8 0 1 0 -7.6 0M345.3 530.3a3.8 3.8 0 1 0 7.6 0a3.8 3.8 0 1 0 -7.6 0M346.3 527.9a3.8 3.8 0 1 0 7.6 0a3.8 3.8 0 1 0 -7.6 0M347.3 525.5a3.8 3.8 0 1 0 7.6 0a3.8 3.8 0 1 0 -7.6 0M348.3 525.1a3.8 3.8 0 1 0 7.6 0a3.8 3.8 0 1 0 -7.6 0M349.3 525.9a3.8 3.8 0 1 0 7.6 0a3.8 3.8 0 1 0 -7.6 0M350.3 526.7a3.8 3.8 0 1 0 7.6 0a3.8 3.8 0 1 0 -7.6 0M351.3 527.5a3.8 3.8 0 1 0 7.6 0a3.8 3.8 0 1 0 -7.6 0M352.3 528.2a3.8 3.8 0 1 0 7.6 0a3.8 3.8 0 1 0 -7.6 0M353.3 528.0a3.8 3.8 0 1 0 7.6 0a3.8 3.8 0 1 0 -7.6 0M354.3 527.5a3.8 3.8 0 1 0 7.6 0a3.8 3.8 0 1 0 -7.6 0M355.3 527.0a3.8 3.8 0 1 0 7.6 0a3.8 3.8 0 1 0 -7.6 0M356.3 526.5a3.8 3.8 0 1 0 7.6 0a3.8 3.8 0 1 0 -7.6 0M357.3 526.0a3.8 3.8 0 1 0 7.6 0a3.8 3.8 0 1 0 -7.6 0M358.3 525.5a3.8 3.8 0 1 0 7.6 0a3.8 3.8 0 1 0 -7.6 0M359.3 525.2a3.8 3.8 0 1 0 7.6 0a3.8 3.8 0 1 0 -7.6 0M360.3 525.0a3.8 3.8 0 1 0 7.6 0a3.8 3.8 0 1 0 -7.6 0M361.3 524.7a3.8 3.8 0 1 0 7.6 0a3.8 3.8 0 1 0 -7.6 0M362.3 523.8a3.8 3.8 0 1 0 7.6 0a3.8 3.8 0 1 0 -7.6 0M363.3 521.7a3.8 3.8 0 1 0 7.6 0a3.8 3.8 0 1 0 -7.6 0M364.3 519.7a3.8 3.8 0 1 0 7.6 0a3.8 3.8 0 1 0 -7.6 0M365.3 516.8a3.8 3.8 0 1 0 7.6 0a3.8 3.8 0 1 0 -7.6 0M366.3 513.3a3.8 3.8 0 1 0 7.6 0a3.8 3.8 0 1 0 -7.6 0M367.3 507.0a3.8 3.8 0 1 0 7.6 0a3.8 3.8 0 1 0 -7.6 0M368.3 500.3a3.8 3.8 0 1 0 7.6 0a3.8 3.8 0 1 0 -7.6 0M369.3 496.6a3.8 3.8 0 1 0 7.6 0a3.8 3.8 0 1 0 -7.6 0M370.3 493.6a3.8 3.8 0 1 0 7.6 0a3.8 3.8 0 1 0 -7.6 0M371.3 495.1a3.8 3.8 0 1 0 7.6 0a3.8 3.8 0 1 0 -7.6 0M372.3 497.0a3.8 3.8 0 1 0 7.6 0a3.8 3.8 0 1 0 -7.6 0M373.3 499.0a3.8 3.8 0 1 0 7.6 0a3.8 3.8 0 1 0 -7.6 0M374.3 502.7a3.8 3.8 0 1 0 7.6 0a3.8 3.8 0 1 0 -7.6 0M375.3 506.4a3.8 3.8 0 1 0 7.6 0a3.8 3.8 0 1 0 -7.6 0M376.3 510.0a3.8 3.8 0 1 0 7.6 0a3.8 3.8 0 1 0 -7.6 0M377.3 513.0a3.8 3.8 0 1 0 7.6 0a3.8 3.8 0 1 0 -7.6 0M378.3 515.9a3.8 3.8 0 1 0 7.6 0a3.8 3.8 0 1 0 -7.6 0M379.3 518.8a3.8 3.8 0 1 0 7.6 0a3.8 3.8 0 1 0 -7.6 0M380.3 521.5a3.8 3.8 0 1 0 7.6 0a3.8 3.8 0 1 0 -7.6 0M381.3 524.2a3.8 3.8 0 1 0 7.6 0a3.8 3.8 0 1 0 -7.6 0M382.3 526.8a3.8 3.8 0 1 0 7.6 0a3.8 3.8 0 1 0 -7.6 0M383.3 529.4a3.8 3.8 0 1 0 7.6 0a3.8 3.8 0 1 0 -7.6 0M384.3 532.1a3.8 3.8 0 1 0 7.6 0a3.8 3.8 0 1 0 -7.6 0M385.3 532.3a3.8 3.8 0 1 0 7.6 0a3.8 3.8 0 1 0 -7.6 0M386.3 530.9a3.8 3.8 0 1 0 7.6 0a3.8 3.8 0 1 0 -7.6 0M387.3 529.6a3.8 3.8 0 1 0 7.6 0a3.8 3.8 0 1 0 -7.6 0M388.3 526.1a3.8 3.8 0 1 0 7.6 0a3.8 3.8 0 1 0 -7.6 0M389.3 522.2a3.8 3.8 0 1 0 7.6 0a3.8 3.8 0 1 0 -7.6 0M390.3 518.6a3.8 3.8 0 1 0 7.6 0a3.8 3.8 0 1 0 -7.6 0M391.3 515.1a3.8 3.8 0 1 0 7.6 0a3.8 3.8 0 1 0 -7.6 0M392.3 517.4a3.8 3.8 0 1 0 7.6 0a3.8 3.8 0 1 0 -7.6 0M393.3 519.7a3.8 3.8 0 1 0 7.6 0a3.8 3.8 0 1 0 -7.6 0M394.3 522.6a3.8 3.8 0 1 0 7.6 0a3.8 3.8 0 1 0 -7.6 0M395.3 530.8a3.8 3.8 0 1 0 7.6 0a3.8 3.8 0 1 0 -7.6 0M396.3 538.8a3.8 3.8 0 1 0 7.6 0a3.8 3.8 0 1 0 -7.6 0M397.3 548.4a3.8 3.8 0 1 0 7.6 0a3.8 3.8 0 1 0 -7.6 0M398.3 557.5a3.8 3.8 0 1 0 7.6 0a3.8 3.8 0 1 0 -7.6 0M399.3 566.0a3.8 3.8 0 1 0 7.6 0a3.8 3.8 0 1 0 -7.6 0M400.3 573.2a3.8 3.8 0 1 0 7.6 0a3.8 3.8 0 1 0 -7.6 0M401.3 578.5a3.8 3.8 0 1 0 7.6 0a3.8 3.8 0 1 0 -7.6 0M402.3 579.4a3.8 3.8 0 1 0 7.6 0a3.8 3.8 0 1 0 -7.6 0M403.3 577.4a3.8 3.8 0 1 0 7.6 0a3.8 3.8 0 1 0 -7.6 0M404.3 575.4a3.8 3.8 0 1 0 7.6 0a3.8 3.8 0 1 0 -7.6 0M405.3 573.4a3.8 3.8 0 1 0 7.6 0a3.8 3.8 0 1 0 -7.6 0M406.3 571.4a3.8 3.8 0 1 0 7.6 0a3.8 3.8 0 1 0 -7.6 0M407.3 569.4a3.8 3.8 0 1 0 7.6 0a3.8 3.8 0 1 0 -7.6 0M408.3 567.4a3.8 3.8 0 1 0 7.6 0a3.8 3.8 0 1 0 -7.6 0M409.3 565.4a3.8 3.8 0 1 0 7.6 0a3.8 3.8 0 1 0 -7.6 0M410.3 564.1a3.8 3.8 0 1 0 7.6 0a3.8 3.8 0 1 0 -7.6 0M411.3 562.8a3.8 3.8 0 1 0 7.6 0a3.8 3.8 0 1 0 -7.6 0M412.3 561.8a3.8 3.8 0 1 0 7.6 0a3.8 3.8 0 1 0 -7.6 0M413.3 563.8a3.8 3.8 0 1 0 7.6 0a3.8 3.8 0 1 0 -7.6 0M414.3 565.9a3.8 3.8 0 1 0 7.6 0a3.8 3.8 0 1 0 -7.6 0M415.3 569.1a3.8 3.8 0 1 0 7.6 0a3.8 3.8 0 1 0 -7.6 0M416.3 575.1a3.8 3.8 0 1 0 7.6 0a3.8 3.8 0 1 0 -7.6 0M417.3 580.7a3.8 3.8 0 1 0 7.6 0a3.8 3.8 0 1 0 -7.6 0M418.3 585.7a3.8 3.8 0 1 0 7.6 0a3.8 3.8 0 1 0 -7.6 0M419.3 588.9a3.8 3.8 0 1 0 7.6 0a3.8 3.8 0 1 0 -7.6 0M420.3 590.2a3.8 3.8 0 1 0 7.6 0a3.8 3.8 0 1 0 -7.6 0M421.3 591.5a3.8 3.8 0 1 0 7.6 0a3.8 3.8 0 1 0 -7.6 0M422.3 591.5a3.8 3.8 0 1 0 7.6 0a3.8 3.8 0 1 0 -7.6 0M423.3 590.7a3.8 3.8 0 1 0 7.6 0a3.8 3.8 0 1 0 -7.6 0M424.3 589.9a3.8 3.8 0 1 0 7.6 0a3.8 3.8 0 1 0 -7.6 0M425.3 589.1a3.8 3.8 0 1 0 7.6 0a3.8 3.8 0 1 0 -7.6 0M426.3 588.3a3.8 3.8 0 1 0 7.6 0a3.8 3.8 0 1 0 -7.6 0M427.3 587.4a3.8 3.8 0 1 0 7.6 0a3.8 3.8 0 1 0 -7.6 0M428.3 586.6a3.8 3.8 0 1 0 7.6 0a3.8 3.8 0 1 0 -7.6 0M429.3 585.8a3.8 3.8 0 1 0 7.6 0a3.8 3.8 0 1 0 -7.6 0M430.3 584.9a3.8 3.8 0 1 0 7.6 0a3.8 3.8 0 1 0 -7.6 0M431.3 584.1a3.8 3.8 0 1 0 7.6 0a3.8 3.8 0 1 0 -7.6 0M432.3 583.5a3.8 3.8 0 1 0 7.6 0a3.8 3.8 0 1 0 -7.6 0M433.3 584.1a3.8 3.8 0 1 0 7.6 0a3.8 3.8 0 1 0 -7.6 0M434.3 584.7a3.8 3.8 0 1 0 7.6 0a3.8 3.8 0 1 0 -7.6 0M435.3 585.3a3.8 3.8 0 1 0 7.6 0a3.8 3.8 0 1 0 -7.6 0M436.3 585.9a3.8 3.8 0 1 0 7.6 0a3.8 3.8 0 1 0 -7.6 0M437.3 587.4a3.8 3.8 0 1 0 7.6 0a3.8 3.8 0 1 0 -7.6 0M438.3 590.1a3.8 3.8 0 1 0 7.6 0a3.8 3.8 0 1 0 -7.6 0M439.3 592.8a3.8 3.8 0 1 0 7.6 0a3.8 3.8 0 1 0 -7.6 0M440.3 595.1a3.8 3.8 0 1 0 7.6 0a3.8 3.8 0 1 0 -7.6 0M441.3 597.1a3.8 3.8 0 1 0 7.6 0a3.8 3.8 0 1 0 -7.6 0M442.3 599.1a3.8 3.8 0 1 0 7.6 0a3.8 3.8 0 1 0 -7.6 0M443.3 601.1a3.8 3.8 0 1 0 7.6 0a3.8 3.8 0 1 0 -7.6 0M444.3 601.7a3.8 3.8 0 1 0 7.6 0a3.8 3.8 0 1 0 -7.6 0M445.3 602.0a3.8 3.8 0 1 0 7.6 0a3.8 3.8 0 1 0 -7.6 0M446.3 602.2a3.8 3.8 0 1 0 7.6 0a3.8 3.8 0 1 0 -7.6 0M447.3 602.5a3.8 3.8 0 1 0 7.6 0a3.8 3.8 0 1 0 -7.6 0M448.3 602.7a3.8 3.8 0 1 0 7.6 0a3.8 3.8 0 1 0 -7.6 0M449.3 603.0a3.8 3.8 0 1 0 7.6 0a3.8 3.8 0 1 0 -7.6 0M450.3 603.2a3.8 3.8 0 1 0 7.6 0a3.8 3.8 0 1 0 -7.6 0M451.3 603.4a3.8 3.8 0 1 0 7.6 0a3.8 3.8 0 1 0 -7.6 0M452.3 603.5a3.8 3.8 0 1 0 7.6 0a3.8 3.8 0 1 0 -7.6 0M453.3 603.7a3.8 3.8 0 1 0 7.6 0a3.8 3.8 0 1 0 -7.6 0M454.3 603.8a3.8 3.8 0 1 0 7.6 0a3.8 3.8 0 1 0 -7.6 0M455.3 603.9a3.8 3.8 0 1 0 7.6 0a3.8 3.8 0 1 0 -7.6 0M456.3 604.0a3.8 3.8 0 1 0 7.6 0a3.8 3.8 0 1 0 -7.6 0M457.3 604.1a3.8 3.8 0 1 0 7.6 0a3.8 3.8 0 1 0 -7.6 0M458.3 604.3a3.8 3.8 0 1 0 7.6 0a3.8 3.8 0 1 0 -7.6 0M459.3 604.8a3.8 3.8 0 1 0 7.6 0a3.8 3.8 0 1 0 -7.6 0M460.3 605.6a3.8 3.8 0 1 0 7.6 0a3.8 3.8 0 1 0 -7.6 0M461.3 606.5a3.8 3.8 0 1 0 7.6 0a3.8 3.8 0 1 0 -7.6 0M462.3 607.3a3.8 3.8 0 1 0 7.6 0a3.8 3.8 0 1 0 -7.6 0M463.3 608.2a3.8 3.8 0 1 0 7.6 0a3.8 3.8 0 1 0 -7.6 0M464.3 609.0a3.8 3.8 0 1 0 7.6 0a3.8 3.8 0 1 0 -7.6 0M465.3 609.3a3.8 3.8 0 1 0 7.6 0a3.8 3.8 0 1 0 -7.6 0M466.3 609.5a3.8 3.8 0 1 0 7.6 0a3.8 3.8 0 1 0 -7.6 0M467.3 609.7a3.8 3.8 0 1 0 7.6 0a3.8 3.8 0 1 0 -7.6 0M468.3 609.9a3.8 3.8 0 1 0 7.6 0a3.8 3.8 0 1 0 -7.6 0M469.3 610.1a3.8 3.8 0 1 0 7.6 0a3.8 3.8 0 1 0 -7.6 0M470.3 610.3a3.8 3.8 0 1 0 7.6 0a3.8 3.8 0 1 0 -7.6 0M471.3 610.5a3.8 3.8 0 1 0 7.6 0a3.8 3.8 0 1 0 -7.6 0M472.3 610.7a3.8 3.8 0 1 0 7.6 0a3.8 3.8 0 1 0 -7.6 0M473.3 610.9a3.8 3.8 0 1 0 7.6 0a3.8 3.8 0 1 0 -7.6 0M474.3 611.1a3.8 3.8 0 1 0 7.6 0a3.8 3.8 0 1 0 -7.6 0M475.3 611.5a3.8 3.8 0 1 0 7.6 0a3.8 3.8 0 1 0 -7.6 0M476.3 611.9a3.8 3.8 0 1 0 7.6 0a3.8 3.8 0 1 0 -7.6 0M477.3 612.3a3.8 3.8 0 1 0 7.6 0a3.8 3.8 0 1 0 -7.6 0M478.3 612.6a3.8 3.8 0 1 0 7.6 0a3.8 3.8 0 1 0 -7.6 0M479.3 613.0a3.8 3.8 0 1 0 7.6 0a3.8 3.8 0 1 0 -7.6 0M480.3 613.4a3.8 3.8 0 1 0 7.6 0a3.8 3.8 0 1 0 -7.6 0M481.3 613.7a3.8 3.8 0 1 0 7.6 0a3.8 3.8 0 1 0 -7.6 0M482.3 614.4a3.8 3.8 0 1 0 7.6 0a3.8 3.8 0 1 0 -7.6 0M483.3 615.2a3.8 3.8 0 1 0 7.6 0a3.8 3.8 0 1 0 -7.6 0M484.3 616.0a3.8 3.8 0 1 0 7.6 0a3.8 3.8 0 1 0 -7.6 0M485.3 616.8a3.8 3.8 0 1 0 7.6 0a3.8 3.8 0 1 0 -7.6 0M486.3 617.6a3.8 3.8 0 1 0 7.6 0a3.8 3.8 0 1 0 -7.6 0M487.3 618.3a3.8 3.8 0 1 0 7.6 0a3.8 3.8 0 1 0 -7.6 0M488.3 619.1a3.8 3.8 0 1 0 7.6 0a3.8 3.8 0 1 0 -7.6 0M489.3 619.7a3.8 3.8 0 1 0 7.6 0a3.8 3.8 0 1 0 -7.6 0M490.3 620.3a3.8 3.8 0 1 0 7.6 0a3.8 3.8 0 1 0 -7.6 0M491.3 620.9a3.8 3.8 0 1 0 7.6 0a3.8 3.8 0 1 0 -7.6 0M492.3 621.5a3.8 3.8 0 1 0 7.6 0a3.8 3.8 0 1 0 -7.6 0M493.3 622.1a3.8 3.8 0 1 0 7.6 0a3.8 3.8 0 1 0 -7.6 0M494.3 622.7a3.8 3.8 0 1 0 7.6 0a3.8 3.8 0 1 0 -7.6 0M495.3 623.2a3.8 3.8 0 1 0 7.6 0a3.8 3.8 0 1 0 -7.6 0M496.3 623.0a3.8 3.8 0 1 0 7.6 0a3.8 3.8 0 1 0 -7.6 0M497.3 622.8a3.8 3.8 0 1 0 7.6 0a3.8 3.8 0 1 0 -7.6 0M498.3 622.6a3.8 3.8 0 1 0 7.6 0a3.8 3.8 0 1 0 -7.6 0M499.3 622.4a3.8 3.8 0 1 0 7.6 0a3.8 3.8 0 1 0 -7.6 0M500.3 622.2a3.8 3.8 0 1 0 7.6 0a3.8 3.8 0 1 0 -7.6 0M501.3 622.0a3.8 3.8 0 1 0 7.6 0a3.8 3.8 0 1 0 -7.6 0M502.3 622.1a3.8 3.8 0 1 0 7.6 0a3.8 3.8 0 1 0 -7.6 0M503.3 622.5a3.8 3.8 0 1 0 7.6 0a3.8 3.8 0 1 0 -7.6 0M504.3 622.9a3.8 3.8 0 1 0 7.6 0a3.8 3.8 0 1 0 -7.6 0M505.3 623.3a3.8 3.8 0 1 0 7.6 0a3.8 3.8 0 1 0 -7.6 0M506.3 623.8a3.8 3.8 0 1 0 7.6 0a3.8 3.8 0 1 0 -7.6 0M507.3 624.2a3.8 3.8 0 1 0 7.6 0a3.8 3.8 0 1 0 -7.6 0M508.3 624.6a3.8 3.8 0 1 0 7.6 0a3.8 3.8 0 1 0 -7.6 0M509.3 625.0a3.8 3.8 0 1 0 7.6 0a3.8 3.8 0 1 0 -7.6 0M510.3 625.5a3.8 3.8 0 1 0 7.6 0a3.8 3.8 0 1 0 -7.6 0M511.3 625.9a3.8 3.8 0 1 0 7.6 0a3.8 3.8 0 1 0 -7.6 0M512.3 625.9a3.8 3.8 0 1 0 7.6 0a3.8 3.8 0 1 0 -7.6 0M513.3 625.9a3.8 3.8 0 1 0 7.6 0a3.8 3.8 0 1 0 -7.6 0M514.3 625.9a3.8 3.8 0 1 0 7.6 0a3.8 3.8 0 1 0 -7.6 0M515.3 625.9a3.8 3.8 0 1 0 7.6 0a3.8 3.8 0 1 0 -7.6 0M516.3 625.9a3.8 3.8 0 1 0 7.6 0a3.8 3.8 0 1 0 -7.6 0M517.3 625.9a3.8 3.8 0 1 0 7.6 0a3.8 3.8 0 1 0 -7.6 0M518.3 625.9a3.8 3.8 0 1 0 7.6 0a3.8 3.8 0 1 0 -7.6 0M519.3 625.9a3.8 3.8 0 1 0 7.6 0a3.8 3.8 0 1 0 -7.6 0M520.3 626.1a3.8 3.8 0 1 0 7.6 0a3.8 3.8 0 1 0 -7.6 0M521.3 626.4a3.8 3.8 0 1 0 7.6 0a3.8 3.8 0 1 0 -7.6 0M522.3 626.6a3.8 3.8 0 1 0 7.6 0a3.8 3.8 0 1 0 -7.6 0M523.3 626.9a3.8 3.8 0 1 0 7.6 0a3.8 3.8 0 1 0 -7.6 0M524.3 627.1a3.8 3.8 0 1 0 7.6 0a3.8 3.8 0 1 0 -7.6 0M525.3 627.4a3.8 3.8 0 1 0 7.6 0a3.8 3.8 0 1 0 -7.6 0M526.3 627.6a3.8 3.8 0 1 0 7.6 0a3.8 3.8 0 1 0 -7.6 0M527.3 627.9a3.8 3.8 0 1 0 7.6 0a3.8 3.8 0 1 0 -7.6 0M528.3 628.1a3.8 3.8 0 1 0 7.6 0a3.8 3.8 0 1 0 -7.6 0M529.3 628.4a3.8 3.8 0 1 0 7.6 0a3.8 3.8 0 1 0 -7.6 0M530.3 628.6a3.8 3.8 0 1 0 7.6 0a3.8 3.8 0 1 0 -7.6 0M531.3 628.5a3.8 3.8 0 1 0 7.6 0a3.8 3.8 0 1 0 -7.6 0M532.3 628.3a3.8 3.8 0 1 0 7.6 0a3.8 3.8 0 1 0 -7.6 0M533.3 628.2a3.8 3.8 0 1 0 7.6 0a3.8 3.8 0 1 0 -7.6 0M534.3 628.1a3.8 3.8 0 1 0 7.6 0a3.8 3.8 0 1 0 -7.6 0M535.3 628.0a3.8 3.8 0 1 0 7.6 0a3.8 3.8 0 1 0 -7.6 0M536.3 627.9a3.8 3.8 0 1 0 7.6 0a3.8 3.8 0 1 0 -7.6 0M537.3 627.7a3.8 3.8 0 1 0 7.6 0a3.8 3.8 0 1 0 -7.6 0M538.3 627.6a3.8 3.8 0 1 0 7.6 0a3.8 3.8 0 1 0 -7.6 0M539.3 627.5a3.8 3.8 0 1 0 7.6 0a3.8 3.8 0 1 0 -7.6 0M540.3 627.4a3.8 3.8 0 1 0 7.6 0a3.8 3.8 0 1 0 -7.6 0M541.3 627.1a3.8 3.8 0 1 0 7.6 0a3.8 3.8 0 1 0 -7.6 0M542.3 626.6a3.8 3.8 0 1 0 7.6 0a3.8 3.8 0 1 0 -7.6 0M543.3 626.1a3.8 3.8 0 1 0 7.6 0a3.8 3.8 0 1 0 -7.6 0M544.3 625.6a3.8 3.8 0 1 0 7.6 0a3.8 3.8 0 1 0 -7.6 0M545.3 625.1a3.8 3.8 0 1 0 7.6 0a3.8 3.8 0 1 0 -7.6 0M546.3 624.6a3.8 3.8 0 1 0 7.6 0a3.8 3.8 0 1 0 -7.6 0M547.3 624.1a3.8 3.8 0 1 0 7.6 0a3.8 3.8 0 1 0 -7.6 0M548.3 623.6a3.8 3.8 0 1 0 7.6 0a3.8 3.8 0 1 0 -7.6 0M549.3 623.3a3.8 3.8 0 1 0 7.6 0a3.8 3.8 0 1 0 -7.6 0M550.3 624.0a3.8 3.8 0 1 0 7.6 0a3.8 3.8 0 1 0 -7.6 0M551.3 624.7a3.8 3.8 0 1 0 7.6 0a3.8 3.8 0 1 0 -7.6 0M552.3 625.3a3.8 3.8 0 1 0 7.6 0a3.8 3.8 0 1 0 -7.6 0M553.3 626.0a3.8 3.8 0 1 0 7.6 0a3.8 3.8 0 1 0 -7.6 0M554.3 626.7a3.8 3.8 0 1 0 7.6 0a3.8 3.8 0 1 0 -7.6 0M555.3 627.3a3.8 3.8 0 1 0 7.6 0a3.8 3.8 0 1 0 -7.6 0M556.3 628.0a3.8 3.8 0 1 0 7.6 0a3.8 3.8 0 1 0 -7.6 0M557.3 628.7a3.8 3.8 0 1 0 7.6 0a3.8 3.8 0 1 0 -7.6 0M558.3 629.4a3.8 3.8 0 1 0 7.6 0a3.8 3.8 0 1 0 -7.6 0M559.3 630.2a3.8 3.8 0 1 0 7.6 0a3.8 3.8 0 1 0 -7.6 0M560.3 631.0a3.8 3.8 0 1 0 7.6 0a3.8 3.8 0 1 0 -7.6 0M561.3 631.7a3.8 3.8 0 1 0 7.6 0a3.8 3.8 0 1 0 -7.6 0M562.3 632.5a3.8 3.8 0 1 0 7.6 0a3.8 3.8 0 1 0 -7.6 0M563.3 632.6a3.8 3.8 0 1 0 7.6 0a3.8 3.8 0 1 0 -7.6 0M564.3 632.4a3.8 3.8 0 1 0 7.6 0a3.8 3.8 0 1 0 -7.6 0M565.3 632.2a3.8 3.8 0 1 0 7.6 0a3.8 3.8 0 1 0 -7.6 0M566.3 632.1a3.8 3.8 0 1 0 7.6 0a3.8 3.8 0 1 0 -7.6 0M567.3 631.9a3.8 3.8 0 1 0 7.6 0a3.8 3.8 0 1 0 -7.6 0M568.3 631.7a3.8 3.8 0 1 0 7.6 0a3.8 3.8 0 1 0 -7.6 0M569.3 631.5a3.8 3.8 0 1 0 7.6 0a3.8 3.8 0 1 0 -7.6 0M570.3 631.4a3.8 3.8 0 1 0 7.6 0a3.8 3.8 0 1 0 -7.6 0M571.3 631.5a3.8 3.8 0 1 0 7.6 0a3.8 3.8 0 1 0 -7.6 0M572.3 631.8a3.8 3.8 0 1 0 7.6 0a3.8 3.8 0 1 0 -7.6 0M573.3 632.2a3.8 3.8 0 1 0 7.6 0a3.8 3.8 0 1 0 -7.6 0M574.3 632.5a3.8 3.8 0 1 0 7.6 0a3.8 3.8 0 1 0 -7.6 0M575.3 632.8a3.8 3.8 0 1 0 7.6 0a3.8 3.8 0 1 0 -7.6 0M576.3 633.2a3.8 3.8 0 1 0 7.6 0a3.8 3.8 0 1 0 -7.6 0M577.3 633.5a3.8 3.8 0 1 0 7.6 0a3.8 3.8 0 1 0 -7.6 0M578.3 633.8a3.8 3.8 0 1 0 7.6 0a3.8 3.8 0 1 0 -7.6 0M579.3 634.1a3.8 3.8 0 1 0 7.6 0a3.8 3.8 0 1 0 -7.6 0M580.3 634.2a3.8 3.8 0 1 0 7.6 0a3.8 3.8 0 1 0 -7.6 0M581.3 634.4a3.8 3.8 0 1 0 7.6 0a3.8 3.8 0 1 0 -7.6 0M582.3 634.6a3.8 3.8 0 1 0 7.6 0a3.8 3.8 0 1 0 -7.6 0M583.3 634.7a3.8 3.8 0 1 0 7.6 0a3.8 3.8 0 1 0 -7.6 0M584.3 634.9a3.8 3.8 0 1 0 7.6 0a3.8 3.8 0 1 0 -7.6 0M585.3 635.1a3.8 3.8 0 1 0 7.6 0a3.8 3.8 0 1 0 -7.6 0M586.3 635.2a3.8 3.8 0 1 0 7.6 0a3.8 3.8 0 1 0 -7.6 0M587.3 635.4a3.8 3.8 0 1 0 7.6 0a3.8 3.8 0 1 0 -7.6 0M588.3 635.5a3.8 3.8 0 1 0 7.6 0a3.8 3.8 0 1 0 -7.6 0M589.3 635.7a3.8 3.8 0 1 0 7.6 0a3.8 3.8 0 1 0 -7.6 0M590.3 635.9a3.8 3.8 0 1 0 7.6 0a3.8 3.8 0 1 0 -7.6 0M591.3 636.0a3.8 3.8 0 1 0 7.6 0a3.8 3.8 0 1 0 -7.6 0M592.3 636.2a3.8 3.8 0 1 0 7.6 0a3.8 3.8 0 1 0 -7.6 0M593.3 636.2a3.8 3.8 0 1 0 7.6 0a3.8 3.8 0 1 0 -7.6 0M594.3 636.3a3.8 3.8 0 1 0 7.6 0a3.8 3.8 0 1 0 -7.6 0M595.3 636.3a3.8 3.8 0 1 0 7.6 0a3.8 3.8 0 1 0 -7.6 0M596.3 636.3a3.8 3.8 0 1 0 7.6 0a3.8 3.8 0 1 0 -7.6 0M597.3 636.4a3.8 3.8 0 1 0 7.6 0a3.8 3.8 0 1 0 -7.6 0M598.3 636.4a3.8 3.8 0 1 0 7.6 0a3.8 3.8 0 1 0 -7.6 0M599.3 636.5a3.8 3.8 0 1 0 7.6 0a3.8 3.8 0 1 0 -7.6 0M600.3 636.5a3.8 3.8 0 1 0 7.6 0a3.8 3.8 0 1 0 -7.6 0M601.3 636.5a3.8 3.8 0 1 0 7.6 0a3.8 3.8 0 1 0 -7.6 0M602.3 636.6a3.8 3.8 0 1 0 7.6 0a3.8 3.8 0 1 0 -7.6 0M603.3 636.6a3.8 3.8 0 1 0 7.6 0a3.8 3.8 0 1 0 -7.6 0M604.3 636.6a3.8 3.8 0 1 0 7.6 0a3.8 3.8 0 1 0 -7.6 0M605.3 636.7a3.8 3.8 0 1 0 7.6 0a3.8 3.8 0 1 0 -7.6 0M606.3 636.7a3.8 3.8 0 1 0 7.6 0a3.8 3.8 0 1 0 -7.6 0M607.3 636.6a3.8 3.8 0 1 0 7.6 0a3.8 3.8 0 1 0 -7.6 0M608.3 636.6a3.8 3.8 0 1 0 7.6 0a3.8 3.8 0 1 0 -7.6 0M609.3 636.6a3.8 3.8 0 1 0 7.6 0a3.8 3.8 0 1 0 -7.6 0M610.3 636.5a3.8 3.8 0 1 0 7.6 0a3.8 3.8 0 1 0 -7.6 0M611.3 636.5a3.8 3.8 0 1 0 7.6 0a3.8 3.8 0 1 0 -7.6 0M612.3 636.5a3.8 3.8 0 1 0 7.6 0a3.8 3.8 0 1 0 -7.6 0M613.3 636.4a3.8 3.8 0 1 0 7.6 0a3.8 3.8 0 1 0 -7.6 0M614.3 636.4a3.8 3.8 0 1 0 7.6 0a3.8 3.8 0 1 0 -7.6 0M615.3 636.3a3.8 3.8 0 1 0 7.6 0a3.8 3.8 0 1 0 -7.6 0M616.3 636.3a3.8 3.8 0 1 0 7.6 0a3.8 3.8 0 1 0 -7.6 0M617.3 636.3a3.8 3.8 0 1 0 7.6 0a3.8 3.8 0 1 0 -7.6 0M618.3 636.2a3.8 3.8 0 1 0 7.6 0a3.8 3.8 0 1 0 -7.6 0M619.3 636.2a3.8 3.8 0 1 0 7.6 0a3.8 3.8 0 1 0 -7.6 0M620.3 636.2a3.8 3.8 0 1 0 7.6 0a3.8 3.8 0 1 0 -7.6 0M621.3 636.3a3.8 3.8 0 1 0 7.6 0a3.8 3.8 0 1 0 -7.6 0M622.3 636.3a3.8 3.8 0 1 0 7.6 0a3.8 3.8 0 1 0 -7.6 0M623.3 636.3a3.8 3.8 0 1 0 7.6 0a3.8 3.8 0 1 0 -7.6 0M624.3 636.4a3.8 3.8 0 1 0 7.6 0a3.8 3.8 0 1 0 -7.6 0M625.3 636.4a3.8 3.8 0 1 0 7.6 0a3.8 3.8 0 1 0 -7.6 0M626.3 636.5a3.8 3.8 0 1 0 7.6 0a3.8 3.8 0 1 0 -7.6 0M627.3 636.5a3.8 3.8 0 1 0 7.6 0a3.8 3.8 0 1 0 -7.6 0M628.3 636.5a3.8 3.8 0 1 0 7.6 0a3.8 3.8 0 1 0 -7.6 0M629.3 636.6a3.8 3.8 0 1 0 7.6 0a3.8 3.8 0 1 0 -7.6 0M630.3 636.6a3.8 3.8 0 1 0 7.6 0a3.8 3.8 0 1 0 -7.6 0M631.3 636.6a3.8 3.8 0 1 0 7.6 0a3.8 3.8 0 1 0 -7.6 0M632.3 636.7a3.8 3.8 0 1 0 7.6 0a3.8 3.8 0 1 0 -7.6 0M633.3 636.7a3.8 3.8 0 1 0 7.6 0a3.8 3.8 0 1 0 -7.6 0M634.3 636.8a3.8 3.8 0 1 0 7.6 0a3.8 3.8 0 1 0 -7.6 0M635.3 636.9a3.8 3.8 0 1 0 7.6 0a3.8 3.8 0 1 0 -7.6 0M636.3 637.0a3.8 3.8 0 1 0 7.6 0a3.8 3.8 0 1 0 -7.6 0M637.3 637.1a3.8 3.8 0 1 0 7.6 0a3.8 3.8 0 1 0 -7.6 0M638.3 637.2a3.8 3.8 0 1 0 7.6 0a3.8 3.8 0 1 0 -7.6 0M639.3 637.3a3.8 3.8 0 1 0 7.6 0a3.8 3.8 0 1 0 -7.6 0M640.3 637.3a3.8 3.8 0 1 0 7.6 0a3.8 3.8 0 1 0 -7.6 0M641.3 637.4a3.8 3.8 0 1 0 7.6 0a3.8 3.8 0 1 0 -7.6 0M642.3 637.5a3.8 3.8 0 1 0 7.6 0a3.8 3.8 0 1 0 -7.6 0M643.3 637.6a3.8 3.8 0 1 0 7.6 0a3.8 3.8 0 1 0 -7.6 0M644.3 637.7a3.8 3.8 0 1 0 7.6 0a3.8 3.8 0 1 0 -7.6 0M645.3 637.8a3.8 3.8 0 1 0 7.6 0a3.8 3.8 0 1 0 -7.6 0M646.3 637.9a3.8 3.8 0 1 0 7.6 0a3.8 3.8 0 1 0 -7.6 0M647.3 638.0a3.8 3.8 0 1 0 7.6 0a3.8 3.8 0 1 0 -7.6 0M648.3 638.0a3.8 3.8 0 1 0 7.6 0a3.8 3.8 0 1 0 -7.6 0M649.3 638.0a3.8 3.8 0 1 0 7.6 0a3.8 3.8 0 1 0 -7.6 0M650.3 637.8a3.8 3.8 0 1 0 7.6 0a3.8 3.8 0 1 0 -7.6 0M651.3 637.5a3.8 3.8 0 1 0 7.6 0a3.8 3.8 0 1 0 -7.6 0M652.3 637.2a3.8 3.8 0 1 0 7.6 0a3.8 3.8 0 1 0 -7.6 0M653.3 637.0a3.8 3.8 0 1 0 7.6 0a3.8 3.8 0 1 0 -7.6 0M654.3 636.7a3.8 3.8 0 1 0 7.6 0a3.8 3.8 0 1 0 -7.6 0M655.3 635.8a3.8 3.8 0 1 0 7.6 0a3.8 3.8 0 1 0 -7.6 0M656.3 634.8a3.8 3.8 0 1 0 7.6 0a3.8 3.8 0 1 0 -7.6 0M657.3 633.9a3.8 3.8 0 1 0 7.6 0a3.8 3.8 0 1 0 -7.6 0M658.3 632.9a3.8 3.8 0 1 0 7.6 0a3.8 3.8 0 1 0 -7.6 0" fill="none" stroke="#000" stroke-width="1.3"/>
<text transform="translate(90.50,665.50) scale(1.15,1)" font-size="16" text-anchor="middle" font-weight="bold" fill="#000">0</text>
<text transform="translate(200.50,665.50) scale(1.15,1)" font-size="16" text-anchor="middle" font-weight="bold" fill="#000">100</text>
<text transform="translate(310.50,665.50) scale(1.15,1)" font-size="16" text-anchor="middle" font-weight="bold" fill="#000">200</text>
<text transform="translate(420.50,665.50) scale(1.15,1)" font-size="16" text-anchor="middle" font-weight="bold" fill="#000">300</text>
<text transform="translate(530.50,665.50) scale(1.15,1)" font-size="16" text-anchor="middle" font-weight="bold" fill="#000">400</text>
<text transform="translate(640.50,665.50) scale(1.15,1)" font-size="16" text-anchor="middle" font-weight="bold" fill="#000">500</text>
<text transform="translate(86.50,491.80) scale(1.15,1)" font-size="16" text-anchor="end" font-weight="bold" fill="#000">15</text>
<text transform="translate(86.50,545.50) scale(1.15,1)" font-size="16" text-anchor="end" font-weight="bold" fill="#000">10</text>
<text transform="translate(86.50,598.90) scale(1.15,1)" font-size="16" text-anchor="end" font-weight="bold" fill="#000">5</text>
<text transform="translate(86.50,652.30) scale(1.15,1)" font-size="16" text-anchor="end" font-weight="bold" fill="#000">0</text>
<text transform="translate(111.20,515.30) scale(1.0,1)" font-size="21" text-anchor="start" font-weight="bold" fill="#000">(c)</text>
<text transform="translate(23.00,567.50) scale(1.15,1) rotate(-90)" font-size="18.5" text-anchor="middle" font-weight="bold" fill="#000">AS amplitude</text>
<text transform="translate(47.60,566.30) scale(1.15,1) rotate(-90)" font-size="18.5" text-anchor="middle" font-weight="bold" fill="#000">(mV/m)</text>
<defs><linearGradient id="g0"><stop offset="0.0009" stop-color="#0000aa"/><stop offset="0.2435" stop-color="#0000bf"/><stop offset="0.3312" stop-color="#0000e1"/><stop offset="0.3685" stop-color="#0004ff"/><stop offset="0.4002" stop-color="#003eff"/><stop offset="0.4244" stop-color="#008eff"/><stop offset="0.4487" stop-color="#03fffc"/><stop offset="0.4729" stop-color="#79ff86"/><stop offset="0.4860" stop-color="#9cff63"/><stop offset="0.4991" stop-color="#9cff63"/><stop offset="0.5159" stop-color="#72ff8d"/><stop offset="0.5420" stop-color="#00ffff"/><stop offset="0.5718" stop-color="#0082ff"/><stop offset="0.5998" stop-color="#0033ff"/><stop offset="0.6334" stop-color="#0000fe"/><stop offset="0.6931" stop-color="#0000d4"/><stop offset="0.8237" stop-color="#0000b6"/><stop offset="0.9991" stop-color="#0000aa"/></linearGradient><linearGradient id="g1"><stop offset="0.0009" stop-color="#0000aa"/><stop offset="0.2360" stop-color="#0000c0"/><stop offset="0.3256" stop-color="#0000e4"/><stop offset="0.3610" stop-color="#0005ff"/><stop offset="0.3927" stop-color="#003cff"/><stop offset="0.4170" stop-color="#0087ff"/><stop offset="0.4431" stop-color="#03fffc"/><stop offset="0.4711" stop-color="#96ff69"/><stop offset="0.4841" stop-color="#beff41"/><stop offset="0.4972" stop-color="#c3ff3c"/><stop offset="0.5121" stop-color="#a3ff5c"/><stop offset="0.5345" stop-color="#44ffbb"/><stop offset="0.5494" stop-color="#00fbff"/><stop offset="0.5774" stop-color="#0085ff"/><stop offset="0.6054" stop-color="#0038ff"/><stop offset="0.6409" stop-color="#0001ff"/><stop offset="0.7080" stop-color="#0000d3"/><stop offset="0.8461" stop-color="#0000b5"/><stop offset="0.9991" stop-color="#0000ab"/></linearGradient><linearGradient id="g2"><stop offset="0.0009" stop-color="#0000ab"/><stop offset="0.2285" stop-color="#0000c2"/><stop offset="0.3181" stop-color="#0000e6"/><stop offset="0.3517" stop-color="#0004ff"/><stop offset="0.3853" stop-color="#003aff"/><stop offset="0.4095" stop-color="#0080ff"/><stop offset="0.4319" stop-color="#00e3ff"/><stop offset="0.4375" stop-color="#01fffe"/><stop offset="0.4692" stop-color="#b1ff4e"/><stop offset="0.4823" stop-color="#dfff20"/><stop offset="0.4953" stop-color="#eaff15"/><stop offset="0.5103" stop-color="#ceff31"/><stop offset="0.5308" stop-color="#79ff86"/><stop offset="0.5550" stop-color="#00feff"/><stop offset="0.5812" stop-color="#008fff"/><stop offset="0.6091" stop-color="#0040ff"/><stop offset="0.6446" stop-color="#0007ff"/><stop offset="0.6688" stop-color="#0000ef"/><stop offset="0.7528" stop-color="#0000c8"/><stop offset="0.9487" stop-color="#0000ae"/><stop offset="0.9991" stop-color="#0000ac"/></linearGradient><linearGradient id="g3"><stop offset="0.0009" stop-color="#0000ab"/><stop offset="0.2211" stop-color="#0000c3"/><stop offset="0.3125" stop-color="#0000e9"/><stop offset="0.3442" stop-color="#0005ff"/><stop offset="0.3797" stop-color="#003cff"/><stop offset="0.4058" stop-color="#0086ff"/><stop offset="0.4282" stop-color="#00e9ff"/><stop offset="0.4319" stop-color="#00fdff"/><stop offset="0.4692" stop-color="#d2ff2d"/><stop offset="0.4804" stop-color="#fdff02"/><stop offset="0.4935" stop-color="#fff000"/><stop offset="0.5065" stop-color="#fcff03"/><stop offset="0.5233" stop-color="#bfff40"/><stop offset="0.5606" stop-color="#00ffff"/><stop offset="0.5868" stop-color="#0091ff"/><stop offset="0.6147" stop-color="#0043ff"/><stop offset="0.6521" stop-color="#0009ff"/><stop offset="0.6726" stop-color="#0000f5"/><stop offset="0.7547" stop-color="#0000cc"/><stop offset="0.9375" stop-color="#0000b0"/><stop offset="0.9991" stop-color="#0000ad"/></linearGradient><linearGradient id="g4"><stop offset="0.0009" stop-color="#0000ac"/><stop offset="0.2155" stop-color="#0000c5"/><stop offset="0.3069" stop-color="#0000eb"/><stop offset="0.3368" stop-color="#0006ff"/><stop offset="0.3741" stop-color="#003eff"/><stop offset="0.4002" stop-color="#0085ff"/><stop offset="0.4226" stop-color="#00e5ff"/><stop offset="0.4282" stop-color="#03fffc"/><stop offset="0.4692" stop-color="#f4ff0b"/><stop offset="0.4729" stop-color="#fff900"/><stop offset="0.4860" stop-color="#ffd300"/><stop offset="0.4991" stop-color="#ffd100"/><stop offset="0.5140" stop-color="#fff600"/><stop offset="0.5196" stop-color="#f2ff0d"/><stop offset="0.5550" stop-color="#39ffc6"/><stop offset="0.5662" stop-color="#00ffff"/><stop offset="0.5924" stop-color="#0092ff"/><stop offset="0.6203" stop-color="#0046ff"/><stop offset="0.6576" stop-color="#000dff"/><stop offset="0.6782" stop-color="#0000f8"/><stop offset="0.7603" stop-color="#0000ce"/><stop offset="0.9375" stop-color="#0000b1"/><stop offset="0.9991" stop-color="#0000ad"/></linearGradient><linearGradient id="g5"><stop offset="0.0009" stop-color="#0000ad"/><stop offset="0.2099" stop-color="#0000c7"/><stop offset="0.3013" stop-color="#0000ee"/><stop offset="0.3274" stop-color="#0005ff"/><stop offset="0.3666" stop-color="#003cff"/><stop offset="0.3946" stop-color="#0084ff"/><stop offset="0.4170" stop-color="#00e0ff"/><stop offset="0.4226" stop-color="#00fdff"/><stop offset="0.4487" stop-color="#9cff63"/><stop offset="0.4655" stop-color="#fffc00"/><stop offset="0.4804" stop-color="#ffbd00"/><stop offset="0.4935" stop-color="#ffab00"/><stop offset="0.5084" stop-color="#ffc100"/><stop offset="0.5252" stop-color="#fbff04"/><stop offset="0.5718" stop-color="#00ffff"/><stop offset="0.5979" stop-color="#0094ff"/><stop offset="0.6259" stop-color="#0049ff"/><stop offset="0.6651" stop-color="#000eff"/><stop offset="0.6875" stop-color="#0000f9"/><stop offset="0.7733" stop-color="#0000ce"/><stop offset="0.9562" stop-color="#0000b1"/><stop offset="0.9991" stop-color="#0000ae"/></linearGradient><linearGradient id="g6"><stop offset="0.0009" stop-color="#0000ae"/><stop offset="0.2043" stop-color="#0000c8"/><stop offset="0.2957" stop-color="#0000f1"/><stop offset="0.3200" stop-color="#0006ff"/><stop offset="0.3610" stop-color="#003eff"/><stop offset="0.3890" stop-color="#0083ff"/><stop offset="0.4114" stop-color="#00dbff"/><stop offset="0.4188" stop-color="#02fffd"/><stop offset="0.4468" stop-color="#aeff51"/><stop offset="0.4599" stop-color="#fffd00"/><stop offset="0.4767" stop-color="#ffa800"/><stop offset="0.4897" stop-color="#ff8b00"/><stop offset="0.5028" stop-color="#ff9300"/><stop offset="0.5177" stop-color="#ffc000"/><stop offset="0.5308" stop-color="#ffff00"/><stop offset="0.5756" stop-color="#07fff8"/><stop offset="0.5812" stop-color="#00ecff"/><stop offset="0.6073" stop-color="#0089ff"/><stop offset="0.6371" stop-color="#0041ff"/><stop offset="0.6800" stop-color="#0008ff"/><stop offset="0.7024" stop-color="#0000f5"/><stop offset="0.7957" stop-color="#0000cb"/><stop offset="0.9991" stop-color="#0000af"/></linearGradient><linearGradient id="g7"><stop offset="0.0009" stop-color="#0000af"/><stop offset="0.1987" stop-color="#0000ca"/><stop offset="0.2901" stop-color="#0000f3"/><stop offset="0.3125" stop-color="#0007ff"/><stop offset="0.3554" stop-color="#003fff"/><stop offset="0.3853" stop-color="#0087ff"/><stop offset="0.4076" stop-color="#00deff"/><stop offset="0.4151" stop-color="#04fffb"/><stop offset="0.4412" stop-color="#a3ff5c"/><stop offset="0.4543" stop-color="#faff05"/><stop offset="0.4748" stop-color="#ff9300"/><stop offset="0.4879" stop-color="#ff7000"/><stop offset="0.5009" stop-color="#ff7300"/><stop offset="0.5159" stop-color="#ff9b00"/><stop offset="0.5364" stop-color="#feff01"/><stop offset="0.5756" stop-color="#1fffe0"/><stop offset="0.5830" stop-color="#00faff"/><stop offset="0.6091" stop-color="#0095ff"/><stop offset="0.6390" stop-color="#004aff"/><stop offset="0.6819" stop-color="#000fff"/><stop offset="0.7062" stop-color="#0000f9"/><stop offset="0.7976" stop-color="#0000ce"/><stop offset="0.9916" stop-color="#0000b1"/><stop offset="0.9991" stop-color="#0000b0"/></linearGradient><linearGradient id="g8"><stop offset="0.0009" stop-color="#0000af"/><stop offset="0.1950" stop-color="#0000cc"/><stop offset="0.2864" stop-color="#0000f6"/><stop offset="0.3088" stop-color="#000aff"/><stop offset="0.3535" stop-color="#0046ff"/><stop offset="0.3834" stop-color="#008fff"/><stop offset="0.4058" stop-color="#00e7ff"/><stop offset="0.4114" stop-color="#04fffb"/><stop offset="0.4356" stop-color="#95ff6a"/><stop offset="0.4506" stop-color="#f9ff06"/><stop offset="0.4636" stop-color="#ffb200"/><stop offset="0.4785" stop-color="#ff6d00"/><stop offset="0.4916" stop-color="#ff5400"/><stop offset="0.5047" stop-color="#ff6000"/><stop offset="0.5196" stop-color="#ff9100"/><stop offset="0.5401" stop-color="#fffc00"/><stop offset="0.5812" stop-color="#19ffe6"/><stop offset="0.5868" stop-color="#00fdff"/><stop offset="0.6129" stop-color="#0099ff"/><stop offset="0.6427" stop-color="#004fff"/><stop offset="0.6856" stop-color="#0013ff"/><stop offset="0.7136" stop-color="#0000fa"/><stop offset="0.8088" stop-color="#0000ce"/><stop offset="0.9991" stop-color="#0000b2"/></linearGradient><linearGradient id="g9"><stop offset="0.0009" stop-color="#0000b0"/><stop offset="0.1912" stop-color="#0000ce"/><stop offset="0.2826" stop-color="#0000f9"/><stop offset="0.3088" stop-color="#0011ff"/><stop offset="0.3517" stop-color="#004dff"/><stop offset="0.3815" stop-color="#0098ff"/><stop offset="0.4039" stop-color="#00f0ff"/><stop offset="0.4076" stop-color="#03fffc"/><stop offset="0.4319" stop-color="#92ff6d"/><stop offset="0.4487" stop-color="#fffa00"/><stop offset="0.4692" stop-color="#ff7d00"/><stop offset="0.4823" stop-color="#ff4b00"/><stop offset="0.4953" stop-color="#ff3d00"/><stop offset="0.5103" stop-color="#ff5600"/><stop offset="0.5271" stop-color="#ff9b00"/><stop offset="0.5457" stop-color="#faff05"/><stop offset="0.5812" stop-color="#2effd1"/><stop offset="0.5905" stop-color="#01fffe"/><stop offset="0.6185" stop-color="#0097ff"/><stop offset="0.6502" stop-color="#004cff"/><stop offset="0.6950" stop-color="#0011ff"/><stop offset="0.7229" stop-color="#0000f9"/><stop offset="0.8218" stop-color="#0000ce"/><stop offset="0.9991" stop-color="#0000b3"/></linearGradient><linearGradient id="g10"><stop offset="0.0009" stop-color="#0000b1"/><stop offset="0.1875" stop-color="#0000cf"/><stop offset="0.2771" stop-color="#0000fa"/><stop offset="0.3162" stop-color="#0020ff"/><stop offset="0.3554" stop-color="#005fff"/><stop offset="0.3834" stop-color="#00acff"/><stop offset="0.4039" stop-color="#02fffd"/><stop offset="0.4282" stop-color="#8eff71"/><stop offset="0.4450" stop-color="#fffe00"/><stop offset="0.4674" stop-color="#ff7100"/><stop offset="0.4804" stop-color="#ff3a00"/><stop offset="0.4935" stop-color="#ff2700"/><stop offset="0.5084" stop-color="#ff3b00"/><stop offset="0.5252" stop-color="#ff7b00"/><stop offset="0.5494" stop-color="#faff05"/><stop offset="0.5830" stop-color="#39ffc6"/><stop offset="0.5961" stop-color="#00faff"/><stop offset="0.6222" stop-color="#009bff"/><stop offset="0.6539" stop-color="#0050ff"/><stop offset="0.7006" stop-color="#0013ff"/><stop offset="0.7304" stop-color="#0000fa"/><stop offset="0.8312" stop-color="#0000ce"/><stop offset="0.9991" stop-color="#0000b4"/></linearGradient><linearGradient id="g11"><stop offset="0.0009" stop-color="#0000b2"/><stop offset="0.1838" stop-color="#0000d1"/><stop offset="0.2733" stop-color="#0000fd"/><stop offset="0.3237" stop-color="#0031ff"/><stop offset="0.3610" stop-color="#0076ff"/><stop offset="0.3871" stop-color="#00c7ff"/><stop offset="0.4002" stop-color="#00ffff"/><stop offset="0.4226" stop-color="#7cff83"/><stop offset="0.4412" stop-color="#f9ff06"/><stop offset="0.4562" stop-color="#ffa000"/><stop offset="0.4729" stop-color="#ff4300"/><stop offset="0.4860" stop-color="#ff1b00"/><stop offset="0.4991" stop-color="#ff1700"/><stop offset="0.5140" stop-color="#ff3800"/><stop offset="0.5326" stop-color="#ff8c00"/><stop offset="0.5513" stop-color="#fff900"/><stop offset="0.5700" stop-color="#94ff6b"/><stop offset="0.5979" stop-color="#04fffb"/><stop offset="0.6297" stop-color="#0093ff"/><stop offset="0.6632" stop-color="#004aff"/><stop offset="0.7136" stop-color="#000eff"/><stop offset="0.7416" stop-color="#0000f8"/><stop offset="0.8479" stop-color="#0000cd"/><stop offset="0.9991" stop-color="#0000b5"/></linearGradient><linearGradient id="g12"><stop offset="0.0009" stop-color="#0000b3"/><stop offset="0.1800" stop-color="#0000d3"/><stop offset="0.2752" stop-color="#0004ff"/><stop offset="0.3274" stop-color="#003eff"/><stop offset="0.3629" stop-color="#0085ff"/><stop offset="0.3890" stop-color="#00dcff"/><stop offset="0.3983" stop-color="#06fff9"/><stop offset="0.4226" stop-color="#8dff72"/><stop offset="0.4394" stop-color="#fdff02"/><stop offset="0.4655" stop-color="#ff5800"/><stop offset="0.4804" stop-color="#ff1900"/><stop offset="0.4935" stop-color="#ff0500"/><stop offset="0.5084" stop-color="#ff1800"/><stop offset="0.5252" stop-color="#ff5500"/><stop offset="0.5513" stop-color="#ffe700"/><stop offset="0.5550" stop-color="#fffd00"/><stop offset="0.5886" stop-color="#41ffbe"/><stop offset="0.6035" stop-color="#00fbff"/><stop offset="0.6315" stop-color="#009aff"/><stop offset="0.6651" stop-color="#0050ff"/><stop offset="0.7155" stop-color="#0012ff"/><stop offset="0.7472" stop-color="#0000f9"/><stop offset="0.8535" stop-color="#0000ce"/><stop offset="0.9991" stop-color="#0000b6"/></linearGradient><linearGradient id="g13"><stop offset="0.0009" stop-color="#0000b4"/><stop offset="0.1782" stop-color="#0000d4"/><stop offset="0.2696" stop-color="#0005ff"/><stop offset="0.3237" stop-color="#003fff"/><stop offset="0.3591" stop-color="#0085ff"/><stop offset="0.3853" stop-color="#00d8ff"/><stop offset="0.3946" stop-color="#01fffe"/><stop offset="0.4188" stop-color="#84ff7b"/><stop offset="0.4375" stop-color="#ffff00"/><stop offset="0.4636" stop-color="#ff5600"/><stop offset="0.4785" stop-color="#ff1300"/><stop offset="0.4879" stop-color="#fd0000"/><stop offset="0.5047" stop-color="#ff0400"/><stop offset="0.5215" stop-color="#ff3700"/><stop offset="0.5438" stop-color="#ffaa00"/><stop offset="0.5588" stop-color="#faff05"/><stop offset="0.5905" stop-color="#47ffb8"/><stop offset="0.6054" stop-color="#02fffd"/><stop offset="0.6353" stop-color="#009aff"/><stop offset="0.6707" stop-color="#004fff"/><stop offset="0.7229" stop-color="#0011ff"/><stop offset="0.7547" stop-color="#0000f9"/><stop offset="0.8647" stop-color="#0000cd"/><stop offset="0.9991" stop-color="#0000b7"/></linearGradient><linearGradient id="g14"><stop offset="0.0009" stop-color="#0000b5"/><stop offset="0.1744" stop-color="#0000d6"/><stop offset="0.2640" stop-color="#0005ff"/><stop offset="0.3200" stop-color="#0041ff"/><stop offset="0.3573" stop-color="#0089ff"/><stop offset="0.3834" stop-color="#00dcff"/><stop offset="0.3927" stop-color="#04fffb"/><stop offset="0.4170" stop-color="#86ff79"/><stop offset="0.4356" stop-color="#ffff00"/><stop offset="0.4636" stop-color="#ff4a00"/><stop offset="0.4785" stop-color="#ff0900"/><stop offset="0.4860" stop-color="#f60000"/><stop offset="0.4991" stop-color="#f10000"/><stop offset="0.5103" stop-color="#ff0500"/><stop offset="0.5271" stop-color="#ff4300"/><stop offset="0.5532" stop-color="#ffd300"/><stop offset="0.5606" stop-color="#feff01"/><stop offset="0.5924" stop-color="#4cffb3"/><stop offset="0.6091" stop-color="#00ffff"/><stop offset="0.6371" stop-color="#00a0ff"/><stop offset="0.6726" stop-color="#0054ff"/><stop offset="0.7229" stop-color="#0017ff"/><stop offset="0.7603" stop-color="#0000fa"/><stop offset="0.8722" stop-color="#0000cd"/><stop offset="0.9991" stop-color="#0000b8"/></linearGradient><linearGradient id="g15"><stop offset="0.0009" stop-color="#0000b6"/><stop offset="0.1726" stop-color="#0000d8"/><stop offset="0.2584" stop-color="#0005ff"/><stop offset="0.3162" stop-color="#0042ff"/><stop offset="0.3535" stop-color="#0089ff"/><stop offset="0.3815" stop-color="#00e0ff"/><stop offset="0.3890" stop-color="#00ffff"/><stop offset="0.4132" stop-color="#7cff83"/><stop offset="0.4338" stop-color="#fffe00"/><stop offset="0.4618" stop-color="#ff4a00"/><stop offset="0.4767" stop-color="#ff0500"/><stop offset="0.4935" stop-color="#e60000"/><stop offset="0.5084" stop-color="#f60000"/><stop offset="0.5140" stop-color="#ff0500"/><stop offset="0.5326" stop-color="#ff5100"/><stop offset="0.5625" stop-color="#fffc00"/><stop offset="0.5979" stop-color="#3fffc0"/><stop offset="0.6129" stop-color="#00fdff"/><stop offset="0.6409" stop-color="#00a1ff"/><stop offset="0.6763" stop-color="#0056ff"/><stop offset="0.7285" stop-color="#0017ff"/><stop offset="0.7659" stop-color="#0000fb"/><stop offset="0.8778" stop-color="#0000ce"/><stop offset="0.9991" stop-color="#0000b9"/></linearGradient><linearGradient id="g16"><stop offset="0.0009" stop-color="#0000b6"/><stop offset="0.1707" stop-color="#0000d9"/><stop offset="0.2528" stop-color="#0005ff"/><stop offset="0.3106" stop-color="#0040ff"/><stop offset="0.3498" stop-color="#0088ff"/><stop offset="0.3778" stop-color="#00ddff"/><stop offset="0.3871" stop-color="#03fffc"/><stop offset="0.4114" stop-color="#7eff81"/><stop offset="0.4319" stop-color="#fffe00"/><stop offset="0.4618" stop-color="#ff3f00"/><stop offset="0.4748" stop-color="#ff0200"/><stop offset="0.4897" stop-color="#df0000"/><stop offset="0.5047" stop-color="#e50000"/><stop offset="0.5159" stop-color="#ff0100"/><stop offset="0.5345" stop-color="#ff4e00"/><stop offset="0.5662" stop-color="#faff05"/><stop offset="0.5979" stop-color="#4dffb2"/><stop offset="0.6166" stop-color="#00fbff"/><stop offset="0.6465" stop-color="#009cff"/><stop offset="0.6838" stop-color="#0051ff"/><stop offset="0.7397" stop-color="#0013ff"/><stop offset="0.7752" stop-color="#0000f9"/><stop offset="0.8927" stop-color="#0000cd"/><stop offset="0.9991" stop-color="#0000ba"/></linearGradient><linearGradient id="g17"><stop offset="0.0009" stop-color="#0000b7"/><stop offset="0.1670" stop-color="#0000db"/><stop offset="0.2472" stop-color="#0005ff"/><stop offset="0.3069" stop-color="#0041ff"/><stop offset="0.3461" stop-color="#0088ff"/><stop offset="0.3741" stop-color="#00d9ff"/><stop offset="0.3853" stop-color="#06fff9"/><stop offset="0.4095" stop-color="#7fff80"/><stop offset="0.4300" stop-color="#ffff00"/><stop offset="0.4618" stop-color="#ff3600"/><stop offset="0.4729" stop-color="#ff0100"/><stop offset="0.4879" stop-color="#d80000"/><stop offset="0.5028" stop-color="#da0000"/><stop offset="0.5196" stop-color="#ff0300"/><stop offset="0.5401" stop-color="#ff6000"/><stop offset="0.5681" stop-color="#fdff02"/><stop offset="0.5998" stop-color="#52ffad"/><stop offset="0.6185" stop-color="#01fffe"/><stop offset="0.6502" stop-color="#009cff"/><stop offset="0.6875" stop-color="#0053ff"/><stop offset="0.7435" stop-color="#0015ff"/><stop offset="0.7808" stop-color="#0000fa"/><stop offset="0.8983" stop-color="#0000cd"/><stop offset="0.9991" stop-color="#0000bb"/></linearGradient><linearGradient id="g18"><stop offset="0.0009" stop-color="#0000b8"/><stop offset="0.1651" stop-color="#0000dc"/><stop offset="0.2416" stop-color="#0005ff"/><stop offset="0.3032" stop-color="#0042ff"/><stop offset="0.3442" stop-color="#008bff"/><stop offset="0.3741" stop-color="#00e3ff"/><stop offset="0.3815" stop-color="#01fffe"/><stop offset="0.4058" stop-color="#76ff89"/><stop offset="0.4282" stop-color="#ffff00"/><stop offset="0.4599" stop-color="#ff3700"/><stop offset="0.4711" stop-color="#ff0000"/><stop offset="0.4860" stop-color="#d30000"/><stop offset="0.5009" stop-color="#d00000"/><stop offset="0.5177" stop-color="#f30000"/><stop offset="0.5233" stop-color="#ff0700"/><stop offset="0.5457" stop-color="#ff7200"/><stop offset="0.5700" stop-color="#fffe00"/><stop offset="0.6035" stop-color="#4dffb2"/><stop offset="0.6222" stop-color="#00feff"/><stop offset="0.6521" stop-color="#00a1ff"/><stop offset="0.6894" stop-color="#0057ff"/><stop offset="0.7453" stop-color="#0018ff"/><stop offset="0.7864" stop-color="#0000fb"/><stop offset="0.9058" stop-color="#0000ce"/><stop offset="0.9991" stop-color="#0000bd"/></linearGradient><linearGradient id="g19"><stop offset="0.0009" stop-color="#0000b9"/><stop offset="0.1632" stop-color="#0000de"/><stop offset="0.2360" stop-color="#0005ff"/><stop offset="0.2994" stop-color="#0043ff"/><stop offset="0.3405" stop-color="#008bff"/><stop offset="0.3703" stop-color="#00dfff"/><stop offset="0.3797" stop-color="#04fffb"/><stop offset="0.4039" stop-color="#77ff88"/><stop offset="0.4263" stop-color="#feff01"/><stop offset="0.4599" stop-color="#ff2e00"/><stop offset="0.4692" stop-color="#ff0000"/><stop offset="0.4841" stop-color="#d00000"/><stop offset="0.4991" stop-color="#c70000"/><stop offset="0.5159" stop-color="#e50000"/><stop offset="0.5252" stop-color="#ff0500"/><stop offset="0.5476" stop-color="#ff7100"/><stop offset="0.5718" stop-color="#fffc00"/><stop offset="0.6091" stop-color="#41ffbe"/><stop offset="0.6259" stop-color="#00fcff"/><stop offset="0.6576" stop-color="#009dff"/><stop offset="0.6968" stop-color="#0053ff"/><stop offset="0.7565" stop-color="#0014ff"/><stop offset="0.7938" stop-color="#0000fa"/><stop offset="0.9170" stop-color="#0000cd"/><stop offset="0.9991" stop-color="#0000be"/></linearGradient><linearGradient id="g20"><stop offset="0.0009" stop-color="#0000bb"/><stop offset="0.1614" stop-color="#0000e0"/><stop offset="0.2304" stop-color="#0005ff"/><stop offset="0.2938" stop-color="#0041ff"/><stop offset="0.3368" stop-color="#008aff"/><stop offset="0.3666" stop-color="#00dcff"/><stop offset="0.3778" stop-color="#06fff9"/><stop offset="0.4039" stop-color="#82ff7d"/><stop offset="0.4244" stop-color="#fcff03"/><stop offset="0.4599" stop-color="#ff2600"/><stop offset="0.4674" stop-color="#ff0100"/><stop offset="0.4841" stop-color="#ca0000"/><stop offset="0.4991" stop-color="#c10000"/><stop offset="0.5159" stop-color="#de0000"/><stop offset="0.5271" stop-color="#ff0400"/><stop offset="0.5513" stop-color="#ff7b00"/><stop offset="0.5737" stop-color="#fffa00"/><stop offset="0.6129" stop-color="#3cffc3"/><stop offset="0.6278" stop-color="#01fffe"/><stop offset="0.6614" stop-color="#009dff"/><stop offset="0.7024" stop-color="#0052ff"/><stop offset="0.7640" stop-color="#0013ff"/><stop offset="0.8013" stop-color="#0000fa"/><stop offset="0.9263" stop-color="#0000cd"/><stop offset="0.9991" stop-color="#0000bf"/></linearGradient><linearGradient id="g21"><stop offset="0.0009" stop-color="#0000bc"/><stop offset="0.1595" stop-color="#0000e2"/><stop offset="0.2248" stop-color="#0005ff"/><stop offset="0.2901" stop-color="#0042ff"/><stop offset="0.3330" stop-color="#0089ff"/><stop offset="0.3647" stop-color="#00deff"/><stop offset="0.3741" stop-color="#01fffe"/><stop offset="0.4002" stop-color="#78ff87"/><stop offset="0.4226" stop-color="#fbff04"/><stop offset="0.4599" stop-color="#ff1f00"/><stop offset="0.4674" stop-color="#fa0000"/><stop offset="0.4823" stop-color="#c80000"/><stop offset="0.4972" stop-color="#ba0000"/><stop offset="0.5140" stop-color="#d20000"/><stop offset="0.5289" stop-color="#ff0400"/><stop offset="0.5550" stop-color="#ff8500"/><stop offset="0.5774" stop-color="#fbff04"/><stop offset="0.6110" stop-color="#50ffaf"/><stop offset="0.6315" stop-color="#00feff"/><stop offset="0.6632" stop-color="#00a1ff"/><stop offset="0.7043" stop-color="#0056ff"/><stop offset="0.7659" stop-color="#0016ff"/><stop offset="0.8069" stop-color="#0000fa"/><stop offset="0.9338" stop-color="#0000cd"/><stop offset="0.9991" stop-color="#0000c1"/></linearGradient><linearGradient id="g22"><stop offset="0.0009" stop-color="#0000bd"/><stop offset="0.1576" stop-color="#0000e4"/><stop offset="0.2192" stop-color="#0005ff"/><stop offset="0.2864" stop-color="#0043ff"/><stop offset="0.3312" stop-color="#008cff"/><stop offset="0.3629" stop-color="#00e1ff"/><stop offset="0.3722" stop-color="#03fffc"/><stop offset="0.3983" stop-color="#78ff87"/><stop offset="0.4226" stop-color="#fffa00"/><stop offset="0.4580" stop-color="#ff2200"/><stop offset="0.4655" stop-color="#fd0000"/><stop offset="0.4823" stop-color="#c30000"/><stop offset="0.4972" stop-color="#b60000"/><stop offset="0.5140" stop-color="#cd0000"/><stop offset="0.5308" stop-color="#ff0400"/><stop offset="0.5569" stop-color="#ff8500"/><stop offset="0.5793" stop-color="#fcff03"/><stop offset="0.6129" stop-color="#53ffac"/><stop offset="0.6334" stop-color="#02fffd"/><stop offset="0.6688" stop-color="#009dff"/><stop offset="0.7118" stop-color="#0052ff"/><stop offset="0.7771" stop-color="#0012ff"/><stop offset="0.8144" stop-color="#0000fa"/><stop offset="0.9450" stop-color="#0000cc"/><stop offset="0.9991" stop-color="#0000c2"/></linearGradient><linearGradient id="g23"><stop offset="0.0009" stop-color="#0000be"/><stop offset="0.1558" stop-color="#0000e5"/><stop offset="0.2155" stop-color="#0006ff"/><stop offset="0.2826" stop-color="#0043ff"/><stop offset="0.3274" stop-color="#008bff"/><stop offset="0.3591" stop-color="#00ddff"/><stop offset="0.3703" stop-color="#04fffb"/><stop offset="0.3965" stop-color="#78ff87"/><stop offset="0.4207" stop-color="#fffd00"/><stop offset="0.4580" stop-color="#ff1d00"/><stop offset="0.4636" stop-color="#ff0100"/><stop offset="0.4804" stop-color="#c40000"/><stop offset="0.4953" stop-color="#b20000"/><stop offset="0.5121" stop-color="#c40000"/><stop offset="0.5308" stop-color="#fd0000"/><stop offset="0.5532" stop-color="#ff6800"/><stop offset="0.5812" stop-color="#fcff03"/><stop offset="0.6147" stop-color="#56ffa9"/><stop offset="0.6371" stop-color="#00feff"/><stop offset="0.6707" stop-color="#00a0ff"/><stop offset="0.7136" stop-color="#0055ff"/><stop offset="0.7789" stop-color="#0014ff"/><stop offset="0.8200" stop-color="#0000fa"/><stop offset="0.9524" stop-color="#0000cc"/><stop offset="0.9991" stop-color="#0000c3"/></linearGradient><linearGradient id="g24"><stop offset="0.0009" stop-color="#0000bf"/><stop offset="0.1539" stop-color="#0000e7"/><stop offset="0.2099" stop-color="#0006ff"/><stop offset="0.2789" stop-color="#0043ff"/><stop offset="0.3256" stop-color="#008dff"/><stop offset="0.3591" stop-color="#00e4ff"/><stop offset="0.3685" stop-color="#05fffa"/><stop offset="0.3946" stop-color="#77ff88"/><stop offset="0.4188" stop-color="#feff01"/><stop offset="0.4580" stop-color="#ff1800"/><stop offset="0.4636" stop-color="#fc0000"/><stop offset="0.4804" stop-color="#c10000"/><stop offset="0.4953" stop-color="#af0000"/><stop offset="0.5121" stop-color="#c00000"/><stop offset="0.5308" stop-color="#f80000"/><stop offset="0.5345" stop-color="#ff0800"/><stop offset="0.5644" stop-color="#ff9c00"/><stop offset="0.5830" stop-color="#fcff03"/><stop offset="0.6166" stop-color="#58ffa7"/><stop offset="0.6390" stop-color="#02fffd"/><stop offset="0.6763" stop-color="#009cff"/><stop offset="0.7211" stop-color="#0051ff"/><stop offset="0.7882" stop-color="#0012ff"/><stop offset="0.8274" stop-color="#0000f9"/><stop offset="0.9618" stop-color="#0000cc"/><stop offset="0.9991" stop-color="#0000c5"/></linearGradient><linearGradient id="g25"><stop offset="0.0009" stop-color="#0000c0"/><stop offset="0.1521" stop-color="#0000e9"/><stop offset="0.2043" stop-color="#0005ff"/><stop offset="0.2752" stop-color="#0044ff"/><stop offset="0.3218" stop-color="#008cff"/><stop offset="0.3554" stop-color="#00e0ff"/><stop offset="0.3647" stop-color="#00ffff"/><stop offset="0.3909" stop-color="#6dff92"/><stop offset="0.4170" stop-color="#fbff04"/><stop offset="0.4580" stop-color="#ff1400"/><stop offset="0.4636" stop-color="#f80000"/><stop offset="0.4804" stop-color="#bf0000"/><stop offset="0.4953" stop-color="#ad0000"/><stop offset="0.5121" stop-color="#bd0000"/><stop offset="0.5308" stop-color="#f30000"/><stop offset="0.5364" stop-color="#ff0a00"/><stop offset="0.5681" stop-color="#ffa800"/><stop offset="0.5849" stop-color="#fcff03"/><stop offset="0.6185" stop-color="#5affa5"/><stop offset="0.6427" stop-color="#00feff"/><stop offset="0.6763" stop-color="#00a3ff"/><stop offset="0.7211" stop-color="#0057ff"/><stop offset="0.7882" stop-color="#0015ff"/><stop offset="0.8312" stop-color="#0000fa"/><stop offset="0.9674" stop-color="#0000cc"/><stop offset="0.9991" stop-color="#0000c6"/></linearGradient><linearGradient id="g26"><stop offset="0.0009" stop-color="#0000c1"/><stop offset="0.1502" stop-color="#0000ea"/><stop offset="0.2006" stop-color="#0006ff"/><stop offset="0.2715" stop-color="#0044ff"/><stop offset="0.3200" stop-color="#008eff"/><stop offset="0.3535" stop-color="#00e1ff"/><stop offset="0.3629" stop-color="#01fffe"/><stop offset="0.3909" stop-color="#75ff8a"/><stop offset="0.4170" stop-color="#fffc00"/><stop offset="0.4562" stop-color="#ff1900"/><stop offset="0.4618" stop-color="#fe0000"/><stop offset="0.4785" stop-color="#c10000"/><stop offset="0.4935" stop-color="#ab0000"/><stop offset="0.5103" stop-color="#b80000"/><stop offset="0.5289" stop-color="#e80000"/><stop offset="0.5364" stop-color="#ff0500"/><stop offset="0.5681" stop-color="#ffa000"/><stop offset="0.5868" stop-color="#fbff04"/><stop offset="0.6203" stop-color="#5cffa3"/><stop offset="0.6446" stop-color="#01fffe"/><stop offset="0.6819" stop-color="#009eff"/><stop offset="0.7285" stop-color="#0052ff"/><stop offset="0.7994" stop-color="#0011ff"/><stop offset="0.8386" stop-color="#0000fa"/><stop offset="0.9767" stop-color="#0000cc"/><stop offset="0.9991" stop-color="#0000c7"/></linearGradient><linearGradient id="g27"><stop offset="0.0009" stop-color="#0000c2"/><stop offset="0.1502" stop-color="#0000ed"/><stop offset="0.1950" stop-color="#0006ff"/><stop offset="0.2677" stop-color="#0044ff"/><stop offset="0.3162" stop-color="#008cff"/><stop offset="0.3517" stop-color="#00e3ff"/><stop offset="0.3610" stop-color="#02fffd"/><stop offset="0.3890" stop-color="#74ff8b"/><stop offset="0.4151" stop-color="#ffff00"/><stop offset="0.4562" stop-color="#ff1500"/><stop offset="0.4618" stop-color="#fa0000"/><stop offset="0.4785" stop-color="#bf0000"/><stop offset="0.4935" stop-color="#aa0000"/><stop offset="0.5121" stop-color="#b80000"/><stop offset="0.5326" stop-color="#f10000"/><stop offset="0.5382" stop-color="#ff0800"/><stop offset="0.5718" stop-color="#ffab00"/><stop offset="0.5886" stop-color="#fbff04"/><stop offset="0.6241" stop-color="#56ffa9"/><stop offset="0.6483" stop-color="#00fdff"/><stop offset="0.6838" stop-color="#00a1ff"/><stop offset="0.7304" stop-color="#0055ff"/><stop offset="0.8013" stop-color="#0014ff"/><stop offset="0.8442" stop-color="#0000fa"/><stop offset="0.9841" stop-color="#0000cc"/><stop offset="0.9991" stop-color="#0000c9"/></linearGradient><linearGradient id="g28"><stop offset="0.0009" stop-color="#0000c3"/><stop offset="0.1483" stop-color="#0000ee"/><stop offset="0.1912" stop-color="#0006ff"/><stop offset="0.2659" stop-color="#0046ff"/><stop offset="0.3162" stop-color="#0092ff"/><stop offset="0.3517" stop-color="#00eaff"/><stop offset="0.3591" stop-color="#03fffc"/><stop offset="0.3871" stop-color="#73ff8c"/><stop offset="0.4132" stop-color="#fbff04"/><stop offset="0.4580" stop-color="#ff0900"/><stop offset="0.4618" stop-color="#f70000"/><stop offset="0.4785" stop-color="#bd0000"/><stop offset="0.4953" stop-color="#a70000"/><stop offset="0.5140" stop-color="#b90000"/><stop offset="0.5345" stop-color="#f40000"/><stop offset="0.5401" stop-color="#ff0b00"/><stop offset="0.5756" stop-color="#ffb700"/><stop offset="0.5905" stop-color="#faff05"/><stop offset="0.6259" stop-color="#57ffa8"/><stop offset="0.6502" stop-color="#01fffe"/><stop offset="0.6875" stop-color="#00a0ff"/><stop offset="0.7360" stop-color="#0054ff"/><stop offset="0.8088" stop-color="#0012ff"/><stop offset="0.8517" stop-color="#0000f9"/><stop offset="0.9953" stop-color="#0000cb"/><stop offset="0.9991" stop-color="#0000ca"/></linearGradient><linearGradient id="g29"><stop offset="0.0009" stop-color="#0000c5"/><stop offset="0.1465" stop-color="#0000f0"/><stop offset="0.1875" stop-color="#0007ff"/><stop offset="0.2621" stop-color="#0046ff"/><stop offset="0.3125" stop-color="#0091ff"/><stop offset="0.3479" stop-color="#00e5ff"/><stop offset="0.3573" stop-color="#03fffc"/><stop offset="0.3853" stop-color="#72ff8d"/><stop offset="0.4132" stop-color="#fffc00"/><stop offset="0.4543" stop-color="#ff1700"/><stop offset="0.4599" stop-color="#fc0000"/><stop offset="0.4785" stop-color="#bb0000"/><stop offset="0.4953" stop-color="#a60000"/><stop offset="0.5140" stop-color="#b70000"/><stop offset="0.5345" stop-color="#f00000"/><stop offset="0.5401" stop-color="#ff0600"/><stop offset="0.5737" stop-color="#ffa500"/><stop offset="0.5924" stop-color="#faff05"/><stop offset="0.6278" stop-color="#59ffa6"/><stop offset="0.6539" stop-color="#00fdff"/><stop offset="0.6912" stop-color="#00a0ff"/><stop offset="0.7397" stop-color="#0054ff"/><stop offset="0.8125" stop-color="#0014ff"/><stop offset="0.8573" stop-color="#0000f9"/><stop offset="0.9991" stop-color="#0000cc"/></linearGradient><linearGradient id="g30"><stop offset="0.0009" stop-color="#0000c6"/><stop offset="0.1465" stop-color="#0000f3"/><stop offset="0.1838" stop-color="#0008ff"/><stop offset="0.2603" stop-color="#0049ff"/><stop offset="0.3106" stop-color="#0093ff"/><stop offset="0.3461" stop-color="#00e6ff"/><stop offset="0.3554" stop-color="#04fffb"/><stop offset="0.3853" stop-color="#79ff86"/><stop offset="0.4114" stop-color="#ffff00"/><stop offset="0.4543" stop-color="#ff1300"/><stop offset="0.4599" stop-color="#f90000"/><stop offset="0.4785" stop-color="#b90000"/><stop offset="0.4953" stop-color="#a40000"/><stop offset="0.5140" stop-color="#b40000"/><stop offset="0.5345" stop-color="#ec0000"/><stop offset="0.5401" stop-color="#ff0200"/><stop offset="0.5737" stop-color="#ff9d00"/><stop offset="0.5924" stop-color="#fffb00"/><stop offset="0.6334" stop-color="#4cffb3"/><stop offset="0.6558" stop-color="#00ffff"/><stop offset="0.6931" stop-color="#00a3ff"/><stop offset="0.7416" stop-color="#0057ff"/><stop offset="0.8144" stop-color="#0016ff"/><stop offset="0.8610" stop-color="#0000fa"/><stop offset="0.9991" stop-color="#0000cd"/></linearGradient><linearGradient id="g31"><stop offset="0.0009" stop-color="#0000c7"/><stop offset="0.1446" stop-color="#0000f4"/><stop offset="0.1782" stop-color="#0008ff"/><stop offset="0.2547" stop-color="#0047ff"/><stop offset="0.3069" stop-color="#0092ff"/><stop offset="0.3442" stop-color="#00e8ff"/><stop offset="0.3535" stop-color="#05fffa"/><stop offset="0.3834" stop-color="#78ff87"/><stop offset="0.4095" stop-color="#fbff04"/><stop offset="0.4562" stop-color="#ff0700"/><stop offset="0.4618" stop-color="#ee0000"/><stop offset="0.4804" stop-color="#b30000"/><stop offset="0.4972" stop-color="#a20000"/><stop offset="0.5159" stop-color="#b50000"/><stop offset="0.5364" stop-color="#ee0000"/><stop offset="0.5420" stop-color="#ff0400"/><stop offset="0.5774" stop-color="#ffa800"/><stop offset="0.5942" stop-color="#fffc00"/><stop offset="0.6353" stop-color="#4effb1"/><stop offset="0.6595" stop-color="#00fcff"/><stop offset="0.6968" stop-color="#00a2ff"/><stop offset="0.7472" stop-color="#0056ff"/><stop offset="0.8237" stop-color="#0013ff"/><stop offset="0.8685" stop-color="#0000fa"/><stop offset="0.9991" stop-color="#0000cf"/></linearGradient><linearGradient id="g32"><stop offset="0.0009" stop-color="#0000c9"/><stop offset="0.1427" stop-color="#0000f6"/><stop offset="0.1763" stop-color="#000aff"/><stop offset="0.2547" stop-color="#004bff"/><stop offset="0.3069" stop-color="#0097ff"/><stop offset="0.3442" stop-color="#00eeff"/><stop offset="0.3517" stop-color="#06fff9"/><stop offset="0.3815" stop-color="#77ff88"/><stop offset="0.4095" stop-color="#fffc00"/><stop offset="0.4524" stop-color="#ff1500"/><stop offset="0.4580" stop-color="#fb0000"/><stop offset="0.4767" stop-color="#ba0000"/><stop offset="0.4935" stop-color="#a10000"/><stop offset="0.5121" stop-color="#ad0000"/><stop offset="0.5326" stop-color="#de0000"/><stop offset="0.5420" stop-color="#ff0000"/><stop offset="0.5756" stop-color="#ff9800"/><stop offset="0.5961" stop-color="#fffd00"/><stop offset="0.6371" stop-color="#50ffaf"/><stop offset="0.6614" stop-color="#00ffff"/><stop offset="0.7006" stop-color="#00a1ff"/><stop offset="0.7528" stop-color="#0054ff"/><stop offset="0.8312" stop-color="#0012ff"/><stop offset="0.8759" stop-color="#0000f9"/><stop offset="0.9991" stop-color="#0000d1"/></linearGradient><linearGradient id="g33"><stop offset="0.0009" stop-color="#0000ca"/><stop offset="0.1427" stop-color="#0000f9"/><stop offset="0.1838" stop-color="#0011ff"/><stop offset="0.2584" stop-color="#0054ff"/><stop offset="0.3088" stop-color="#00a0ff"/><stop offset="0.3479" stop-color="#01fffe"/><stop offset="0.3778" stop-color="#6eff91"/><stop offset="0.4076" stop-color="#ffff00"/><stop offset="0.4524" stop-color="#ff1100"/><stop offset="0.4562" stop-color="#ff0100"/><stop offset="0.4767" stop-color="#b80000"/><stop offset="0.4935" stop-color="#a00000"/><stop offset="0.5121" stop-color="#ab0000"/><stop offset="0.5326" stop-color="#da0000"/><stop offset="0.5438" stop-color="#ff0300"/><stop offset="0.5812" stop-color="#ffac00"/><stop offset="0.5979" stop-color="#fffd00"/><stop offset="0.6390" stop-color="#51ffae"/><stop offset="0.6651" stop-color="#00fcff"/><stop offset="0.7043" stop-color="#00a1ff"/><stop offset="0.7565" stop-color="#0055ff"/><stop offset="0.8349" stop-color="#0013ff"/><stop offset="0.8815" stop-color="#0000f9"/><stop offset="0.9991" stop-color="#0000d2"/></linearGradient><linearGradient id="g34"><stop offset="0.0009" stop-color="#0000cb"/><stop offset="0.1409" stop-color="#0000fb"/><stop offset="0.2043" stop-color="#0024ff"/><stop offset="0.2733" stop-color="#006cff"/><stop offset="0.3200" stop-color="#00bdff"/><stop offset="0.3461" stop-color="#02fffd"/><stop offset="0.3778" stop-color="#75ff8a"/><stop offset="0.4058" stop-color="#fbff04"/><stop offset="0.4543" stop-color="#ff0600"/><stop offset="0.4674" stop-color="#d10000"/><stop offset="0.4860" stop-color="#a50000"/><stop offset="0.5047" stop-color="#a10000"/><stop offset="0.5252" stop-color="#c20000"/><stop offset="0.5457" stop-color="#ff0500"/><stop offset="0.5849" stop-color="#ffb600"/><stop offset="0.5998" stop-color="#fffe00"/><stop offset="0.6390" stop-color="#5affa5"/><stop offset="0.6670" stop-color="#00feff"/><stop offset="0.7062" stop-color="#00a4ff"/><stop offset="0.7584" stop-color="#0058ff"/><stop offset="0.8386" stop-color="#0014ff"/><stop offset="0.8871" stop-color="#0000fa"/><stop offset="0.9991" stop-color="#0000d4"/></linearGradient><linearGradient id="g35"><stop offset="0.0009" stop-color="#0000cd"/><stop offset="0.1409" stop-color="#0000fd"/><stop offset="0.2229" stop-color="#0037ff"/><stop offset="0.2845" stop-color="#0081ff"/><stop offset="0.3274" stop-color="#00d4ff"/><stop offset="0.3442" stop-color="#03fffc"/><stop offset="0.3759" stop-color="#74ff8b"/><stop offset="0.4058" stop-color="#fffc00"/><stop offset="0.4524" stop-color="#ff0b00"/><stop offset="0.4580" stop-color="#f20000"/><stop offset="0.4785" stop-color="#b00000"/><stop offset="0.4953" stop-color="#9c0000"/><stop offset="0.5159" stop-color="#ac0000"/><stop offset="0.5382" stop-color="#e50000"/><stop offset="0.5457" stop-color="#ff0100"/><stop offset="0.5849" stop-color="#ffaf00"/><stop offset="0.6017" stop-color="#fffe00"/><stop offset="0.6409" stop-color="#5bffa4"/><stop offset="0.6688" stop-color="#01fffe"/><stop offset="0.7118" stop-color="#00a0ff"/><stop offset="0.7659" stop-color="#0054ff"/><stop offset="0.8479" stop-color="#0012ff"/><stop offset="0.8927" stop-color="#0000fa"/><stop offset="0.9991" stop-color="#0000d6"/></linearGradient><linearGradient id="g36"><stop offset="0.0009" stop-color="#0000ce"/><stop offset="0.1483" stop-color="#0005ff"/><stop offset="0.2341" stop-color="#0046ff"/><stop offset="0.2920" stop-color="#0092ff"/><stop offset="0.3330" stop-color="#00e9ff"/><stop offset="0.3424" stop-color="#04fffb"/><stop offset="0.3741" stop-color="#73ff8c"/><stop offset="0.4039" stop-color="#feff01"/><stop offset="0.4524" stop-color="#ff0800"/><stop offset="0.4562" stop-color="#f70000"/><stop offset="0.4767" stop-color="#b30000"/><stop offset="0.4935" stop-color="#9b0000"/><stop offset="0.5140" stop-color="#a70000"/><stop offset="0.5364" stop-color="#dc0000"/><stop offset="0.5476" stop-color="#ff0400"/><stop offset="0.5886" stop-color="#ffba00"/><stop offset="0.6035" stop-color="#ffff00"/><stop offset="0.6427" stop-color="#5dffa2"/><stop offset="0.6726" stop-color="#00feff"/><stop offset="0.7136" stop-color="#00a2ff"/><stop offset="0.7696" stop-color="#0055ff"/><stop offset="0.8535" stop-color="#0012ff"/><stop offset="0.9002" stop-color="#0000f9"/><stop offset="0.9991" stop-color="#0000d7"/></linearGradient><linearGradient id="g37"><stop offset="0.0009" stop-color="#0000d0"/><stop offset="0.1427" stop-color="#0005ff"/><stop offset="0.2304" stop-color="#0046ff"/><stop offset="0.2901" stop-color="#0094ff"/><stop offset="0.3312" stop-color="#00eaff"/><stop offset="0.3405" stop-color="#04fffb"/><stop offset="0.3722" stop-color="#72ff8d"/><stop offset="0.4021" stop-color="#fbff04"/><stop offset="0.4524" stop-color="#ff0500"/><stop offset="0.4767" stop-color="#b10000"/><stop offset="0.4953" stop-color="#990000"/><stop offset="0.5159" stop-color="#a80000"/><stop offset="0.5382" stop-color="#de0000"/><stop offset="0.5476" stop-color="#ff0000"/><stop offset="0.5849" stop-color="#ffa100"/><stop offset="0.6054" stop-color="#feff01"/><stop offset="0.6446" stop-color="#5effa1"/><stop offset="0.6744" stop-color="#01fffe"/><stop offset="0.7174" stop-color="#00a2ff"/><stop offset="0.7733" stop-color="#0056ff"/><stop offset="0.8591" stop-color="#0012ff"/><stop offset="0.9058" stop-color="#0000f9"/><stop offset="0.9991" stop-color="#0000d9"/></linearGradient><linearGradient id="g38"><stop offset="0.0009" stop-color="#0000d1"/><stop offset="0.1371" stop-color="#0004ff"/><stop offset="0.2248" stop-color="#0045ff"/><stop offset="0.2864" stop-color="#0093ff"/><stop offset="0.3274" stop-color="#00e6ff"/><stop offset="0.3386" stop-color="#05fffa"/><stop offset="0.3703" stop-color="#71ff8e"/><stop offset="0.4021" stop-color="#fffd00"/><stop offset="0.4506" stop-color="#ff0a00"/><stop offset="0.4562" stop-color="#f10000"/><stop offset="0.4767" stop-color="#af0000"/><stop offset="0.4953" stop-color="#980000"/><stop offset="0.5159" stop-color="#a60000"/><stop offset="0.5382" stop-color="#db0000"/><stop offset="0.5494" stop-color="#ff0200"/><stop offset="0.5924" stop-color="#ffbd00"/><stop offset="0.6073" stop-color="#feff01"/><stop offset="0.6465" stop-color="#60ff9f"/><stop offset="0.6782" stop-color="#00fdff"/><stop offset="0.7211" stop-color="#00a1ff"/><stop offset="0.7789" stop-color="#0054ff"/><stop offset="0.8666" stop-color="#0011ff"/><stop offset="0.9132" stop-color="#0000f9"/><stop offset="0.9991" stop-color="#0000db"/></linearGradient><linearGradient id="g39"><stop offset="0.0009" stop-color="#0000d3"/><stop offset="0.1334" stop-color="#0005ff"/><stop offset="0.2229" stop-color="#0047ff"/><stop offset="0.2845" stop-color="#0094ff"/><stop offset="0.3274" stop-color="#00ecff"/><stop offset="0.3368" stop-color="#06fff9"/><stop offset="0.3703" stop-color="#78ff87"/><stop offset="0.4002" stop-color="#feff01"/><stop offset="0.4506" stop-color="#ff0700"/><stop offset="0.4562" stop-color="#ef0000"/><stop offset="0.4767" stop-color="#ae0000"/><stop offset="0.4953" stop-color="#970000"/><stop offset="0.5159" stop-color="#a50000"/><stop offset="0.5382" stop-color="#d80000"/><stop offset="0.5513" stop-color="#ff0500"/><stop offset="0.5979" stop-color="#ffcf00"/><stop offset="0.6091" stop-color="#fdff02"/><stop offset="0.6483" stop-color="#61ff9e"/><stop offset="0.6800" stop-color="#00ffff"/><stop offset="0.7229" stop-color="#00a4ff"/><stop offset="0.7808" stop-color="#0057ff"/><stop offset="0.8685" stop-color="#0013ff"/><stop offset="0.9188" stop-color="#0000f9"/><stop offset="0.9991" stop-color="#0000dd"/></linearGradient><linearGradient id="g40"><stop offset="0.0009" stop-color="#0000d5"/><stop offset="0.1278" stop-color="#0005ff"/><stop offset="0.2192" stop-color="#0047ff"/><stop offset="0.2808" stop-color="#0093ff"/><stop offset="0.3237" stop-color="#00e8ff"/><stop offset="0.3349" stop-color="#07fff8"/><stop offset="0.3685" stop-color="#77ff88"/><stop offset="0.4002" stop-color="#fffa00"/><stop offset="0.4506" stop-color="#ff0400"/><stop offset="0.4767" stop-color="#ac0000"/><stop offset="0.4953" stop-color="#960000"/><stop offset="0.5177" stop-color="#a60000"/><stop offset="0.5420" stop-color="#e00000"/><stop offset="0.5513" stop-color="#ff0100"/><stop offset="0.5961" stop-color="#ffbf00"/><stop offset="0.6110" stop-color="#fcff03"/><stop offset="0.6502" stop-color="#62ff9d"/><stop offset="0.6819" stop-color="#02fffd"/><stop offset="0.7304" stop-color="#009dff"/><stop offset="0.7920" stop-color="#0050ff"/><stop offset="0.8834" stop-color="#000eff"/><stop offset="0.9263" stop-color="#0000f8"/><stop offset="0.9991" stop-color="#0000df"/></linearGradient><linearGradient id="g41"><stop offset="0.0009" stop-color="#0000d6"/><stop offset="0.1222" stop-color="#0005ff"/><stop offset="0.2136" stop-color="#0045ff"/><stop offset="0.2771" stop-color="#0092ff"/><stop offset="0.3218" stop-color="#00e9ff"/><stop offset="0.3330" stop-color="#07fff8"/><stop offset="0.3666" stop-color="#76ff89"/><stop offset="0.3983" stop-color="#fffd00"/><stop offset="0.4506" stop-color="#ff0100"/><stop offset="0.4729" stop-color="#b40000"/><stop offset="0.4916" stop-color="#960000"/><stop offset="0.5121" stop-color="#9c0000"/><stop offset="0.5345" stop-color="#c70000"/><stop offset="0.5532" stop-color="#ff0400"/><stop offset="0.6035" stop-color="#ffda00"/><stop offset="0.6129" stop-color="#fcff03"/><stop offset="0.6539" stop-color="#5dffa2"/><stop offset="0.6856" stop-color="#00ffff"/><stop offset="0.7304" stop-color="#00a3ff"/><stop offset="0.7901" stop-color="#0056ff"/><stop offset="0.8815" stop-color="#0012ff"/><stop offset="0.9300" stop-color="#0000f9"/><stop offset="0.9991" stop-color="#0000e1"/></linearGradient><linearGradient id="g42"><stop offset="0.0009" stop-color="#0000d8"/><stop offset="0.1185" stop-color="#0005ff"/><stop offset="0.2118" stop-color="#0047ff"/><stop offset="0.2752" stop-color="#0094ff"/><stop offset="0.3200" stop-color="#00eaff"/><stop offset="0.3293" stop-color="#03fffc"/><stop offset="0.3629" stop-color="#6dff92"/><stop offset="0.3965" stop-color="#fdff02"/><stop offset="0.4487" stop-color="#ff0600"/><stop offset="0.4580" stop-color="#e00000"/><stop offset="0.4785" stop-color="#a60000"/><stop offset="0.4972" stop-color="#930000"/><stop offset="0.5196" stop-color="#a50000"/><stop offset="0.5438" stop-color="#e00000"/><stop offset="0.5532" stop-color="#ff0000"/><stop offset="0.5998" stop-color="#ffc200"/><stop offset="0.6147" stop-color="#fbff04"/><stop offset="0.6558" stop-color="#5effa1"/><stop offset="0.6875" stop-color="#02fffd"/><stop offset="0.7360" stop-color="#009fff"/><stop offset="0.7994" stop-color="#0051ff"/><stop offset="0.8946" stop-color="#000eff"/><stop offset="0.9394" stop-color="#0000f8"/><stop offset="0.9991" stop-color="#0000e3"/></linearGradient><linearGradient id="g43"><stop offset="0.0009" stop-color="#0000da"/><stop offset="0.1129" stop-color="#0005ff"/><stop offset="0.2080" stop-color="#0048ff"/><stop offset="0.2733" stop-color="#0096ff"/><stop offset="0.3181" stop-color="#00ebff"/><stop offset="0.3274" stop-color="#03fffc"/><stop offset="0.3610" stop-color="#6dff92"/><stop offset="0.3965" stop-color="#fffb00"/><stop offset="0.4487" stop-color="#ff0300"/><stop offset="0.4748" stop-color="#ac0000"/><stop offset="0.4935" stop-color="#930000"/><stop offset="0.5159" stop-color="#9e0000"/><stop offset="0.5401" stop-color="#d10000"/><stop offset="0.5550" stop-color="#ff0300"/><stop offset="0.6073" stop-color="#ffdc00"/><stop offset="0.6166" stop-color="#faff05"/><stop offset="0.6576" stop-color="#5fffa0"/><stop offset="0.6912" stop-color="#00feff"/><stop offset="0.7360" stop-color="#00a5ff"/><stop offset="0.7976" stop-color="#0057ff"/><stop offset="0.8909" stop-color="#0013ff"/><stop offset="0.9431" stop-color="#0000f9"/><stop offset="0.9991" stop-color="#0000e5"/></linearGradient><linearGradient id="g44"><stop offset="0.0009" stop-color="#0000db"/><stop offset="0.1073" stop-color="#0005ff"/><stop offset="0.2043" stop-color="#0048ff"/><stop offset="0.2715" stop-color="#0097ff"/><stop offset="0.3162" stop-color="#00ecff"/><stop offset="0.3256" stop-color="#04fffb"/><stop offset="0.3610" stop-color="#72ff8d"/><stop offset="0.3946" stop-color="#fffe00"/><stop offset="0.4487" stop-color="#ff0100"/><stop offset="0.4729" stop-color="#af0000"/><stop offset="0.4916" stop-color="#930000"/><stop offset="0.5140" stop-color="#9a0000"/><stop offset="0.5382" stop-color="#c90000"/><stop offset="0.5550" stop-color="#fe0000"/><stop offset="0.5979" stop-color="#ffad00"/><stop offset="0.6166" stop-color="#fffd00"/><stop offset="0.6632" stop-color="#54ffab"/><stop offset="0.6950" stop-color="#00fcff"/><stop offset="0.7416" stop-color="#00a1ff"/><stop offset="0.8050" stop-color="#0055ff"/><stop offset="0.9021" stop-color="#0010ff"/><stop offset="0.9506" stop-color="#0000f9"/><stop offset="0.9991" stop-color="#0000e7"/></linearGradient><linearGradient id="g45"><stop offset="0.0009" stop-color="#0000dd"/><stop offset="0.1035" stop-color="#0006ff"/><stop offset="0.2006" stop-color="#0048ff"/><stop offset="0.2677" stop-color="#0096ff"/><stop offset="0.3144" stop-color="#00edff"/><stop offset="0.3237" stop-color="#05fffa"/><stop offset="0.3591" stop-color="#71ff8e"/><stop offset="0.3927" stop-color="#fcff03"/><stop offset="0.4468" stop-color="#ff0600"/><stop offset="0.4618" stop-color="#ce0000"/><stop offset="0.4823" stop-color="#9c0000"/><stop offset="0.5028" stop-color="#900000"/><stop offset="0.5271" stop-color="#ad0000"/><stop offset="0.5532" stop-color="#f40000"/><stop offset="0.5588" stop-color="#ff0800"/><stop offset="0.6185" stop-color="#fffe00"/><stop offset="0.6632" stop-color="#5cffa3"/><stop offset="0.6968" stop-color="#00feff"/><stop offset="0.7435" stop-color="#00a4ff"/><stop offset="0.8088" stop-color="#0055ff"/><stop offset="0.9058" stop-color="#0011ff"/><stop offset="0.9562" stop-color="#0000f9"/><stop offset="0.9991" stop-color="#0000e9"/></linearGradient><linearGradient id="g46"><stop offset="0.0009" stop-color="#0000df"/><stop offset="0.0979" stop-color="#0005ff"/><stop offset="0.1968" stop-color="#0048ff"/><stop offset="0.2659" stop-color="#0098ff"/><stop offset="0.3125" stop-color="#00eeff"/><stop offset="0.3218" stop-color="#05fffa"/><stop offset="0.3573" stop-color="#70ff8f"/><stop offset="0.3927" stop-color="#fffc00"/><stop offset="0.4468" stop-color="#ff0300"/><stop offset="0.4729" stop-color="#ad0000"/><stop offset="0.4935" stop-color="#900000"/><stop offset="0.5159" stop-color="#990000"/><stop offset="0.5401" stop-color="#c90000"/><stop offset="0.5588" stop-color="#ff0500"/><stop offset="0.6203" stop-color="#fffe00"/><stop offset="0.6632" stop-color="#63ff9c"/><stop offset="0.6987" stop-color="#01fffe"/><stop offset="0.7472" stop-color="#00a3ff"/><stop offset="0.8125" stop-color="#0056ff"/><stop offset="0.9114" stop-color="#0011ff"/><stop offset="0.9618" stop-color="#0000f9"/><stop offset="0.9991" stop-color="#0000eb"/></linearGradient><linearGradient id="g47"><stop offset="0.0009" stop-color="#0000e1"/><stop offset="0.0924" stop-color="#0005ff"/><stop offset="0.1931" stop-color="#0048ff"/><stop offset="0.2621" stop-color="#0097ff"/><stop offset="0.3106" stop-color="#00efff"/><stop offset="0.3200" stop-color="#06fff9"/><stop offset="0.3554" stop-color="#6fff90"/><stop offset="0.3909" stop-color="#feff01"/><stop offset="0.4468" stop-color="#ff0100"/><stop offset="0.4711" stop-color="#b00000"/><stop offset="0.4916" stop-color="#900000"/><stop offset="0.5140" stop-color="#960000"/><stop offset="0.5382" stop-color="#c20000"/><stop offset="0.5588" stop-color="#ff0100"/><stop offset="0.6222" stop-color="#ffff00"/><stop offset="0.6651" stop-color="#63ff9c"/><stop offset="0.7024" stop-color="#00fdff"/><stop offset="0.7509" stop-color="#00a3ff"/><stop offset="0.8181" stop-color="#0055ff"/><stop offset="0.9188" stop-color="#0010ff"/><stop offset="0.9692" stop-color="#0000f9"/><stop offset="0.9991" stop-color="#0000ee"/></linearGradient><linearGradient id="g48"><stop offset="0.0009" stop-color="#0000e2"/><stop offset="0.0886" stop-color="#0006ff"/><stop offset="0.1894" stop-color="#0049ff"/><stop offset="0.2603" stop-color="#0098ff"/><stop offset="0.3088" stop-color="#00efff"/><stop offset="0.3181" stop-color="#06fff9"/><stop offset="0.3554" stop-color="#75ff8a"/><stop offset="0.3909" stop-color="#fffb00"/><stop offset="0.4450" stop-color="#ff0600"/><stop offset="0.4599" stop-color="#ce0000"/><stop offset="0.4823" stop-color="#990000"/><stop offset="0.5028" stop-color="#8d0000"/><stop offset="0.5271" stop-color="#a80000"/><stop offset="0.5550" stop-color="#f00000"/><stop offset="0.5606" stop-color="#ff0400"/><stop offset="0.6241" stop-color="#feff01"/><stop offset="0.6670" stop-color="#64ff9b"/><stop offset="0.7043" stop-color="#00ffff"/><stop offset="0.7528" stop-color="#00a5ff"/><stop offset="0.8200" stop-color="#0057ff"/><stop offset="0.9207" stop-color="#0012ff"/><stop offset="0.9729" stop-color="#0000f9"/><stop offset="0.9991" stop-color="#0000f0"/></linearGradient><linearGradient id="g49"><stop offset="0.0009" stop-color="#0000e4"/><stop offset="0.0830" stop-color="#0006ff"/><stop offset="0.1856" stop-color="#0049ff"/><stop offset="0.2565" stop-color="#0097ff"/><stop offset="0.3050" stop-color="#00ecff"/><stop offset="0.3162" stop-color="#07fff8"/><stop offset="0.3535" stop-color="#74ff8b"/><stop offset="0.3890" stop-color="#fffe00"/><stop offset="0.4450" stop-color="#ff0300"/><stop offset="0.4729" stop-color="#a90000"/><stop offset="0.4935" stop-color="#8d0000"/><stop offset="0.5177" stop-color="#980000"/><stop offset="0.5438" stop-color="#cc0000"/><stop offset="0.5606" stop-color="#ff0000"/><stop offset="0.6259" stop-color="#fdff02"/><stop offset="0.6688" stop-color="#65ff9a"/><stop offset="0.7062" stop-color="#02fffd"/><stop offset="0.7603" stop-color="#009fff"/><stop offset="0.8312" stop-color="#0051ff"/><stop offset="0.9375" stop-color="#000cff"/><stop offset="0.9841" stop-color="#0000f7"/><stop offset="0.9991" stop-color="#0000f2"/></linearGradient><linearGradient id="g50"><stop offset="0.0009" stop-color="#0000e6"/><stop offset="0.0774" stop-color="#0005ff"/><stop offset="0.1819" stop-color="#0049ff"/><stop offset="0.2547" stop-color="#0099ff"/><stop offset="0.3050" stop-color="#00f1ff"/><stop offset="0.3144" stop-color="#07fff8"/><stop offset="0.3517" stop-color="#72ff8d"/><stop offset="0.3871" stop-color="#fdff02"/><stop offset="0.4450" stop-color="#ff0100"/><stop offset="0.4711" stop-color="#ad0000"/><stop offset="0.4916" stop-color="#8d0000"/><stop offset="0.5140" stop-color="#930000"/><stop offset="0.5401" stop-color="#c00000"/><stop offset="0.5625" stop-color="#ff0300"/><stop offset="0.6278" stop-color="#fcff03"/><stop offset="0.6726" stop-color="#60ff9f"/><stop offset="0.7099" stop-color="#00feff"/><stop offset="0.7603" stop-color="#00a4ff"/><stop offset="0.8312" stop-color="#0055ff"/><stop offset="0.9375" stop-color="#000fff"/><stop offset="0.9879" stop-color="#0000f8"/><stop offset="0.9991" stop-color="#0000f4"/></linearGradient><linearGradient id="g51"><stop offset="0.0009" stop-color="#0000e8"/><stop offset="0.0737" stop-color="#0006ff"/><stop offset="0.1782" stop-color="#0049ff"/><stop offset="0.2528" stop-color="#009aff"/><stop offset="0.3032" stop-color="#00f1ff"/><stop offset="0.3125" stop-color="#08fff7"/><stop offset="0.3498" stop-color="#71ff8e"/><stop offset="0.3871" stop-color="#fffc00"/><stop offset="0.4431" stop-color="#ff0600"/><stop offset="0.4543" stop-color="#dc0000"/><stop offset="0.4785" stop-color="#9c0000"/><stop offset="0.4991" stop-color="#8a0000"/><stop offset="0.5233" stop-color="#9d0000"/><stop offset="0.5494" stop-color="#d60000"/><stop offset="0.5625" stop-color="#ff0000"/><stop offset="0.6297" stop-color="#fbff04"/><stop offset="0.6744" stop-color="#61ff9e"/><stop offset="0.7118" stop-color="#01fffe"/><stop offset="0.7659" stop-color="#00a1ff"/><stop offset="0.8386" stop-color="#0052ff"/><stop offset="0.9468" stop-color="#000dff"/><stop offset="0.9953" stop-color="#0000f8"/><stop offset="0.9991" stop-color="#0000f7"/></linearGradient><linearGradient id="g52"><stop offset="0.0009" stop-color="#0000ea"/><stop offset="0.0681" stop-color="#0006ff"/><stop offset="0.1744" stop-color="#0049ff"/><stop offset="0.2491" stop-color="#0099ff"/><stop offset="0.3013" stop-color="#00f2ff"/><stop offset="0.3106" stop-color="#08fff7"/><stop offset="0.3479" stop-color="#70ff8f"/><stop offset="0.3853" stop-color="#feff01"/><stop offset="0.4431" stop-color="#ff0400"/><stop offset="0.4729" stop-color="#a60000"/><stop offset="0.4935" stop-color="#8b0000"/><stop offset="0.5177" stop-color="#940000"/><stop offset="0.5438" stop-color="#c50000"/><stop offset="0.5644" stop-color="#ff0300"/><stop offset="0.6315" stop-color="#faff05"/><stop offset="0.6763" stop-color="#62ff9d"/><stop offset="0.7155" stop-color="#00fdff"/><stop offset="0.7677" stop-color="#00a3ff"/><stop offset="0.8405" stop-color="#0054ff"/><stop offset="0.9487" stop-color="#000fff"/><stop offset="0.9991" stop-color="#0000f9"/></linearGradient><linearGradient id="g53"><stop offset="0.0009" stop-color="#0000ec"/><stop offset="0.0644" stop-color="#0006ff"/><stop offset="0.1726" stop-color="#004bff"/><stop offset="0.2491" stop-color="#009dff"/><stop offset="0.2994" stop-color="#00f3ff"/><stop offset="0.3088" stop-color="#08fff7"/><stop offset="0.3479" stop-color="#75ff8a"/><stop offset="0.3853" stop-color="#fffb00"/><stop offset="0.4431" stop-color="#ff0200"/><stop offset="0.4711" stop-color="#aa0000"/><stop offset="0.4916" stop-color="#8b0000"/><stop offset="0.5159" stop-color="#910000"/><stop offset="0.5420" stop-color="#be0000"/><stop offset="0.5644" stop-color="#ff0000"/><stop offset="0.6315" stop-color="#fffe00"/><stop offset="0.6800" stop-color="#5dffa2"/><stop offset="0.7174" stop-color="#00ffff"/><stop offset="0.7696" stop-color="#00a5ff"/><stop offset="0.8424" stop-color="#0056ff"/><stop offset="0.9524" stop-color="#0010ff"/><stop offset="0.9991" stop-color="#0000fb"/></linearGradient><linearGradient id="g54"><stop offset="0.0009" stop-color="#0000ee"/><stop offset="0.0588" stop-color="#0006ff"/><stop offset="0.1670" stop-color="#004aff"/><stop offset="0.2435" stop-color="#0099ff"/><stop offset="0.2957" stop-color="#00efff"/><stop offset="0.3050" stop-color="#04fffb"/><stop offset="0.3442" stop-color="#6eff91"/><stop offset="0.3834" stop-color="#ffff00"/><stop offset="0.4431" stop-color="#ff0000"/><stop offset="0.4692" stop-color="#ad0000"/><stop offset="0.4916" stop-color="#8b0000"/><stop offset="0.5159" stop-color="#900000"/><stop offset="0.5420" stop-color="#bc0000"/><stop offset="0.5662" stop-color="#ff0300"/><stop offset="0.6334" stop-color="#ffff00"/><stop offset="0.6800" stop-color="#63ff9c"/><stop offset="0.7192" stop-color="#02fffd"/><stop offset="0.7771" stop-color="#009fff"/><stop offset="0.8535" stop-color="#0051ff"/><stop offset="0.9674" stop-color="#000cff"/><stop offset="0.9991" stop-color="#0000fd"/></linearGradient><linearGradient id="g55"><stop offset="0.0009" stop-color="#0000f0"/><stop offset="0.0550" stop-color="#0007ff"/><stop offset="0.1651" stop-color="#004bff"/><stop offset="0.2435" stop-color="#009dff"/><stop offset="0.2957" stop-color="#00f4ff"/><stop offset="0.3050" stop-color="#09fff6"/><stop offset="0.3442" stop-color="#73ff8c"/><stop offset="0.3834" stop-color="#fffa00"/><stop offset="0.4412" stop-color="#ff0500"/><stop offset="0.4729" stop-color="#a40000"/><stop offset="0.4953" stop-color="#880000"/><stop offset="0.5196" stop-color="#930000"/><stop offset="0.5476" stop-color="#c80000"/><stop offset="0.5662" stop-color="#ff0000"/><stop offset="0.6353" stop-color="#feff01"/><stop offset="0.6819" stop-color="#64ff9b"/><stop offset="0.7229" stop-color="#00feff"/><stop offset="0.7771" stop-color="#00a4ff"/><stop offset="0.8535" stop-color="#0054ff"/><stop offset="0.9674" stop-color="#000eff"/><stop offset="0.9991" stop-color="#0001ff"/></linearGradient><linearGradient id="g56"><stop offset="0.0009" stop-color="#0000f2"/><stop offset="0.0513" stop-color="#0007ff"/><stop offset="0.1632" stop-color="#004dff"/><stop offset="0.2416" stop-color="#009eff"/><stop offset="0.2957" stop-color="#00f8ff"/><stop offset="0.3050" stop-color="#0dfff2"/><stop offset="0.3442" stop-color="#77ff88"/><stop offset="0.3815" stop-color="#fffe00"/><stop offset="0.4412" stop-color="#ff0300"/><stop offset="0.4711" stop-color="#a70000"/><stop offset="0.4935" stop-color="#890000"/><stop offset="0.5177" stop-color="#910000"/><stop offset="0.5457" stop-color="#c10000"/><stop offset="0.5681" stop-color="#ff0300"/><stop offset="0.6371" stop-color="#fdff02"/><stop offset="0.6838" stop-color="#64ff9b"/><stop offset="0.7248" stop-color="#01fffe"/><stop offset="0.7808" stop-color="#00a3ff"/><stop offset="0.8591" stop-color="#0053ff"/><stop offset="0.9748" stop-color="#000dff"/><stop offset="0.9991" stop-color="#0003ff"/></linearGradient><linearGradient id="g57"><stop offset="0.0009" stop-color="#0000f4"/><stop offset="0.0476" stop-color="#0008ff"/><stop offset="0.1595" stop-color="#004dff"/><stop offset="0.2397" stop-color="#00a0ff"/><stop offset="0.2938" stop-color="#00f8ff"/><stop offset="0.3050" stop-color="#11ffee"/><stop offset="0.3442" stop-color="#7cff83"/><stop offset="0.3797" stop-color="#fdff02"/><stop offset="0.4412" stop-color="#ff0100"/><stop offset="0.4692" stop-color="#aa0000"/><stop offset="0.4916" stop-color="#890000"/><stop offset="0.5159" stop-color="#8e0000"/><stop offset="0.5438" stop-color="#bb0000"/><stop offset="0.5681" stop-color="#ff0000"/><stop offset="0.6390" stop-color="#fcff03"/><stop offset="0.6856" stop-color="#65ff9a"/><stop offset="0.7267" stop-color="#02fffd"/><stop offset="0.7864" stop-color="#00a0ff"/><stop offset="0.8666" stop-color="#0051ff"/><stop offset="0.9860" stop-color="#000bff"/><stop offset="0.9991" stop-color="#0005ff"/></linearGradient><linearGradient id="g58"><stop offset="0.0009" stop-color="#0000f6"/><stop offset="0.0457" stop-color="#0009ff"/><stop offset="0.1576" stop-color="#004fff"/><stop offset="0.2379" stop-color="#00a1ff"/><stop offset="0.2920" stop-color="#00f9ff"/><stop offset="0.3050" stop-color="#16ffe9"/><stop offset="0.3442" stop-color="#80ff7f"/><stop offset="0.3797" stop-color="#fffd00"/><stop offset="0.4412" stop-color="#fe0000"/><stop offset="0.4692" stop-color="#aa0000"/><stop offset="0.4916" stop-color="#890000"/><stop offset="0.5159" stop-color="#8d0000"/><stop offset="0.5438" stop-color="#ba0000"/><stop offset="0.5700" stop-color="#ff0300"/><stop offset="0.6409" stop-color="#fbff04"/><stop offset="0.6875" stop-color="#65ff9a"/><stop offset="0.7304" stop-color="#00ffff"/><stop offset="0.7864" stop-color="#00a4ff"/><stop offset="0.8666" stop-color="#0054ff"/><stop offset="0.9860" stop-color="#000dff"/><stop offset="0.9991" stop-color="#0008ff"/></linearGradient><linearGradient id="g59"><stop offset="0.0009" stop-color="#0000f8"/><stop offset="0.0476" stop-color="#000dff"/><stop offset="0.1595" stop-color="#0053ff"/><stop offset="0.2397" stop-color="#00a7ff"/><stop offset="0.2957" stop-color="#05fffa"/><stop offset="0.3368" stop-color="#6dff92"/><stop offset="0.3778" stop-color="#feff01"/><stop offset="0.4394" stop-color="#ff0400"/><stop offset="0.4711" stop-color="#a50000"/><stop offset="0.4935" stop-color="#870000"/><stop offset="0.5196" stop-color="#900000"/><stop offset="0.5476" stop-color="#c10000"/><stop offset="0.5700" stop-color="#ff0000"/><stop offset="0.6409" stop-color="#fffe00"/><stop offset="0.6912" stop-color="#61ff9e"/><stop offset="0.7323" stop-color="#01fffe"/><stop offset="0.7901" stop-color="#00a4ff"/><stop offset="0.8703" stop-color="#0055ff"/><stop offset="0.9897" stop-color="#000eff"/><stop offset="0.9991" stop-color="#000aff"/></linearGradient><linearGradient id="g60"><stop offset="0.0009" stop-color="#0000fa"/><stop offset="0.0681" stop-color="#0019ff"/><stop offset="0.1744" stop-color="#0063ff"/><stop offset="0.2491" stop-color="#00b7ff"/><stop offset="0.2938" stop-color="#05fffa"/><stop offset="0.3349" stop-color="#6cff93"/><stop offset="0.3778" stop-color="#fffc00"/><stop offset="0.4394" stop-color="#ff0200"/><stop offset="0.4692" stop-color="#a80000"/><stop offset="0.4916" stop-color="#880000"/><stop offset="0.5177" stop-color="#8e0000"/><stop offset="0.5457" stop-color="#bb0000"/><stop offset="0.5718" stop-color="#ff0300"/><stop offset="0.6427" stop-color="#ffff00"/><stop offset="0.6912" stop-color="#66ff99"/><stop offset="0.7341" stop-color="#02fffd"/><stop offset="0.7976" stop-color="#009fff"/><stop offset="0.8815" stop-color="#004fff"/><stop offset="0.9991" stop-color="#000dff"/></linearGradient><linearGradient id="g61"><stop offset="0.0009" stop-color="#0000fc"/><stop offset="0.1035" stop-color="#0030ff"/><stop offset="0.2006" stop-color="#0080ff"/><stop offset="0.2659" stop-color="#00d5ff"/><stop offset="0.2920" stop-color="#05fffa"/><stop offset="0.3330" stop-color="#6bff94"/><stop offset="0.3741" stop-color="#f7ff08"/><stop offset="0.3797" stop-color="#fff100"/><stop offset="0.4394" stop-color="#ff0100"/><stop offset="0.4674" stop-color="#ac0000"/><stop offset="0.4897" stop-color="#890000"/><stop offset="0.5140" stop-color="#8a0000"/><stop offset="0.5420" stop-color="#b10000"/><stop offset="0.5718" stop-color="#ff0000"/><stop offset="0.6446" stop-color="#feff01"/><stop offset="0.6931" stop-color="#67ff98"/><stop offset="0.7379" stop-color="#00ffff"/><stop offset="0.7957" stop-color="#00a5ff"/><stop offset="0.8778" stop-color="#0055ff"/><stop offset="0.9991" stop-color="#000fff"/></linearGradient><linearGradient id="g62"><stop offset="0.0009" stop-color="#0000fe"/><stop offset="0.1185" stop-color="#003dff"/><stop offset="0.2118" stop-color="#008fff"/><stop offset="0.2733" stop-color="#00e5ff"/><stop offset="0.2901" stop-color="#05fffa"/><stop offset="0.3330" stop-color="#6fff90"/><stop offset="0.3759" stop-color="#fffc00"/><stop offset="0.4394" stop-color="#fe0000"/><stop offset="0.4674" stop-color="#ab0000"/><stop offset="0.4916" stop-color="#870000"/><stop offset="0.5177" stop-color="#8c0000"/><stop offset="0.5457" stop-color="#b80000"/><stop offset="0.5737" stop-color="#ff0300"/><stop offset="0.6465" stop-color="#fcff03"/><stop offset="0.6950" stop-color="#67ff98"/><stop offset="0.7397" stop-color="#01fffe"/><stop offset="0.7994" stop-color="#00a4ff"/><stop offset="0.8834" stop-color="#0054ff"/><stop offset="0.9991" stop-color="#0011ff"/></linearGradient><linearGradient id="g63"><stop offset="0.0009" stop-color="#0001ff"/><stop offset="0.1259" stop-color="#0045ff"/><stop offset="0.2155" stop-color="#0096ff"/><stop offset="0.2752" stop-color="#00ecff"/><stop offset="0.2882" stop-color="#05fffa"/><stop offset="0.3312" stop-color="#6dff92"/><stop offset="0.3722" stop-color="#f7ff08"/><stop offset="0.3778" stop-color="#fff100"/><stop offset="0.4375" stop-color="#ff0400"/><stop offset="0.4711" stop-color="#a30000"/><stop offset="0.4935" stop-color="#860000"/><stop offset="0.5196" stop-color="#8e0000"/><stop offset="0.5476" stop-color="#ba0000"/><stop offset="0.5737" stop-color="#ff0100"/><stop offset="0.6483" stop-color="#fbff04"/><stop offset="0.6968" stop-color="#67ff98"/><stop offset="0.7416" stop-color="#02fffd"/><stop offset="0.8069" stop-color="#009fff"/><stop offset="0.8946" stop-color="#004fff"/><stop offset="0.9991" stop-color="#0014ff"/></linearGradient><linearGradient id="g64"><stop offset="0.0009" stop-color="#0003ff"/><stop offset="0.1259" stop-color="#0048ff"/><stop offset="0.2155" stop-color="#009aff"/><stop offset="0.2752" stop-color="#00efff"/><stop offset="0.2864" stop-color="#05fffa"/><stop offset="0.3293" stop-color="#6cff93"/><stop offset="0.3703" stop-color="#f4ff0b"/><stop offset="0.3759" stop-color="#fff500"/><stop offset="0.4375" stop-color="#ff0300"/><stop offset="0.4692" stop-color="#a60000"/><stop offset="0.4935" stop-color="#860000"/><stop offset="0.5196" stop-color="#8d0000"/><stop offset="0.5494" stop-color="#bd0000"/><stop offset="0.5756" stop-color="#ff0400"/><stop offset="0.6483" stop-color="#fffe00"/><stop offset="0.6987" stop-color="#67ff98"/><stop offset="0.7453" stop-color="#00feff"/><stop offset="0.8050" stop-color="#00a5ff"/><stop offset="0.8909" stop-color="#0055ff"/><stop offset="0.9991" stop-color="#0016ff"/></linearGradient><linearGradient id="g65"><stop offset="0.0009" stop-color="#0005ff"/><stop offset="0.1259" stop-color="#004aff"/><stop offset="0.2155" stop-color="#009dff"/><stop offset="0.2752" stop-color="#00f3ff"/><stop offset="0.2864" stop-color="#09fff6"/><stop offset="0.3293" stop-color="#70ff8f"/><stop offset="0.3722" stop-color="#ffff00"/><stop offset="0.4375" stop-color="#ff0100"/><stop offset="0.4674" stop-color="#aa0000"/><stop offset="0.4916" stop-color="#870000"/><stop offset="0.5177" stop-color="#8b0000"/><stop offset="0.5476" stop-color="#b80000"/><stop offset="0.5756" stop-color="#ff0100"/><stop offset="0.6502" stop-color="#feff01"/><stop offset="0.7006" stop-color="#67ff98"/><stop offset="0.7472" stop-color="#00ffff"/><stop offset="0.8088" stop-color="#00a5ff"/><stop offset="0.8965" stop-color="#0054ff"/><stop offset="0.9991" stop-color="#0019ff"/></linearGradient><linearGradient id="g66"><stop offset="0.0009" stop-color="#0007ff"/><stop offset="0.1259" stop-color="#004dff"/><stop offset="0.2155" stop-color="#00a0ff"/><stop offset="0.2752" stop-color="#00f6ff"/><stop offset="0.2864" stop-color="#0cfff3"/><stop offset="0.3293" stop-color="#73ff8c"/><stop offset="0.3722" stop-color="#fffc00"/><stop offset="0.4375" stop-color="#ff0000"/><stop offset="0.4674" stop-color="#a90000"/><stop offset="0.4916" stop-color="#870000"/><stop offset="0.5177" stop-color="#8b0000"/><stop offset="0.5476" stop-color="#b60000"/><stop offset="0.5774" stop-color="#ff0500"/><stop offset="0.6521" stop-color="#fdff02"/><stop offset="0.7024" stop-color="#67ff98"/><stop offset="0.7491" stop-color="#01fffe"/><stop offset="0.8144" stop-color="#00a2ff"/><stop offset="0.9039" stop-color="#0052ff"/><stop offset="0.9991" stop-color="#001bff"/></linearGradient><linearGradient id="g67"><stop offset="0.0009" stop-color="#0009ff"/><stop offset="0.1259" stop-color="#0050ff"/><stop offset="0.2174" stop-color="#00a5ff"/><stop offset="0.2808" stop-color="#05fffa"/><stop offset="0.3256" stop-color="#6dff92"/><stop offset="0.3685" stop-color="#f8ff07"/><stop offset="0.3741" stop-color="#fff200"/><stop offset="0.4375" stop-color="#fd0000"/><stop offset="0.4674" stop-color="#a90000"/><stop offset="0.4916" stop-color="#870000"/><stop offset="0.5177" stop-color="#8a0000"/><stop offset="0.5476" stop-color="#b50000"/><stop offset="0.5774" stop-color="#ff0200"/><stop offset="0.6539" stop-color="#fbff04"/><stop offset="0.7043" stop-color="#67ff98"/><stop offset="0.7509" stop-color="#02fffd"/><stop offset="0.8200" stop-color="#009fff"/><stop offset="0.9132" stop-color="#004eff"/><stop offset="0.9991" stop-color="#001dff"/></linearGradient><linearGradient id="g68"><stop offset="0.0009" stop-color="#000bff"/><stop offset="0.1259" stop-color="#0052ff"/><stop offset="0.2174" stop-color="#00a8ff"/><stop offset="0.2789" stop-color="#05fffa"/><stop offset="0.3237" stop-color="#6bff94"/><stop offset="0.3666" stop-color="#f4ff0b"/><stop offset="0.3722" stop-color="#fff500"/><stop offset="0.4356" stop-color="#ff0400"/><stop offset="0.4692" stop-color="#a50000"/><stop offset="0.4935" stop-color="#860000"/><stop offset="0.5215" stop-color="#8d0000"/><stop offset="0.5513" stop-color="#bc0000"/><stop offset="0.5774" stop-color="#ff0000"/><stop offset="0.6539" stop-color="#fffe00"/><stop offset="0.7062" stop-color="#67ff98"/><stop offset="0.7547" stop-color="#00ffff"/><stop offset="0.8162" stop-color="#00a7ff"/><stop offset="0.9058" stop-color="#0056ff"/><stop offset="0.9991" stop-color="#0020ff"/></linearGradient><linearGradient id="g69"><stop offset="0.0009" stop-color="#000dff"/><stop offset="0.1259" stop-color="#0055ff"/><stop offset="0.2174" stop-color="#00abff"/><stop offset="0.2771" stop-color="#05fffa"/><stop offset="0.3218" stop-color="#69ff96"/><stop offset="0.3647" stop-color="#f1ff0e"/><stop offset="0.3703" stop-color="#fff900"/><stop offset="0.4356" stop-color="#ff0200"/><stop offset="0.4692" stop-color="#a50000"/><stop offset="0.4935" stop-color="#860000"/><stop offset="0.5215" stop-color="#8d0000"/><stop offset="0.5513" stop-color="#bb0000"/><stop offset="0.5793" stop-color="#ff0300"/><stop offset="0.6558" stop-color="#feff01"/><stop offset="0.7062" stop-color="#6cff93"/><stop offset="0.7565" stop-color="#01fffe"/><stop offset="0.8218" stop-color="#00a4ff"/><stop offset="0.9151" stop-color="#0053ff"/><stop offset="0.9991" stop-color="#0022ff"/></linearGradient><linearGradient id="g70"><stop offset="0.0009" stop-color="#000fff"/><stop offset="0.1278" stop-color="#0059ff"/><stop offset="0.2174" stop-color="#00aeff"/><stop offset="0.2752" stop-color="#04fffb"/><stop offset="0.3200" stop-color="#68ff97"/><stop offset="0.3629" stop-color="#edff12"/><stop offset="0.3703" stop-color="#fff600"/><stop offset="0.4356" stop-color="#ff0100"/><stop offset="0.4674" stop-color="#a80000"/><stop offset="0.4916" stop-color="#870000"/><stop offset="0.5196" stop-color="#8b0000"/><stop offset="0.5494" stop-color="#b60000"/><stop offset="0.5793" stop-color="#ff0100"/><stop offset="0.6576" stop-color="#fdff02"/><stop offset="0.7099" stop-color="#67ff98"/><stop offset="0.7584" stop-color="#01fffe"/><stop offset="0.8256" stop-color="#00a3ff"/><stop offset="0.9207" stop-color="#0052ff"/><stop offset="0.9991" stop-color="#0025ff"/></linearGradient><linearGradient id="g71"><stop offset="0.0009" stop-color="#0011ff"/><stop offset="0.1278" stop-color="#005cff"/><stop offset="0.2174" stop-color="#00b1ff"/><stop offset="0.2733" stop-color="#04fffb"/><stop offset="0.3200" stop-color="#6bff94"/><stop offset="0.3629" stop-color="#f0ff0f"/><stop offset="0.3685" stop-color="#fffa00"/><stop offset="0.4356" stop-color="#ff0000"/><stop offset="0.4655" stop-color="#ac0000"/><stop offset="0.4916" stop-color="#870000"/><stop offset="0.5196" stop-color="#8b0000"/><stop offset="0.5494" stop-color="#b50000"/><stop offset="0.5812" stop-color="#ff0400"/><stop offset="0.6595" stop-color="#fbff04"/><stop offset="0.7118" stop-color="#67ff98"/><stop offset="0.7603" stop-color="#02fffd"/><stop offset="0.8312" stop-color="#00a0ff"/><stop offset="0.9282" stop-color="#004fff"/><stop offset="0.9991" stop-color="#0027ff"/></linearGradient><linearGradient id="g72"><stop offset="0.0009" stop-color="#0013ff"/><stop offset="0.1278" stop-color="#005eff"/><stop offset="0.2174" stop-color="#00b4ff"/><stop offset="0.2715" stop-color="#04fffb"/><stop offset="0.3181" stop-color="#69ff96"/><stop offset="0.3610" stop-color="#edff12"/><stop offset="0.3685" stop-color="#fff700"/><stop offset="0.4356" stop-color="#fe0000"/><stop offset="0.4655" stop-color="#ac0000"/><stop offset="0.4916" stop-color="#870000"/><stop offset="0.5196" stop-color="#8b0000"/><stop offset="0.5513" stop-color="#b80000"/><stop offset="0.5812" stop-color="#ff0200"/><stop offset="0.6595" stop-color="#ffff00"/><stop offset="0.7118" stop-color="#6bff94"/><stop offset="0.7621" stop-color="#03fffc"/><stop offset="0.8368" stop-color="#009eff"/><stop offset="0.9375" stop-color="#004cff"/><stop offset="0.9991" stop-color="#0029ff"/></linearGradient><linearGradient id="g73"><stop offset="0.0009" stop-color="#0015ff"/><stop offset="0.1278" stop-color="#0061ff"/><stop offset="0.2174" stop-color="#00b6ff"/><stop offset="0.2696" stop-color="#03fffc"/><stop offset="0.3162" stop-color="#68ff97"/><stop offset="0.3610" stop-color="#f0ff0f"/><stop offset="0.3666" stop-color="#fffb00"/><stop offset="0.4356" stop-color="#fd0000"/><stop offset="0.4655" stop-color="#ab0000"/><stop offset="0.4916" stop-color="#870000"/><stop offset="0.5196" stop-color="#8a0000"/><stop offset="0.5513" stop-color="#b70000"/><stop offset="0.5830" stop-color="#ff0600"/><stop offset="0.6614" stop-color="#feff01"/><stop offset="0.7136" stop-color="#6bff94"/><stop offset="0.7659" stop-color="#00ffff"/><stop offset="0.8312" stop-color="#00a7ff"/><stop offset="0.9282" stop-color="#0055ff"/><stop offset="0.9991" stop-color="#002cff"/></linearGradient><linearGradient id="g74"><stop offset="0.0009" stop-color="#0017ff"/><stop offset="0.1278" stop-color="#0063ff"/><stop offset="0.2174" stop-color="#00b9ff"/><stop offset="0.2677" stop-color="#03fffc"/><stop offset="0.3144" stop-color="#66ff99"/><stop offset="0.3591" stop-color="#ecff13"/><stop offset="0.3666" stop-color="#fff800"/><stop offset="0.4338" stop-color="#ff0300"/><stop offset="0.4692" stop-color="#a40000"/><stop offset="0.4953" stop-color="#850000"/><stop offset="0.5252" stop-color="#8f0000"/><stop offset="0.5569" stop-color="#c10000"/><stop offset="0.5830" stop-color="#ff0400"/><stop offset="0.6632" stop-color="#fcff03"/><stop offset="0.7155" stop-color="#6bff94"/><stop offset="0.7677" stop-color="#01fffe"/><stop offset="0.8368" stop-color="#00a4ff"/><stop offset="0.9356" stop-color="#0053ff"/><stop offset="0.9991" stop-color="#002eff"/></linearGradient><linearGradient id="g75"><stop offset="0.0009" stop-color="#0019ff"/><stop offset="0.1278" stop-color="#0066ff"/><stop offset="0.2174" stop-color="#00bcff"/><stop offset="0.2659" stop-color="#03fffc"/><stop offset="0.3125" stop-color="#64ff9b"/><stop offset="0.3573" stop-color="#e9ff16"/><stop offset="0.3647" stop-color="#fffb00"/><stop offset="0.4338" stop-color="#ff0200"/><stop offset="0.4674" stop-color="#a70000"/><stop offset="0.4935" stop-color="#860000"/><stop offset="0.5233" stop-color="#8d0000"/><stop offset="0.5550" stop-color="#bc0000"/><stop offset="0.5830" stop-color="#ff0100"/><stop offset="0.6651" stop-color="#faff05"/><stop offset="0.7192" stop-color="#66ff99"/><stop offset="0.7696" stop-color="#01fffe"/><stop offset="0.8405" stop-color="#00a3ff"/><stop offset="0.9412" stop-color="#0052ff"/><stop offset="0.9991" stop-color="#0030ff"/></linearGradient><linearGradient id="g76"><stop offset="0.0009" stop-color="#001bff"/><stop offset="0.1297" stop-color="#0069ff"/><stop offset="0.2192" stop-color="#00c0ff"/><stop offset="0.2659" stop-color="#05fffa"/><stop offset="0.3125" stop-color="#67ff98"/><stop offset="0.3573" stop-color="#ecff13"/><stop offset="0.3647" stop-color="#fff900"/><stop offset="0.4338" stop-color="#ff0100"/><stop offset="0.4655" stop-color="#ab0000"/><stop offset="0.4916" stop-color="#870000"/><stop offset="0.5196" stop-color="#8a0000"/><stop offset="0.5513" stop-color="#b40000"/><stop offset="0.5849" stop-color="#ff0500"/><stop offset="0.6651" stop-color="#feff01"/><stop offset="0.7192" stop-color="#6aff95"/><stop offset="0.7715" stop-color="#02fffd"/><stop offset="0.8461" stop-color="#00a0ff"/><stop offset="0.9487" stop-color="#004fff"/><stop offset="0.9991" stop-color="#0033ff"/></linearGradient><linearGradient id="g77"><stop offset="0.0009" stop-color="#001dff"/><stop offset="0.1297" stop-color="#006cff"/><stop offset="0.2192" stop-color="#00c3ff"/><stop offset="0.2640" stop-color="#05fffa"/><stop offset="0.3125" stop-color="#6aff95"/><stop offset="0.3573" stop-color="#efff10"/><stop offset="0.3647" stop-color="#fff600"/><stop offset="0.4338" stop-color="#ff0000"/><stop offset="0.4655" stop-color="#aa0000"/><stop offset="0.4916" stop-color="#870000"/><stop offset="0.5196" stop-color="#8a0000"/><stop offset="0.5513" stop-color="#b30000"/><stop offset="0.5849" stop-color="#ff0300"/><stop offset="0.6670" stop-color="#fdff02"/><stop offset="0.7211" stop-color="#6aff95"/><stop offset="0.7733" stop-color="#03fffc"/><stop offset="0.8498" stop-color="#00a0ff"/><stop offset="0.9543" stop-color="#004eff"/><stop offset="0.9991" stop-color="#0035ff"/></linearGradient><linearGradient id="g78"><stop offset="0.0009" stop-color="#001fff"/><stop offset="0.1297" stop-color="#006eff"/><stop offset="0.2192" stop-color="#00c6ff"/><stop offset="0.2621" stop-color="#04fffb"/><stop offset="0.3106" stop-color="#69ff96"/><stop offset="0.3554" stop-color="#ebff14"/><stop offset="0.3629" stop-color="#fffa00"/><stop offset="0.4338" stop-color="#fe0000"/><stop offset="0.4655" stop-color="#aa0000"/><stop offset="0.4916" stop-color="#870000"/><stop offset="0.5215" stop-color="#8b0000"/><stop offset="0.5532" stop-color="#b50000"/><stop offset="0.5849" stop-color="#ff0100"/><stop offset="0.6688" stop-color="#fbff04"/><stop offset="0.7229" stop-color="#69ff96"/><stop offset="0.7771" stop-color="#00ffff"/><stop offset="0.8442" stop-color="#00a8ff"/><stop offset="0.9450" stop-color="#0057ff"/><stop offset="0.9991" stop-color="#0037ff"/></linearGradient><linearGradient id="g79"><stop offset="0.0009" stop-color="#0021ff"/><stop offset="0.1297" stop-color="#0071ff"/><stop offset="0.2192" stop-color="#00c8ff"/><stop offset="0.2603" stop-color="#04fffb"/><stop offset="0.3088" stop-color="#67ff98"/><stop offset="0.3535" stop-color="#e8ff17"/><stop offset="0.3629" stop-color="#fff700"/><stop offset="0.4338" stop-color="#fd0000"/><stop offset="0.4655" stop-color="#aa0000"/><stop offset="0.4916" stop-color="#870000"/><stop offset="0.5215" stop-color="#8b0000"/><stop offset="0.5532" stop-color="#b50000"/><stop offset="0.5868" stop-color="#ff0400"/><stop offset="0.6688" stop-color="#ffff00"/><stop offset="0.7229" stop-color="#6dff92"/><stop offset="0.7771" stop-color="#03fffc"/><stop offset="0.8573" stop-color="#009eff"/><stop offset="0.9655" stop-color="#004dff"/><stop offset="0.9991" stop-color="#003aff"/></linearGradient><linearGradient id="g80"><stop offset="0.0009" stop-color="#0023ff"/><stop offset="0.1297" stop-color="#0073ff"/><stop offset="0.2192" stop-color="#00caff"/><stop offset="0.2584" stop-color="#03fffc"/><stop offset="0.3069" stop-color="#65ff9a"/><stop offset="0.3517" stop-color="#e4ff1b"/><stop offset="0.3610" stop-color="#fffb00"/><stop offset="0.4319" stop-color="#ff0300"/><stop offset="0.4674" stop-color="#a60000"/><stop offset="0.4935" stop-color="#860000"/><stop offset="0.5233" stop-color="#8c0000"/><stop offset="0.5569" stop-color="#bb0000"/><stop offset="0.5868" stop-color="#ff0200"/><stop offset="0.6707" stop-color="#fdff02"/><stop offset="0.7267" stop-color="#69ff96"/><stop offset="0.7808" stop-color="#01fffe"/><stop offset="0.8535" stop-color="#00a5ff"/><stop offset="0.9599" stop-color="#0052ff"/><stop offset="0.9991" stop-color="#003cff"/></linearGradient><linearGradient id="g81"><stop offset="0.0009" stop-color="#0025ff"/><stop offset="0.1315" stop-color="#0077ff"/><stop offset="0.2192" stop-color="#00cdff"/><stop offset="0.2565" stop-color="#03fffc"/><stop offset="0.3050" stop-color="#63ff9c"/><stop offset="0.3517" stop-color="#e7ff18"/><stop offset="0.3610" stop-color="#fff800"/><stop offset="0.4319" stop-color="#ff0200"/><stop offset="0.4674" stop-color="#a60000"/><stop offset="0.4935" stop-color="#860000"/><stop offset="0.5233" stop-color="#8c0000"/><stop offset="0.5569" stop-color="#ba0000"/><stop offset="0.5886" stop-color="#ff0500"/><stop offset="0.6726" stop-color="#fbff04"/><stop offset="0.7285" stop-color="#68ff97"/><stop offset="0.7826" stop-color="#01fffe"/><stop offset="0.8573" stop-color="#00a4ff"/><stop offset="0.9655" stop-color="#0051ff"/><stop offset="0.9991" stop-color="#003eff"/></linearGradient><linearGradient id="g82"><stop offset="0.0009" stop-color="#0027ff"/><stop offset="0.1315" stop-color="#0079ff"/><stop offset="0.2192" stop-color="#00cfff"/><stop offset="0.2565" stop-color="#05fffa"/><stop offset="0.3050" stop-color="#66ff99"/><stop offset="0.3517" stop-color="#e9ff16"/><stop offset="0.3591" stop-color="#fffc00"/><stop offset="0.4319" stop-color="#ff0100"/><stop offset="0.4655" stop-color="#aa0000"/><stop offset="0.4935" stop-color="#860000"/><stop offset="0.5233" stop-color="#8c0000"/><stop offset="0.5569" stop-color="#b90000"/><stop offset="0.5886" stop-color="#ff0300"/><stop offset="0.6726" stop-color="#ffff00"/><stop offset="0.7285" stop-color="#6cff93"/><stop offset="0.7845" stop-color="#02fffd"/><stop offset="0.8610" stop-color="#00a3ff"/><stop offset="0.9711" stop-color="#0050ff"/><stop offset="0.9991" stop-color="#0040ff"/></linearGradient><linearGradient id="g83"><stop offset="0.0009" stop-color="#0029ff"/><stop offset="0.1315" stop-color="#007bff"/><stop offset="0.2192" stop-color="#00d1ff"/><stop offset="0.2547" stop-color="#05fffa"/><stop offset="0.3050" stop-color="#68ff97"/><stop offset="0.3517" stop-color="#ecff13"/><stop offset="0.3591" stop-color="#fffa00"/><stop offset="0.4319" stop-color="#ff0000"/><stop offset="0.4655" stop-color="#a90000"/><stop offset="0.4935" stop-color="#860000"/><stop offset="0.5233" stop-color="#8b0000"/><stop offset="0.5569" stop-color="#b80000"/><stop offset="0.5886" stop-color="#ff0200"/><stop offset="0.6744" stop-color="#fdff02"/><stop offset="0.7304" stop-color="#6bff94"/><stop offset="0.7864" stop-color="#02fffd"/><stop offset="0.8647" stop-color="#00a2ff"/><stop offset="0.9767" stop-color="#004fff"/><stop offset="0.9991" stop-color="#0043ff"/></linearGradient><linearGradient id="g84"><stop offset="0.0009" stop-color="#002bff"/><stop offset="0.1315" stop-color="#007dff"/><stop offset="0.2192" stop-color="#00d4ff"/><stop offset="0.2528" stop-color="#04fffb"/><stop offset="0.3032" stop-color="#67ff98"/><stop offset="0.3498" stop-color="#e8ff17"/><stop offset="0.3591" stop-color="#fff700"/><stop offset="0.4319" stop-color="#fe0000"/><stop offset="0.4655" stop-color="#a90000"/><stop offset="0.4935" stop-color="#870000"/><stop offset="0.5233" stop-color="#8b0000"/><stop offset="0.5569" stop-color="#b70000"/><stop offset="0.5905" stop-color="#ff0500"/><stop offset="0.6763" stop-color="#fbff04"/><stop offset="0.7323" stop-color="#6bff94"/><stop offset="0.7882" stop-color="#02fffd"/><stop offset="0.8685" stop-color="#00a1ff"/><stop offset="0.9823" stop-color="#004eff"/><stop offset="0.9991" stop-color="#0045ff"/></linearGradient><linearGradient id="g85"><stop offset="0.0009" stop-color="#002dff"/><stop offset="0.1334" stop-color="#0081ff"/><stop offset="0.2211" stop-color="#00d8ff"/><stop offset="0.2509" stop-color="#03fffc"/><stop offset="0.3013" stop-color="#65ff9a"/><stop offset="0.3479" stop-color="#e5ff1a"/><stop offset="0.3573" stop-color="#fffb00"/><stop offset="0.4319" stop-color="#fd0000"/><stop offset="0.4655" stop-color="#a90000"/><stop offset="0.4935" stop-color="#870000"/><stop offset="0.5252" stop-color="#8d0000"/><stop offset="0.5588" stop-color="#ba0000"/><stop offset="0.5905" stop-color="#ff0300"/><stop offset="0.6763" stop-color="#ffff00"/><stop offset="0.7323" stop-color="#6eff91"/><stop offset="0.7882" stop-color="#05fffa"/><stop offset="0.8573" stop-color="#00aeff"/><stop offset="0.9636" stop-color="#005cff"/><stop offset="0.9991" stop-color="#0047ff"/></linearGradient><linearGradient id="g86"><stop offset="0.0009" stop-color="#002fff"/><stop offset="0.1334" stop-color="#0083ff"/><stop offset="0.2192" stop-color="#00d8ff"/><stop offset="0.2509" stop-color="#05fffa"/><stop offset="0.3013" stop-color="#67ff98"/><stop offset="0.3479" stop-color="#e7ff18"/><stop offset="0.3573" stop-color="#fff900"/><stop offset="0.4300" stop-color="#ff0300"/><stop offset="0.4674" stop-color="#a60000"/><stop offset="0.4953" stop-color="#860000"/><stop offset="0.5271" stop-color="#8e0000"/><stop offset="0.5606" stop-color="#bd0000"/><stop offset="0.5905" stop-color="#ff0100"/><stop offset="0.6782" stop-color="#fdff02"/><stop offset="0.7360" stop-color="#6aff95"/><stop offset="0.7920" stop-color="#03fffc"/><stop offset="0.8741" stop-color="#00a1ff"/><stop offset="0.9897" stop-color="#004eff"/><stop offset="0.9991" stop-color="#0049ff"/></linearGradient><linearGradient id="g87"><stop offset="0.0009" stop-color="#0030ff"/><stop offset="0.1334" stop-color="#0085ff"/><stop offset="0.2192" stop-color="#00daff"/><stop offset="0.2491" stop-color="#05fffa"/><stop offset="0.2994" stop-color="#65ff9a"/><stop offset="0.3461" stop-color="#e4ff1b"/><stop offset="0.3554" stop-color="#fffd00"/><stop offset="0.4300" stop-color="#ff0200"/><stop offset="0.4674" stop-color="#a60000"/><stop offset="0.4953" stop-color="#860000"/><stop offset="0.5271" stop-color="#8e0000"/><stop offset="0.5625" stop-color="#bf0000"/><stop offset="0.5924" stop-color="#ff0400"/><stop offset="0.6800" stop-color="#fbff04"/><stop offset="0.7379" stop-color="#69ff96"/><stop offset="0.7957" stop-color="#00ffff"/><stop offset="0.8685" stop-color="#00a9ff"/><stop offset="0.9804" stop-color="#0056ff"/><stop offset="0.9991" stop-color="#004bff"/></linearGradient><linearGradient id="g88"><stop offset="0.0009" stop-color="#0032ff"/><stop offset="0.1334" stop-color="#0087ff"/><stop offset="0.2192" stop-color="#00dcff"/><stop offset="0.2472" stop-color="#04fffb"/><stop offset="0.2976" stop-color="#63ff9c"/><stop offset="0.3442" stop-color="#e0ff1f"/><stop offset="0.3554" stop-color="#fffa00"/><stop offset="0.4300" stop-color="#ff0100"/><stop offset="0.4655" stop-color="#a90000"/><stop offset="0.4935" stop-color="#870000"/><stop offset="0.5252" stop-color="#8c0000"/><stop offset="0.5606" stop-color="#bb0000"/><stop offset="0.5924" stop-color="#ff0300"/><stop offset="0.6800" stop-color="#feff01"/><stop offset="0.7379" stop-color="#6cff93"/><stop offset="0.7957" stop-color="#03fffc"/><stop offset="0.8797" stop-color="#00a1ff"/><stop offset="0.9972" stop-color="#004eff"/><stop offset="0.9991" stop-color="#004dff"/></linearGradient><linearGradient id="g89"><stop offset="0.0009" stop-color="#0034ff"/><stop offset="0.1353" stop-color="#008aff"/><stop offset="0.2211" stop-color="#00e0ff"/><stop offset="0.2472" stop-color="#06fff9"/><stop offset="0.2976" stop-color="#65ff9a"/><stop offset="0.3461" stop-color="#e8ff17"/><stop offset="0.3554" stop-color="#fff800"/><stop offset="0.4300" stop-color="#ff0100"/><stop offset="0.4655" stop-color="#a90000"/><stop offset="0.4935" stop-color="#870000"/><stop offset="0.5252" stop-color="#8c0000"/><stop offset="0.5606" stop-color="#ba0000"/><stop offset="0.5924" stop-color="#ff0100"/><stop offset="0.6819" stop-color="#fcff03"/><stop offset="0.7397" stop-color="#6cff93"/><stop offset="0.7976" stop-color="#03fffc"/><stop offset="0.8834" stop-color="#00a0ff"/><stop offset="0.9991" stop-color="#0050ff"/></linearGradient><linearGradient id="g90"><stop offset="0.0009" stop-color="#0036ff"/><stop offset="0.1353" stop-color="#008cff"/><stop offset="0.2211" stop-color="#00e2ff"/><stop offset="0.2453" stop-color="#05fffa"/><stop offset="0.2976" stop-color="#68ff97"/><stop offset="0.3461" stop-color="#ebff14"/><stop offset="0.3535" stop-color="#fffc00"/><stop offset="0.4300" stop-color="#ff0000"/><stop offset="0.4636" stop-color="#ac0000"/><stop offset="0.4916" stop-color="#880000"/><stop offset="0.5233" stop-color="#8b0000"/><stop offset="0.5588" stop-color="#b60000"/><stop offset="0.5942" stop-color="#ff0400"/><stop offset="0.6838" stop-color="#faff05"/><stop offset="0.7416" stop-color="#6bff94"/><stop offset="0.7994" stop-color="#03fffc"/><stop offset="0.8853" stop-color="#00a0ff"/><stop offset="0.9991" stop-color="#0052ff"/></linearGradient><linearGradient id="g91"><stop offset="0.0009" stop-color="#0038ff"/><stop offset="0.1353" stop-color="#008eff"/><stop offset="0.2192" stop-color="#00e2ff"/><stop offset="0.2435" stop-color="#04fffb"/><stop offset="0.2957" stop-color="#66ff99"/><stop offset="0.3442" stop-color="#e7ff18"/><stop offset="0.3535" stop-color="#fffa00"/><stop offset="0.4300" stop-color="#fe0000"/><stop offset="0.4636" stop-color="#ac0000"/><stop offset="0.4916" stop-color="#880000"/><stop offset="0.5233" stop-color="#8b0000"/><stop offset="0.5588" stop-color="#b50000"/><stop offset="0.5942" stop-color="#ff0300"/><stop offset="0.6838" stop-color="#fdff02"/><stop offset="0.7435" stop-color="#6aff95"/><stop offset="0.8013" stop-color="#03fffc"/><stop offset="0.8871" stop-color="#00a1ff"/><stop offset="0.9991" stop-color="#0054ff"/></linearGradient><linearGradient id="g92"><stop offset="0.0009" stop-color="#0039ff"/><stop offset="0.1371" stop-color="#0091ff"/><stop offset="0.2211" stop-color="#00e6ff"/><stop offset="0.2435" stop-color="#06fff9"/><stop offset="0.2957" stop-color="#68ff97"/><stop offset="0.3442" stop-color="#e9ff16"/><stop offset="0.3535" stop-color="#fff800"/><stop offset="0.4300" stop-color="#fe0000"/><stop offset="0.4655" stop-color="#a90000"/><stop offset="0.4935" stop-color="#880000"/><stop offset="0.5252" stop-color="#8c0000"/><stop offset="0.5606" stop-color="#b80000"/><stop offset="0.5942" stop-color="#ff0100"/><stop offset="0.6856" stop-color="#fbff04"/><stop offset="0.7453" stop-color="#69ff96"/><stop offset="0.8050" stop-color="#00ffff"/><stop offset="0.8815" stop-color="#00a8ff"/><stop offset="0.9991" stop-color="#0056ff"/></linearGradient><linearGradient id="g93"><stop offset="0.0009" stop-color="#003bff"/><stop offset="0.1371" stop-color="#0093ff"/><stop offset="0.2211" stop-color="#00e8ff"/><stop offset="0.2416" stop-color="#05fffa"/><stop offset="0.2938" stop-color="#66ff99"/><stop offset="0.3424" stop-color="#e6ff19"/><stop offset="0.3517" stop-color="#fffc00"/><stop offset="0.4300" stop-color="#fd0000"/><stop offset="0.4655" stop-color="#a90000"/><stop offset="0.4953" stop-color="#870000"/><stop offset="0.5289" stop-color="#8e0000"/><stop offset="0.5644" stop-color="#be0000"/><stop offset="0.5961" stop-color="#ff0400"/><stop offset="0.6856" stop-color="#feff01"/><stop offset="0.7453" stop-color="#6cff93"/><stop offset="0.8050" stop-color="#03fffc"/><stop offset="0.8927" stop-color="#00a0ff"/><stop offset="0.9991" stop-color="#0058ff"/></linearGradient><linearGradient id="g94"><stop offset="0.0009" stop-color="#003dff"/><stop offset="0.1371" stop-color="#0094ff"/><stop offset="0.2211" stop-color="#00e9ff"/><stop offset="0.2397" stop-color="#04fffb"/><stop offset="0.2920" stop-color="#63ff9c"/><stop offset="0.3405" stop-color="#e2ff1d"/><stop offset="0.3517" stop-color="#fffa00"/><stop offset="0.4282" stop-color="#ff0300"/><stop offset="0.4674" stop-color="#a50000"/><stop offset="0.4953" stop-color="#870000"/><stop offset="0.5289" stop-color="#8e0000"/><stop offset="0.5644" stop-color="#bd0000"/><stop offset="0.5961" stop-color="#ff0300"/><stop offset="0.6875" stop-color="#fcff03"/><stop offset="0.7472" stop-color="#6bff94"/><stop offset="0.8069" stop-color="#03fffc"/><stop offset="0.8946" stop-color="#00a1ff"/><stop offset="0.9991" stop-color="#0059ff"/></linearGradient><linearGradient id="g95"><stop offset="0.0009" stop-color="#003eff"/><stop offset="0.1371" stop-color="#0096ff"/><stop offset="0.2192" stop-color="#00e9ff"/><stop offset="0.2397" stop-color="#06fff9"/><stop offset="0.2920" stop-color="#65ff9a"/><stop offset="0.3405" stop-color="#e4ff1b"/><stop offset="0.3517" stop-color="#fff800"/><stop offset="0.4282" stop-color="#ff0200"/><stop offset="0.4655" stop-color="#a90000"/><stop offset="0.4953" stop-color="#870000"/><stop offset="0.5289" stop-color="#8e0000"/><stop offset="0.5644" stop-color="#bc0000"/><stop offset="0.5961" stop-color="#ff0100"/><stop offset="0.6894" stop-color="#faff05"/><stop offset="0.7491" stop-color="#6aff95"/><stop offset="0.8088" stop-color="#03fffc"/><stop offset="0.8965" stop-color="#00a1ff"/><stop offset="0.9991" stop-color="#005bff"/></linearGradient><linearGradient id="g96"><stop offset="0.0009" stop-color="#0040ff"/><stop offset="0.1371" stop-color="#0098ff"/><stop offset="0.2192" stop-color="#00eaff"/><stop offset="0.2379" stop-color="#05fffa"/><stop offset="0.2901" stop-color="#63ff9c"/><stop offset="0.3386" stop-color="#e0ff1f"/><stop offset="0.3498" stop-color="#fffc00"/><stop offset="0.4282" stop-color="#ff0100"/><stop offset="0.4655" stop-color="#a90000"/><stop offset="0.4953" stop-color="#870000"/><stop offset="0.5289" stop-color="#8e0000"/><stop offset="0.5662" stop-color="#bf0000"/><stop offset="0.5979" stop-color="#ff0500"/><stop offset="0.6894" stop-color="#fdff02"/><stop offset="0.7491" stop-color="#6dff92"/><stop offset="0.8088" stop-color="#05fffa"/><stop offset="0.8946" stop-color="#00a5ff"/><stop offset="0.9991" stop-color="#005dff"/></linearGradient><linearGradient id="g97"><stop offset="0.0009" stop-color="#0042ff"/><stop offset="0.1390" stop-color="#009bff"/><stop offset="0.2211" stop-color="#00eeff"/><stop offset="0.2379" stop-color="#07fff8"/><stop offset="0.2901" stop-color="#65ff9a"/><stop offset="0.3405" stop-color="#e8ff17"/><stop offset="0.3498" stop-color="#fffa00"/><stop offset="0.4282" stop-color="#ff0100"/><stop offset="0.4655" stop-color="#a90000"/><stop offset="0.4953" stop-color="#880000"/><stop offset="0.5289" stop-color="#8e0000"/><stop offset="0.5662" stop-color="#be0000"/><stop offset="0.5979" stop-color="#ff0300"/><stop offset="0.6912" stop-color="#fbff04"/><stop offset="0.7509" stop-color="#6cff93"/><stop offset="0.8106" stop-color="#05fffa"/><stop offset="0.9076" stop-color="#009cff"/><stop offset="0.9991" stop-color="#005fff"/></linearGradient><linearGradient id="g98"><stop offset="0.0009" stop-color="#0043ff"/><stop offset="0.1390" stop-color="#009cff"/><stop offset="0.2211" stop-color="#00f0ff"/><stop offset="0.2360" stop-color="#05fffa"/><stop offset="0.2882" stop-color="#63ff9c"/><stop offset="0.3386" stop-color="#e4ff1b"/><stop offset="0.3498" stop-color="#fff800"/><stop offset="0.4282" stop-color="#ff0000"/><stop offset="0.4636" stop-color="#ac0000"/><stop offset="0.4935" stop-color="#890000"/><stop offset="0.5271" stop-color="#8d0000"/><stop offset="0.5644" stop-color="#ba0000"/><stop offset="0.5979" stop-color="#ff0200"/><stop offset="0.6912" stop-color="#feff01"/><stop offset="0.7528" stop-color="#6bff94"/><stop offset="0.8125" stop-color="#05fffa"/><stop offset="0.9076" stop-color="#009eff"/><stop offset="0.9991" stop-color="#0061ff"/></linearGradient><linearGradient id="g99"><stop offset="0.0009" stop-color="#0045ff"/><stop offset="0.1390" stop-color="#009eff"/><stop offset="0.2192" stop-color="#00efff"/><stop offset="0.2360" stop-color="#07fff8"/><stop offset="0.2882" stop-color="#65ff9a"/><stop offset="0.3386" stop-color="#e6ff19"/><stop offset="0.3479" stop-color="#fffc00"/><stop offset="0.4282" stop-color="#ff0000"/><stop offset="0.4636" stop-color="#ac0000"/><stop offset="0.4935" stop-color="#890000"/><stop offset="0.5271" stop-color="#8d0000"/><stop offset="0.5644" stop-color="#ba0000"/><stop offset="0.5998" stop-color="#ff0500"/><stop offset="0.6931" stop-color="#fcff03"/><stop offset="0.7547" stop-color="#6aff95"/><stop offset="0.8162" stop-color="#02fffd"/><stop offset="0.9021" stop-color="#00a5ff"/><stop offset="0.9991" stop-color="#0062ff"/></linearGradient><linearGradient id="g100"><stop offset="0.0009" stop-color="#0046ff"/><stop offset="0.1390" stop-color="#009fff"/><stop offset="0.2192" stop-color="#00f0ff"/><stop offset="0.2341" stop-color="#06fff9"/><stop offset="0.2882" stop-color="#66ff99"/><stop offset="0.3386" stop-color="#e8ff17"/><stop offset="0.3479" stop-color="#fffa00"/><stop offset="0.4282" stop-color="#fe0000"/><stop offset="0.4636" stop-color="#ac0000"/><stop offset="0.4935" stop-color="#890000"/><stop offset="0.5271" stop-color="#8d0000"/><stop offset="0.5644" stop-color="#b90000"/><stop offset="0.5998" stop-color="#ff0400"/><stop offset="0.6931" stop-color="#ffff00"/><stop offset="0.7547" stop-color="#6dff92"/><stop offset="0.8162" stop-color="#04fffb"/><stop offset="0.9114" stop-color="#009fff"/><stop offset="0.9991" stop-color="#0064ff"/></linearGradient><linearGradient id="g101"><stop offset="0.0009" stop-color="#0048ff"/><stop offset="0.1390" stop-color="#00a0ff"/><stop offset="0.2192" stop-color="#00f2ff"/><stop offset="0.2341" stop-color="#07fff8"/><stop offset="0.2882" stop-color="#68ff97"/><stop offset="0.3386" stop-color="#e9ff16"/><stop offset="0.3479" stop-color="#fff900"/><stop offset="0.4282" stop-color="#fe0000"/><stop offset="0.4636" stop-color="#ac0000"/><stop offset="0.4935" stop-color="#890000"/><stop offset="0.5271" stop-color="#8d0000"/><stop offset="0.5644" stop-color="#b90000"/><stop offset="0.5998" stop-color="#ff0200"/><stop offset="0.6950" stop-color="#fcff03"/><stop offset="0.7565" stop-color="#6cff93"/><stop offset="0.8181" stop-color="#04fffb"/><stop offset="0.9114" stop-color="#00a1ff"/><stop offset="0.9991" stop-color="#0066ff"/></linearGradient><linearGradient id="g102"><stop offset="0.0009" stop-color="#0049ff"/><stop offset="0.1409" stop-color="#00a3ff"/><stop offset="0.2211" stop-color="#00f6ff"/><stop offset="0.2341" stop-color="#09fff6"/><stop offset="0.2882" stop-color="#6aff95"/><stop offset="0.3386" stop-color="#ebff14"/><stop offset="0.3479" stop-color="#fff700"/><stop offset="0.4282" stop-color="#fd0000"/><stop offset="0.4636" stop-color="#ac0000"/><stop offset="0.4935" stop-color="#8a0000"/><stop offset="0.5271" stop-color="#8d0000"/><stop offset="0.5644" stop-color="#b80000"/><stop offset="0.6017" stop-color="#ff0600"/><stop offset="0.6968" stop-color="#faff05"/><stop offset="0.7584" stop-color="#6bff94"/><stop offset="0.8200" stop-color="#03fffc"/><stop offset="0.9114" stop-color="#00a2ff"/><stop offset="0.9991" stop-color="#0067ff"/></linearGradient><linearGradient id="g103"><stop offset="0.0009" stop-color="#004bff"/><stop offset="0.1409" stop-color="#00a4ff"/><stop offset="0.2192" stop-color="#00f4ff"/><stop offset="0.2341" stop-color="#0afff5"/><stop offset="0.2882" stop-color="#6bff94"/><stop offset="0.3386" stop-color="#edff12"/><stop offset="0.3461" stop-color="#fffb00"/><stop offset="0.4263" stop-color="#ff0300"/><stop offset="0.4674" stop-color="#a60000"/><stop offset="0.4972" stop-color="#880000"/><stop offset="0.5326" stop-color="#910000"/><stop offset="0.5700" stop-color="#c10000"/><stop offset="0.6017" stop-color="#ff0400"/><stop offset="0.6968" stop-color="#fdff02"/><stop offset="0.7603" stop-color="#6aff95"/><stop offset="0.8218" stop-color="#03fffc"/><stop offset="0.9132" stop-color="#00a2ff"/><stop offset="0.9991" stop-color="#0069ff"/></linearGradient><linearGradient id="g104"><stop offset="0.0009" stop-color="#004cff"/><stop offset="0.1409" stop-color="#00a6ff"/><stop offset="0.2192" stop-color="#00f6ff"/><stop offset="0.2341" stop-color="#0bfff4"/><stop offset="0.2882" stop-color="#6dff92"/><stop offset="0.3405" stop-color="#f4ff0b"/><stop offset="0.3461" stop-color="#fffa00"/><stop offset="0.4263" stop-color="#ff0300"/><stop offset="0.4674" stop-color="#a60000"/><stop offset="0.4972" stop-color="#890000"/><stop offset="0.5326" stop-color="#910000"/><stop offset="0.5718" stop-color="#c40000"/><stop offset="0.6017" stop-color="#ff0300"/><stop offset="0.6987" stop-color="#faff05"/><stop offset="0.7621" stop-color="#68ff97"/><stop offset="0.8237" stop-color="#03fffc"/><stop offset="0.9132" stop-color="#00a4ff"/><stop offset="0.9991" stop-color="#006bff"/></linearGradient><linearGradient id="g105"><stop offset="0.0009" stop-color="#004dff"/><stop offset="0.1409" stop-color="#00a7ff"/><stop offset="0.2192" stop-color="#00f7ff"/><stop offset="0.2341" stop-color="#0dfff2"/><stop offset="0.2882" stop-color="#6fff90"/><stop offset="0.3405" stop-color="#f5ff0a"/><stop offset="0.3479" stop-color="#fff300"/><stop offset="0.4263" stop-color="#ff0200"/><stop offset="0.4674" stop-color="#a70000"/><stop offset="0.4972" stop-color="#890000"/><stop offset="0.5326" stop-color="#910000"/><stop offset="0.5718" stop-color="#c30000"/><stop offset="0.6017" stop-color="#ff0200"/><stop offset="0.6987" stop-color="#fdff02"/><stop offset="0.7621" stop-color="#6bff94"/><stop offset="0.8237" stop-color="#05fffa"/><stop offset="0.9207" stop-color="#00a0ff"/><stop offset="0.9991" stop-color="#006cff"/></linearGradient><linearGradient id="g106"><stop offset="0.0009" stop-color="#004fff"/><stop offset="0.1409" stop-color="#00a8ff"/><stop offset="0.2192" stop-color="#00f8ff"/><stop offset="0.2360" stop-color="#11ffee"/><stop offset="0.2882" stop-color="#70ff8f"/><stop offset="0.3405" stop-color="#f7ff08"/><stop offset="0.3479" stop-color="#fff100"/><stop offset="0.4263" stop-color="#ff0200"/><stop offset="0.4655" stop-color="#aa0000"/><stop offset="0.4972" stop-color="#890000"/><stop offset="0.5326" stop-color="#910000"/><stop offset="0.5718" stop-color="#c30000"/><stop offset="0.6035" stop-color="#ff0500"/><stop offset="0.7006" stop-color="#fbff04"/><stop offset="0.7640" stop-color="#6aff95"/><stop offset="0.8256" stop-color="#04fffb"/><stop offset="0.9207" stop-color="#00a1ff"/><stop offset="0.9991" stop-color="#006eff"/></linearGradient><linearGradient id="g107"><stop offset="0.0009" stop-color="#0050ff"/><stop offset="0.1409" stop-color="#00a9ff"/><stop offset="0.2192" stop-color="#00f9ff"/><stop offset="0.2435" stop-color="#1dffe2"/><stop offset="0.2957" stop-color="#82ff7d"/><stop offset="0.3442" stop-color="#fffb00"/><stop offset="0.4263" stop-color="#ff0100"/><stop offset="0.4655" stop-color="#aa0000"/><stop offset="0.4972" stop-color="#890000"/><stop offset="0.5326" stop-color="#910000"/><stop offset="0.5718" stop-color="#c20000"/><stop offset="0.6035" stop-color="#ff0400"/><stop offset="0.7006" stop-color="#fdff02"/><stop offset="0.7640" stop-color="#6cff93"/><stop offset="0.8256" stop-color="#06fff9"/><stop offset="0.8591" stop-color="#00dcff"/><stop offset="0.9524" stop-color="#008cff"/><stop offset="0.9991" stop-color="#006fff"/></linearGradient><linearGradient id="g108"><stop offset="0.0009" stop-color="#0051ff"/><stop offset="0.1409" stop-color="#00aaff"/><stop offset="0.2192" stop-color="#00faff"/><stop offset="0.2565" stop-color="#34ffcb"/><stop offset="0.3088" stop-color="#a3ff5c"/><stop offset="0.3424" stop-color="#ffff00"/><stop offset="0.4263" stop-color="#ff0100"/><stop offset="0.4655" stop-color="#aa0000"/><stop offset="0.4972" stop-color="#8a0000"/><stop offset="0.5326" stop-color="#920000"/><stop offset="0.5718" stop-color="#c20000"/><stop offset="0.6035" stop-color="#ff0300"/><stop offset="0.7024" stop-color="#fbff04"/><stop offset="0.7659" stop-color="#6bff94"/><stop offset="0.8293" stop-color="#03fffc"/><stop offset="0.9207" stop-color="#00a4ff"/><stop offset="0.9991" stop-color="#0070ff"/></linearGradient><linearGradient id="g109"><stop offset="0.0009" stop-color="#0052ff"/><stop offset="0.1409" stop-color="#00abff"/><stop offset="0.2174" stop-color="#00f9ff"/><stop offset="0.2379" stop-color="#17ffe8"/><stop offset="0.2901" stop-color="#78ff87"/><stop offset="0.3424" stop-color="#fffe00"/><stop offset="0.4263" stop-color="#ff0100"/><stop offset="0.4655" stop-color="#ab0000"/><stop offset="0.4972" stop-color="#8a0000"/><stop offset="0.5326" stop-color="#920000"/><stop offset="0.5718" stop-color="#c20000"/><stop offset="0.6035" stop-color="#ff0200"/><stop offset="0.7024" stop-color="#fdff02"/><stop offset="0.7659" stop-color="#6dff92"/><stop offset="0.8293" stop-color="#05fffa"/><stop offset="0.9282" stop-color="#00a0ff"/><stop offset="0.9991" stop-color="#0072ff"/></linearGradient><linearGradient id="g110"><stop offset="0.0009" stop-color="#0054ff"/><stop offset="0.1409" stop-color="#00acff"/><stop offset="0.2174" stop-color="#00faff"/><stop offset="0.2491" stop-color="#2affd5"/><stop offset="0.3013" stop-color="#94ff6b"/><stop offset="0.3424" stop-color="#fffc00"/><stop offset="0.4263" stop-color="#ff0100"/><stop offset="0.4655" stop-color="#ab0000"/><stop offset="0.4972" stop-color="#8b0000"/><stop offset="0.5326" stop-color="#920000"/><stop offset="0.5718" stop-color="#c10000"/><stop offset="0.6054" stop-color="#ff0500"/><stop offset="0.7043" stop-color="#fbff04"/><stop offset="0.7696" stop-color="#68ff97"/><stop offset="0.8330" stop-color="#02fffd"/><stop offset="0.9188" stop-color="#00a9ff"/><stop offset="0.9991" stop-color="#0073ff"/></linearGradient><linearGradient id="g111"><stop offset="0.0009" stop-color="#0055ff"/><stop offset="0.1409" stop-color="#00adff"/><stop offset="0.2174" stop-color="#00fbff"/><stop offset="0.2584" stop-color="#3bffc4"/><stop offset="0.3106" stop-color="#acff53"/><stop offset="0.3424" stop-color="#fffb00"/><stop offset="0.4263" stop-color="#ff0000"/><stop offset="0.4655" stop-color="#ab0000"/><stop offset="0.4972" stop-color="#8b0000"/><stop offset="0.5326" stop-color="#920000"/><stop offset="0.5718" stop-color="#c10000"/><stop offset="0.6054" stop-color="#ff0400"/><stop offset="0.7043" stop-color="#fdff02"/><stop offset="0.7696" stop-color="#6aff95"/><stop offset="0.8330" stop-color="#03fffc"/><stop offset="0.9263" stop-color="#00a4ff"/><stop offset="0.9991" stop-color="#0074ff"/></linearGradient><linearGradient id="g112"><stop offset="0.0009" stop-color="#0056ff"/><stop offset="0.1409" stop-color="#00aeff"/><stop offset="0.2174" stop-color="#00fcff"/><stop offset="0.2640" stop-color="#47ffb8"/><stop offset="0.3162" stop-color="#bcff43"/><stop offset="0.3424" stop-color="#fffa00"/><stop offset="0.4263" stop-color="#ff0000"/><stop offset="0.4636" stop-color="#ae0000"/><stop offset="0.4953" stop-color="#8c0000"/><stop offset="0.5308" stop-color="#910000"/><stop offset="0.5700" stop-color="#bd0000"/><stop offset="0.6054" stop-color="#ff0300"/><stop offset="0.7062" stop-color="#faff05"/><stop offset="0.7715" stop-color="#69ff96"/><stop offset="0.8349" stop-color="#03fffc"/><stop offset="0.9263" stop-color="#00a5ff"/><stop offset="0.9991" stop-color="#0076ff"/></linearGradient><linearGradient id="g113"><stop offset="0.0009" stop-color="#0057ff"/><stop offset="0.1409" stop-color="#00aeff"/><stop offset="0.2174" stop-color="#00fdff"/><stop offset="0.2659" stop-color="#4bffb4"/><stop offset="0.3181" stop-color="#c2ff3d"/><stop offset="0.3405" stop-color="#fffe00"/><stop offset="0.4263" stop-color="#ff0000"/><stop offset="0.4636" stop-color="#af0000"/><stop offset="0.4953" stop-color="#8d0000"/><stop offset="0.5308" stop-color="#910000"/><stop offset="0.5700" stop-color="#bd0000"/><stop offset="0.6054" stop-color="#ff0200"/><stop offset="0.7062" stop-color="#fdff02"/><stop offset="0.7715" stop-color="#6bff94"/><stop offset="0.8349" stop-color="#04fffb"/><stop offset="0.9319" stop-color="#00a2ff"/><stop offset="0.9991" stop-color="#0077ff"/></linearGradient><linearGradient id="g114"><stop offset="0.0009" stop-color="#0058ff"/><stop offset="0.1409" stop-color="#00afff"/><stop offset="0.2211" stop-color="#04fffb"/><stop offset="0.2771" stop-color="#63ff9c"/><stop offset="0.3312" stop-color="#e7ff18"/><stop offset="0.3405" stop-color="#fffd00"/><stop offset="0.4263" stop-color="#ff0000"/><stop offset="0.4636" stop-color="#af0000"/><stop offset="0.4953" stop-color="#8d0000"/><stop offset="0.5308" stop-color="#920000"/><stop offset="0.5700" stop-color="#bd0000"/><stop offset="0.6054" stop-color="#ff0100"/><stop offset="0.7080" stop-color="#faff05"/><stop offset="0.7733" stop-color="#69ff96"/><stop offset="0.8368" stop-color="#03fffc"/><stop offset="0.9319" stop-color="#00a4ff"/><stop offset="0.9991" stop-color="#0078ff"/></linearGradient><linearGradient id="g115"><stop offset="0.0009" stop-color="#0059ff"/><stop offset="0.1409" stop-color="#00b0ff"/><stop offset="0.2155" stop-color="#00fcff"/><stop offset="0.2621" stop-color="#46ffb9"/><stop offset="0.3144" stop-color="#bbff44"/><stop offset="0.3405" stop-color="#fffc00"/><stop offset="0.4263" stop-color="#ff0000"/><stop offset="0.4636" stop-color="#af0000"/><stop offset="0.4953" stop-color="#8e0000"/><stop offset="0.5308" stop-color="#920000"/><stop offset="0.5700" stop-color="#bd0000"/><stop offset="0.6073" stop-color="#ff0500"/><stop offset="0.7080" stop-color="#fcff03"/><stop offset="0.7733" stop-color="#6bff94"/><stop offset="0.8368" stop-color="#05fffa"/><stop offset="0.9375" stop-color="#00a1ff"/><stop offset="0.9991" stop-color="#0079ff"/></linearGradient><linearGradient id="g116"><stop offset="0.0009" stop-color="#005aff"/><stop offset="0.1409" stop-color="#00b0ff"/><stop offset="0.2211" stop-color="#05fffa"/><stop offset="0.2771" stop-color="#65ff9a"/><stop offset="0.3312" stop-color="#e9ff16"/><stop offset="0.3405" stop-color="#fffa00"/><stop offset="0.4263" stop-color="#ff0000"/><stop offset="0.4636" stop-color="#b00000"/><stop offset="0.4953" stop-color="#8e0000"/><stop offset="0.5308" stop-color="#920000"/><stop offset="0.5700" stop-color="#bd0000"/><stop offset="0.6073" stop-color="#ff0400"/><stop offset="0.7080" stop-color="#feff01"/><stop offset="0.7752" stop-color="#69ff96"/><stop offset="0.8405" stop-color="#02fffd"/><stop offset="0.9282" stop-color="#00a9ff"/><stop offset="0.9991" stop-color="#007aff"/></linearGradient><linearGradient id="g117"><stop offset="0.0009" stop-color="#005aff"/><stop offset="0.1390" stop-color="#00afff"/><stop offset="0.2136" stop-color="#00fbff"/><stop offset="0.2565" stop-color="#3effc1"/><stop offset="0.3088" stop-color="#afff50"/><stop offset="0.3386" stop-color="#ffff00"/><stop offset="0.4263" stop-color="#ff0000"/><stop offset="0.4655" stop-color="#ad0000"/><stop offset="0.4972" stop-color="#8e0000"/><stop offset="0.5345" stop-color="#950000"/><stop offset="0.5756" stop-color="#c50000"/><stop offset="0.6073" stop-color="#ff0300"/><stop offset="0.7099" stop-color="#fcff03"/><stop offset="0.7771" stop-color="#68ff97"/><stop offset="0.8424" stop-color="#01fffe"/><stop offset="0.9263" stop-color="#00abff"/><stop offset="0.9991" stop-color="#007bff"/></linearGradient><linearGradient id="g118"><stop offset="0.0009" stop-color="#005bff"/><stop offset="0.1390" stop-color="#00b0ff"/><stop offset="0.2136" stop-color="#00fcff"/><stop offset="0.2584" stop-color="#42ffbd"/><stop offset="0.3106" stop-color="#b5ff4a"/><stop offset="0.3386" stop-color="#fffe00"/><stop offset="0.4263" stop-color="#ff0000"/><stop offset="0.4655" stop-color="#ae0000"/><stop offset="0.4991" stop-color="#8e0000"/><stop offset="0.5364" stop-color="#970000"/><stop offset="0.5774" stop-color="#c80000"/><stop offset="0.6073" stop-color="#ff0200"/><stop offset="0.7099" stop-color="#feff01"/><stop offset="0.7771" stop-color="#6aff95"/><stop offset="0.8424" stop-color="#02fffd"/><stop offset="0.9319" stop-color="#00a8ff"/><stop offset="0.9991" stop-color="#007cff"/></linearGradient><linearGradient id="g119"><stop offset="0.0009" stop-color="#005cff"/><stop offset="0.1390" stop-color="#00b0ff"/><stop offset="0.2136" stop-color="#00fcff"/><stop offset="0.2621" stop-color="#4affb5"/><stop offset="0.3162" stop-color="#c4ff3b"/><stop offset="0.3386" stop-color="#fffd00"/><stop offset="0.4263" stop-color="#ff0000"/><stop offset="0.4655" stop-color="#ae0000"/><stop offset="0.4991" stop-color="#8e0000"/><stop offset="0.5364" stop-color="#970000"/><stop offset="0.5774" stop-color="#c80000"/><stop offset="0.6091" stop-color="#ff0600"/><stop offset="0.7118" stop-color="#fbff04"/><stop offset="0.7789" stop-color="#68ff97"/><stop offset="0.8442" stop-color="#01fffe"/><stop offset="0.9300" stop-color="#00aaff"/><stop offset="0.9991" stop-color="#007dff"/></linearGradient><linearGradient id="g120"><stop offset="0.0009" stop-color="#005dff"/><stop offset="0.1390" stop-color="#00b1ff"/><stop offset="0.2174" stop-color="#03fffc"/><stop offset="0.2733" stop-color="#61ff9e"/><stop offset="0.3274" stop-color="#e3ff1c"/><stop offset="0.3386" stop-color="#fffc00"/><stop offset="0.4263" stop-color="#ff0000"/><stop offset="0.4655" stop-color="#af0000"/><stop offset="0.4991" stop-color="#8f0000"/><stop offset="0.5364" stop-color="#970000"/><stop offset="0.5774" stop-color="#c80000"/><stop offset="0.6091" stop-color="#ff0500"/><stop offset="0.7118" stop-color="#fdff02"/><stop offset="0.7789" stop-color="#6aff95"/><stop offset="0.8442" stop-color="#03fffc"/><stop offset="0.9356" stop-color="#00a7ff"/><stop offset="0.9991" stop-color="#007eff"/></linearGradient><linearGradient id="g121"><stop offset="0.0009" stop-color="#005dff"/><stop offset="0.1390" stop-color="#00b1ff"/><stop offset="0.2174" stop-color="#04fffb"/><stop offset="0.2733" stop-color="#62ff9d"/><stop offset="0.3274" stop-color="#e4ff1b"/><stop offset="0.3386" stop-color="#fffb00"/><stop offset="0.4263" stop-color="#ff0000"/><stop offset="0.4655" stop-color="#af0000"/><stop offset="0.4991" stop-color="#8f0000"/><stop offset="0.5364" stop-color="#980000"/><stop offset="0.5774" stop-color="#c80000"/><stop offset="0.6091" stop-color="#ff0400"/><stop offset="0.7136" stop-color="#faff05"/><stop offset="0.7808" stop-color="#68ff97"/><stop offset="0.8461" stop-color="#01fffe"/><stop offset="0.9338" stop-color="#00a9ff"/><stop offset="0.9991" stop-color="#007fff"/></linearGradient><linearGradient id="g122"><stop offset="0.0009" stop-color="#005eff"/><stop offset="0.1390" stop-color="#00b2ff"/><stop offset="0.2174" stop-color="#04fffb"/><stop offset="0.2733" stop-color="#63ff9c"/><stop offset="0.3293" stop-color="#eaff15"/><stop offset="0.3386" stop-color="#fffa00"/><stop offset="0.4263" stop-color="#ff0000"/><stop offset="0.4655" stop-color="#b00000"/><stop offset="0.4991" stop-color="#900000"/><stop offset="0.5382" stop-color="#990000"/><stop offset="0.5793" stop-color="#ca0000"/><stop offset="0.6091" stop-color="#ff0400"/><stop offset="0.7136" stop-color="#fcff03"/><stop offset="0.7826" stop-color="#66ff99"/><stop offset="0.8479" stop-color="#00ffff"/><stop offset="0.9300" stop-color="#00adff"/><stop offset="0.9991" stop-color="#007fff"/></linearGradient><linearGradient id="g123"><stop offset="0.0009" stop-color="#005fff"/><stop offset="0.1371" stop-color="#00b1ff"/><stop offset="0.2118" stop-color="#00fcff"/><stop offset="0.2603" stop-color="#4affb5"/><stop offset="0.3144" stop-color="#c3ff3c"/><stop offset="0.3386" stop-color="#fff900"/><stop offset="0.4263" stop-color="#ff0000"/><stop offset="0.4655" stop-color="#b00000"/><stop offset="0.4991" stop-color="#910000"/><stop offset="0.5382" stop-color="#9a0000"/><stop offset="0.5793" stop-color="#ca0000"/><stop offset="0.6091" stop-color="#ff0300"/><stop offset="0.7136" stop-color="#feff01"/><stop offset="0.7826" stop-color="#68ff97"/><stop offset="0.8479" stop-color="#02fffd"/><stop offset="0.9356" stop-color="#00aaff"/><stop offset="0.9991" stop-color="#0080ff"/></linearGradient><linearGradient id="g124"><stop offset="0.0009" stop-color="#005fff"/><stop offset="0.1371" stop-color="#00b1ff"/><stop offset="0.2118" stop-color="#00fdff"/><stop offset="0.2603" stop-color="#4bffb4"/><stop offset="0.3144" stop-color="#c4ff3b"/><stop offset="0.3368" stop-color="#fffe00"/><stop offset="0.4263" stop-color="#ff0000"/><stop offset="0.4655" stop-color="#b10000"/><stop offset="0.4991" stop-color="#910000"/><stop offset="0.5382" stop-color="#9a0000"/><stop offset="0.5812" stop-color="#cd0000"/><stop offset="0.6091" stop-color="#ff0300"/><stop offset="0.7080" stop-color="#fff100"/><stop offset="0.7155" stop-color="#fbff04"/><stop offset="0.7845" stop-color="#66ff99"/><stop offset="0.8498" stop-color="#00ffff"/><stop offset="0.9319" stop-color="#00adff"/><stop offset="0.9991" stop-color="#0081ff"/></linearGradient><linearGradient id="g125"><stop offset="0.0009" stop-color="#0060ff"/><stop offset="0.1371" stop-color="#00b1ff"/><stop offset="0.2155" stop-color="#03fffc"/><stop offset="0.2715" stop-color="#61ff9e"/><stop offset="0.3274" stop-color="#e7ff18"/><stop offset="0.3386" stop-color="#fff800"/><stop offset="0.4263" stop-color="#ff0000"/><stop offset="0.4655" stop-color="#b10000"/><stop offset="0.4991" stop-color="#920000"/><stop offset="0.5382" stop-color="#9b0000"/><stop offset="0.5812" stop-color="#cd0000"/><stop offset="0.6091" stop-color="#ff0200"/><stop offset="0.7006" stop-color="#ffdd00"/><stop offset="0.7155" stop-color="#fdff02"/><stop offset="0.7845" stop-color="#68ff97"/><stop offset="0.8498" stop-color="#02fffd"/><stop offset="0.9375" stop-color="#00aaff"/><stop offset="0.9991" stop-color="#0081ff"/></linearGradient><linearGradient id="g126"><stop offset="0.0009" stop-color="#0060ff"/><stop offset="0.1371" stop-color="#00b1ff"/><stop offset="0.2099" stop-color="#00fbff"/><stop offset="0.2528" stop-color="#3effc1"/><stop offset="0.3069" stop-color="#b3ff4c"/><stop offset="0.3368" stop-color="#fffc00"/><stop offset="0.4263" stop-color="#ff0000"/><stop offset="0.4674" stop-color="#af0000"/><stop offset="0.5009" stop-color="#920000"/><stop offset="0.5401" stop-color="#9d0000"/><stop offset="0.5830" stop-color="#d00000"/><stop offset="0.6110" stop-color="#ff0500"/><stop offset="0.7155" stop-color="#feff01"/><stop offset="0.7864" stop-color="#66ff99"/><stop offset="0.8517" stop-color="#00ffff"/><stop offset="0.9338" stop-color="#00adff"/><stop offset="0.9991" stop-color="#0082ff"/></linearGradient><linearGradient id="g127"><stop offset="0.0009" stop-color="#0061ff"/><stop offset="0.1353" stop-color="#00b0ff"/><stop offset="0.2099" stop-color="#00fbff"/><stop offset="0.2547" stop-color="#42ffbd"/><stop offset="0.3088" stop-color="#b8ff47"/><stop offset="0.3368" stop-color="#fffb00"/><stop offset="0.4263" stop-color="#ff0100"/><stop offset="0.4674" stop-color="#b00000"/><stop offset="0.5009" stop-color="#930000"/><stop offset="0.5401" stop-color="#9d0000"/><stop offset="0.5830" stop-color="#d00000"/><stop offset="0.6110" stop-color="#ff0500"/><stop offset="0.7118" stop-color="#fff500"/><stop offset="0.7192" stop-color="#f7ff08"/><stop offset="0.7882" stop-color="#64ff9b"/><stop offset="0.8517" stop-color="#01fffe"/><stop offset="0.9375" stop-color="#00abff"/><stop offset="0.9991" stop-color="#0083ff"/></linearGradient><linearGradient id="g128"><stop offset="0.0009" stop-color="#0061ff"/><stop offset="0.1353" stop-color="#00b0ff"/><stop offset="0.2080" stop-color="#00f9ff"/><stop offset="0.2323" stop-color="#1dffe2"/><stop offset="0.2864" stop-color="#83ff7c"/><stop offset="0.3368" stop-color="#fffb00"/><stop offset="0.4244" stop-color="#ff0500"/><stop offset="0.4655" stop-color="#b30000"/><stop offset="0.4991" stop-color="#940000"/><stop offset="0.5382" stop-color="#9c0000"/><stop offset="0.5812" stop-color="#cd0000"/><stop offset="0.6110" stop-color="#ff0500"/><stop offset="0.7043" stop-color="#ffe200"/><stop offset="0.7174" stop-color="#fdff02"/><stop offset="0.7882" stop-color="#65ff9a"/><stop offset="0.8535" stop-color="#00ffff"/><stop offset="0.9338" stop-color="#00afff"/><stop offset="0.9991" stop-color="#0083ff"/></linearGradient><linearGradient id="g129"><stop offset="0.0009" stop-color="#0061ff"/><stop offset="0.1353" stop-color="#00b0ff"/><stop offset="0.2080" stop-color="#00faff"/><stop offset="0.2341" stop-color="#20ffdf"/><stop offset="0.2901" stop-color="#8dff72"/><stop offset="0.3368" stop-color="#fffa00"/><stop offset="0.4244" stop-color="#ff0600"/><stop offset="0.4524" stop-color="#c90000"/><stop offset="0.4879" stop-color="#9b0000"/><stop offset="0.5233" stop-color="#960000"/><stop offset="0.5644" stop-color="#b60000"/><stop offset="0.6110" stop-color="#ff0400"/><stop offset="0.7006" stop-color="#ffd700"/><stop offset="0.7192" stop-color="#faff05"/><stop offset="0.7901" stop-color="#63ff9c"/><stop offset="0.8535" stop-color="#01fffe"/><stop offset="0.9375" stop-color="#00acff"/><stop offset="0.9991" stop-color="#0084ff"/></linearGradient><linearGradient id="g130"><stop offset="0.0009" stop-color="#0062ff"/><stop offset="0.1353" stop-color="#00b0ff"/><stop offset="0.2080" stop-color="#00faff"/><stop offset="0.2379" stop-color="#27ffd8"/><stop offset="0.2938" stop-color="#96ff69"/><stop offset="0.3349" stop-color="#ffff00"/><stop offset="0.4244" stop-color="#ff0600"/><stop offset="0.4450" stop-color="#d80000"/><stop offset="0.4823" stop-color="#a10000"/><stop offset="0.5159" stop-color="#950000"/><stop offset="0.5569" stop-color="#ae0000"/><stop offset="0.6035" stop-color="#f40000"/><stop offset="0.6129" stop-color="#ff0800"/><stop offset="0.7155" stop-color="#fffa00"/><stop offset="0.7826" stop-color="#73ff8c"/><stop offset="0.8498" stop-color="#07fff8"/><stop offset="0.8685" stop-color="#00efff"/><stop offset="0.9524" stop-color="#00a2ff"/><stop offset="0.9991" stop-color="#0084ff"/></linearGradient><linearGradient id="g131"><stop offset="0.0009" stop-color="#0062ff"/><stop offset="0.1334" stop-color="#00afff"/><stop offset="0.2062" stop-color="#00f8ff"/><stop offset="0.2211" stop-color="#0dfff2"/><stop offset="0.2771" stop-color="#71ff8e"/><stop offset="0.3349" stop-color="#fffe00"/><stop offset="0.4244" stop-color="#ff0600"/><stop offset="0.4412" stop-color="#e00000"/><stop offset="0.4785" stop-color="#a50000"/><stop offset="0.5121" stop-color="#950000"/><stop offset="0.5532" stop-color="#aa0000"/><stop offset="0.5979" stop-color="#ea0000"/><stop offset="0.6110" stop-color="#ff0400"/><stop offset="0.6968" stop-color="#ffcb00"/><stop offset="0.7192" stop-color="#fdff02"/><stop offset="0.7901" stop-color="#66ff99"/><stop offset="0.8554" stop-color="#01fffe"/><stop offset="0.9375" stop-color="#00adff"/><stop offset="0.9991" stop-color="#0084ff"/></linearGradient><linearGradient id="g132"><stop offset="0.0009" stop-color="#0062ff"/><stop offset="0.1334" stop-color="#00afff"/><stop offset="0.2062" stop-color="#00f8ff"/><stop offset="0.2211" stop-color="#0dfff2"/><stop offset="0.2771" stop-color="#71ff8e"/><stop offset="0.3349" stop-color="#fffd00"/><stop offset="0.4244" stop-color="#ff0700"/><stop offset="0.4375" stop-color="#e80000"/><stop offset="0.4748" stop-color="#aa0000"/><stop offset="0.5084" stop-color="#960000"/><stop offset="0.5494" stop-color="#a70000"/><stop offset="0.5942" stop-color="#e30000"/><stop offset="0.6110" stop-color="#ff0300"/><stop offset="0.6950" stop-color="#ffc500"/><stop offset="0.7211" stop-color="#faff05"/><stop offset="0.7920" stop-color="#64ff9b"/><stop offset="0.8554" stop-color="#02fffd"/><stop offset="0.9412" stop-color="#00abff"/><stop offset="0.9991" stop-color="#0085ff"/></linearGradient><linearGradient id="g133"><stop offset="0.0009" stop-color="#0062ff"/><stop offset="0.1334" stop-color="#00afff"/><stop offset="0.2062" stop-color="#00f8ff"/><stop offset="0.2211" stop-color="#0efff1"/><stop offset="0.2771" stop-color="#72ff8d"/><stop offset="0.3349" stop-color="#fffd00"/><stop offset="0.4244" stop-color="#ff0700"/><stop offset="0.4356" stop-color="#ed0000"/><stop offset="0.4748" stop-color="#ab0000"/><stop offset="0.5084" stop-color="#970000"/><stop offset="0.5494" stop-color="#a80000"/><stop offset="0.5942" stop-color="#e30000"/><stop offset="0.6110" stop-color="#ff0300"/><stop offset="0.6931" stop-color="#ffc000"/><stop offset="0.7211" stop-color="#fbff04"/><stop offset="0.7938" stop-color="#62ff9d"/><stop offset="0.8573" stop-color="#00ffff"/><stop offset="0.9375" stop-color="#00aeff"/><stop offset="0.9991" stop-color="#0085ff"/></linearGradient><linearGradient id="g134"><stop offset="0.0009" stop-color="#0062ff"/><stop offset="0.1315" stop-color="#00adff"/><stop offset="0.2043" stop-color="#00f6ff"/><stop offset="0.2192" stop-color="#0bfff4"/><stop offset="0.2752" stop-color="#6eff91"/><stop offset="0.3349" stop-color="#fffd00"/><stop offset="0.4244" stop-color="#ff0800"/><stop offset="0.4338" stop-color="#f10000"/><stop offset="0.4729" stop-color="#ae0000"/><stop offset="0.5065" stop-color="#980000"/><stop offset="0.5476" stop-color="#a70000"/><stop offset="0.5924" stop-color="#e00000"/><stop offset="0.6110" stop-color="#ff0300"/><stop offset="0.6912" stop-color="#ffba00"/><stop offset="0.7211" stop-color="#fdff02"/><stop offset="0.7938" stop-color="#63ff9c"/><stop offset="0.8573" stop-color="#01fffe"/><stop offset="0.9412" stop-color="#00acff"/><stop offset="0.9991" stop-color="#0085ff"/></linearGradient><linearGradient id="g135"><stop offset="0.0009" stop-color="#0062ff"/><stop offset="0.1315" stop-color="#00adff"/><stop offset="0.2043" stop-color="#00f6ff"/><stop offset="0.2192" stop-color="#0bfff4"/><stop offset="0.2752" stop-color="#6fff90"/><stop offset="0.3349" stop-color="#fffc00"/><stop offset="0.4226" stop-color="#ff0d00"/><stop offset="0.4300" stop-color="#fa0000"/><stop offset="0.4692" stop-color="#b40000"/><stop offset="0.5047" stop-color="#990000"/><stop offset="0.5457" stop-color="#a60000"/><stop offset="0.5905" stop-color="#dd0000"/><stop offset="0.6110" stop-color="#ff0300"/><stop offset="0.6912" stop-color="#ffb900"/><stop offset="0.7211" stop-color="#feff01"/><stop offset="0.7938" stop-color="#64ff9b"/><stop offset="0.8591" stop-color="#00feff"/><stop offset="0.9394" stop-color="#00aeff"/><stop offset="0.9991" stop-color="#0086ff"/></linearGradient><linearGradient id="g136"><stop offset="0.0009" stop-color="#0062ff"/><stop offset="0.1315" stop-color="#00adff"/><stop offset="0.2043" stop-color="#00f6ff"/><stop offset="0.2192" stop-color="#0bfff4"/><stop offset="0.2752" stop-color="#6fff90"/><stop offset="0.3349" stop-color="#fffc00"/><stop offset="0.4226" stop-color="#ff0d00"/><stop offset="0.4300" stop-color="#fb0000"/><stop offset="0.4692" stop-color="#b50000"/><stop offset="0.5047" stop-color="#9a0000"/><stop offset="0.5457" stop-color="#a70000"/><stop offset="0.5905" stop-color="#dd0000"/><stop offset="0.6110" stop-color="#ff0300"/><stop offset="0.6894" stop-color="#ffb300"/><stop offset="0.7229" stop-color="#fbff04"/><stop offset="0.7957" stop-color="#62ff9d"/><stop offset="0.8591" stop-color="#00ffff"/><stop offset="0.9394" stop-color="#00aeff"/><stop offset="0.9991" stop-color="#0086ff"/></linearGradient></defs><rect x="90" y="693" width="536" height="1" fill="url(#g0)"/><rect x="90" y="694" width="536" height="1" fill="url(#g1)"/><rect x="90" y="695" width="536" height="1" fill="url(#g2)"/><rect x="90" y="696" width="536" height="1" fill="url(#g3)"/><rect x="90" y="697" width="536" height="1" fill="url(#g4)"/><rect x="90" y="698" width="536" height="1" fill="url(#g5)"/><rect x="90" y="699" width="536" height="1" fill="url(#g6)"/><rect x="90" y="700" width="536" height="1" fill="url(#g7)"/><rect x="90" y="701" width="536" height="1" fill="url(#g8)"/><rect x="90" y="702" width="536" height="1" fill="url(#g9)"/><rect x="90" y="703" width="536" height="1" fill="url(#g10)"/><rect x="90" y="704" width="536" height="1" fill="url(#g11)"/><rect x="90" y="705" width="536" height="1" fill="url(#g12)"/><rect x="90" y="706" width="536" height="1" fill="url(#g13)"/><rect x="90" y="707" width="536" height="1" fill="url(#g14)"/><rect x="90" y="708" width="536" height="1" fill="url(#g15)"/><rect x="90" y="709" width="536" height="1" fill="url(#g16)"/><rect x="90" y="710" width="536" height="1" fill="url(#g17)"/><rect x="90" y="711" width="536" height="1" fill="url(#g18)"/><rect x="90" y="712" width="536" height="1" fill="url(#g19)"/><rect x="90" y="713" width="536" height="1" fill="url(#g20)"/><rect x="90" y="714" width="536" height="1" fill="url(#g21)"/><rect x="90" y="715" width="536" height="1" fill="url(#g22)"/><rect x="90" y="716" width="536" height="1" fill="url(#g23)"/><rect x="90" y="717" width="536" height="1" fill="url(#g24)"/><rect x="90" y="718" width="536" height="1" fill="url(#g25)"/><rect x="90" y="719" width="536" height="1" fill="url(#g26)"/><rect x="90" y="720" width="536" height="1" fill="url(#g27)"/><rect x="90" y="721" width="536" height="1" fill="url(#g28)"/><rect x="90" y="722" width="536" height="1" fill="url(#g29)"/><rect x="90" y="723" width="536" height="1" fill="url(#g30)"/><rect x="90" y="724" width="536" height="1" fill="url(#g31)"/><rect x="90" y="725" width="536" height="1" fill="url(#g32)"/><rect x="90" y="726" width="536" height="1" fill="url(#g33)"/><rect x="90" y="727" width="536" height="1" fill="url(#g34)"/><rect x="90" y="728" width="536" height="1" fill="url(#g35)"/><rect x="90" y="729" width="536" height="1" fill="url(#g36)"/><rect x="90" y="730" width="536" height="1" fill="url(#g37)"/><rect x="90" y="731" width="536" height="1" fill="url(#g38)"/><rect x="90" y="732" width="536" height="1" fill="url(#g39)"/><rect x="90" y="733" width="536" height="1" fill="url(#g40)"/><rect x="90" y="734" width="536" height="1" fill="url(#g41)"/><rect x="90" y="735" width="536" height="1" fill="url(#g42)"/><rect x="90" y="736" width="536" height="1" fill="url(#g43)"/><rect x="90" y="737" width="536" height="1" fill="url(#g44)"/><rect x="90" y="738" width="536" height="1" fill="url(#g45)"/><rect x="90" y="739" width="536" height="1" fill="url(#g46)"/><rect x="90" y="740" width="536" height="1" fill="url(#g47)"/><rect x="90" y="741" width="536" height="1" fill="url(#g48)"/><rect x="90" y="742" width="536" height="1" fill="url(#g49)"/><rect x="90" y="743" width="536" height="1" fill="url(#g50)"/><rect x="90" y="744" width="536" height="1" fill="url(#g51)"/><rect x="90" y="745" width="536" height="1" fill="url(#g52)"/><rect x="90" y="746" width="536" height="1" fill="url(#g53)"/><rect x="90" y="747" width="536" height="1" fill="url(#g54)"/><rect x="90" y="748" width="536" height="1" fill="url(#g55)"/><rect x="90" y="749" width="536" height="1" fill="url(#g56)"/><rect x="90" y="750" width="536" height="1" fill="url(#g57)"/><rect x="90" y="751" width="536" height="1" fill="url(#g58)"/><rect x="90" y="752" width="536" height="1" fill="url(#g59)"/><rect x="90" y="753" width="536" height="1" fill="url(#g60)"/><rect x="90" y="754" width="536" height="1" fill="url(#g61)"/><rect x="90" y="755" width="536" height="1" fill="url(#g62)"/><rect x="90" y="756" width="536" height="1" fill="url(#g63)"/><rect x="90" y="757" width="536" height="1" fill="url(#g64)"/><rect x="90" y="758" width="536" height="1" fill="url(#g65)"/><rect x="90" y="759" width="536" height="1" fill="url(#g66)"/><rect x="90" y="760" width="536" height="1" fill="url(#g67)"/><rect x="90" y="761" width="536" height="1" fill="url(#g68)"/><rect x="90" y="762" width="536" height="1" fill="url(#g69)"/><rect x="90" y="763" width="536" height="1" fill="url(#g70)"/><rect x="90" y="764" width="536" height="1" fill="url(#g71)"/><rect x="90" y="765" width="536" height="1" fill="url(#g72)"/><rect x="90" y="766" width="536" height="1" fill="url(#g73)"/><rect x="90" y="767" width="536" height="1" fill="url(#g74)"/><rect x="90" y="768" width="536" height="1" fill="url(#g75)"/><rect x="90" y="769" width="536" height="1" fill="url(#g76)"/><rect x="90" y="770" width="536" height="1" fill="url(#g77)"/><rect x="90" y="771" width="536" height="1" fill="url(#g78)"/><rect x="90" y="772" width="536" height="1" fill="url(#g79)"/><rect x="90" y="773" width="536" height="1" fill="url(#g80)"/><rect x="90" y="774" width="536" height="1" fill="url(#g81)"/><rect x="90" y="775" width="536" height="1" fill="url(#g82)"/><rect x="90" y="776" width="536" height="1" fill="url(#g83)"/><rect x="90" y="777" width="536" height="1" fill="url(#g84)"/><rect x="90" y="778" width="536" height="1" fill="url(#g85)"/><rect x="90" y="779" width="536" height="1" fill="url(#g86)"/><rect x="90" y="780" width="536" height="1" fill="url(#g87)"/><rect x="90" y="781" width="536" height="1" fill="url(#g88)"/><rect x="90" y="782" width="536" height="1" fill="url(#g89)"/><rect x="90" y="783" width="536" height="1" fill="url(#g90)"/><rect x="90" y="784" width="536" height="1" fill="url(#g91)"/><rect x="90" y="785" width="536" height="1" fill="url(#g92)"/><rect x="90" y="786" width="536" height="1" fill="url(#g93)"/><rect x="90" y="787" width="536" height="1" fill="url(#g94)"/><rect x="90" y="788" width="536" height="1" fill="url(#g95)"/><rect x="90" y="789" width="536" height="1" fill="url(#g96)"/><rect x="90" y="790" width="536" height="1" fill="url(#g97)"/><rect x="90" y="791" width="536" height="1" fill="url(#g98)"/><rect x="90" y="792" width="536" height="1" fill="url(#g99)"/><rect x="90" y="793" width="536" height="1" fill="url(#g100)"/><rect x="90" y="794" width="536" height="1" fill="url(#g101)"/><rect x="90" y="795" width="536" height="1" fill="url(#g102)"/><rect x="90" y="796" width="536" height="1" fill="url(#g103)"/><rect x="90" y="797" width="536" height="1" fill="url(#g104)"/><rect x="90" y="798" width="536" height="1" fill="url(#g105)"/><rect x="90" y="799" width="536" height="1" fill="url(#g106)"/><rect x="90" y="800" width="536" height="1" fill="url(#g107)"/><rect x="90" y="801" width="536" height="1" fill="url(#g108)"/><rect x="90" y="802" width="536" height="1" fill="url(#g109)"/><rect x="90" y="803" width="536" height="1" fill="url(#g110)"/><rect x="90" y="804" width="536" height="1" fill="url(#g111)"/><rect x="90" y="805" width="536" height="1" fill="url(#g112)"/><rect x="90" y="806" width="536" height="1" fill="url(#g113)"/><rect x="90" y="807" width="536" height="1" fill="url(#g114)"/><rect x="90" y="808" width="536" height="1" fill="url(#g115)"/><rect x="90" y="809" width="536" height="1" fill="url(#g116)"/><rect x="90" y="810" width="536" height="1" fill="url(#g117)"/><rect x="90" y="811" width="536" height="1" fill="url(#g118)"/><rect x="90" y="812" width="536" height="1" fill="url(#g119)"/><rect x="90" y="813" width="536" height="1" fill="url(#g120)"/><rect x="90" y="814" width="536" height="1" fill="url(#g121)"/><rect x="90" y="815" width="536" height="1" fill="url(#g122)"/><rect x="90" y="816" width="536" height="1" fill="url(#g123)"/><rect x="90" y="817" width="536" height="1" fill="url(#g124)"/><rect x="90" y="818" width="536" height="1" fill="url(#g125)"/><rect x="90" y="819" width="536" height="1" fill="url(#g126)"/><rect x="90" y="820" width="536" height="1" fill="url(#g127)"/><rect x="90" y="821" width="536" height="1" fill="url(#g128)"/><rect x="90" y="822" width="536" height="1" fill="url(#g129)"/><rect x="90" y="823" width="536" height="1" fill="url(#g130)"/><rect x="90" y="824" width="536" height="1" fill="url(#g131)"/><rect x="90" y="825" width="536" height="1" fill="url(#g132)"/><rect x="90" y="826" width="536" height="1" fill="url(#g133)"/><rect x="90" y="827" width="536" height="1" fill="url(#g134)"/><rect x="90" y="828" width="536" height="1" fill="url(#g135)"/><rect x="90" y="829" width="536" height="1" fill="url(#g136)"/>
<path d="M193.5 830v-5M193.5 693v5M296.5 830v-5M296.5 693v5M399.5 830v-5M399.5 693v5M502.5 830v-5M502.5 693v5M605.5 830v-5M605.5 693v5M90 726.5h5M626 726.5h-5M90 760.5h5M626 760.5h-5M90 794.5h5M626 794.5h-5" stroke="#222" stroke-width="1" fill="none"/>
<rect x="90.5" y="693.5" width="535" height="136" fill="none" stroke="#222" stroke-width="1"/>
<text transform="translate(90.50,848.00) scale(1.15,1)" font-size="16" text-anchor="middle" font-weight="bold" fill="#000">0</text>
<text transform="translate(193.50,848.00) scale(1.15,1)" font-size="16" text-anchor="middle" font-weight="bold" fill="#000">100</text>
<text transform="translate(296.50,848.00) scale(1.15,1)" font-size="16" text-anchor="middle" font-weight="bold" fill="#000">200</text>
<text transform="translate(399.50,848.00) scale(1.15,1)" font-size="16" text-anchor="middle" font-weight="bold" fill="#000">300</text>
<text transform="translate(502.50,848.00) scale(1.15,1)" font-size="16" text-anchor="middle" font-weight="bold" fill="#000">400</text>
<text transform="translate(605.50,848.00) scale(1.15,1)" font-size="16" text-anchor="middle" font-weight="bold" fill="#000">500</text>
<text transform="translate(86.50,733.00) scale(1.15,1)" font-size="16" text-anchor="end" font-weight="bold" fill="#000">20</text>
<text transform="translate(86.50,767.10) scale(1.15,1)" font-size="16" text-anchor="end" font-weight="bold" fill="#000">40</text>
<text transform="translate(86.50,801.20) scale(1.15,1)" font-size="16" text-anchor="end" font-weight="bold" fill="#000">60</text>
<text transform="translate(86.50,835.50) scale(1.15,1)" font-size="16" text-anchor="end" font-weight="bold" fill="#000">80</text>
<text transform="translate(111.00,721.30) scale(1.0,1)" font-size="21" text-anchor="start" font-weight="bold" fill="#000">(d)</text>
<text transform="translate(25.80,762.30) scale(1.15,1) rotate(-90)" font-size="18.5" text-anchor="middle" font-weight="bold" fill="#000">Depth</text>
<text transform="translate(51.20,762.60) scale(1.15,1) rotate(-90)" font-size="18.5" text-anchor="middle" font-weight="bold" fill="#000">(m)</text>
<text transform="translate(357.40,872.60) scale(1.1,1)" font-size="18.5" text-anchor="middle" font-weight="bold" fill="#000">x (m)</text>
<text transform="translate(323.50,801.70) scale(1.14,1)" font-size="18.3" text-anchor="start" font-weight="bold" fill="#111">R−max = 0.99</text>
<ellipse cx="367.7" cy="763.8" rx="5.1" ry="4.5" fill="#000"/>
<defs><linearGradient id="cb" x1="0" y1="1" x2="0" y2="0"><stop offset="0" stop-color="#000080"/><stop offset="0.125" stop-color="#0000ff"/><stop offset="0.375" stop-color="#00ffff"/><stop offset="0.625" stop-color="#ffff00"/><stop offset="0.875" stop-color="#ff0000"/><stop offset="1" stop-color="#800000"/></linearGradient></defs>
<rect x="639.5" y="721" width="20.5" height="108.5" fill="url(#cb)" stroke="#000" stroke-width="1"/>
<path d="M660 742.3h-2.5M660 764.6h-2.5M660 786.8h-2.5M660 809.3h-2.5" stroke="#000" stroke-width="1"/>
<text transform="translate(650.00,709.00) scale(1.15,1)" font-size="16" text-anchor="middle" font-weight="bold" fill="#000">R</text>
<text transform="translate(664.00,747.30) scale(1.15,1)" font-size="14.5" text-anchor="start" font-weight="bold" fill="#000">0.8</text>
<text transform="translate(664.00,769.60) scale(1.15,1)" font-size="14.5" text-anchor="start" font-weight="bold" fill="#000">0.6</text>
<text transform="translate(664.00,791.80) scale(1.15,1)" font-size="14.5" text-anchor="start" font-weight="bold" fill="#000">0.4</text>
<text transform="translate(664.00,814.30) scale(1.15,1)" font-size="14.5" text-anchor="start" font-weight="bold" fill="#000">0.2</text>
</svg></body></html>
